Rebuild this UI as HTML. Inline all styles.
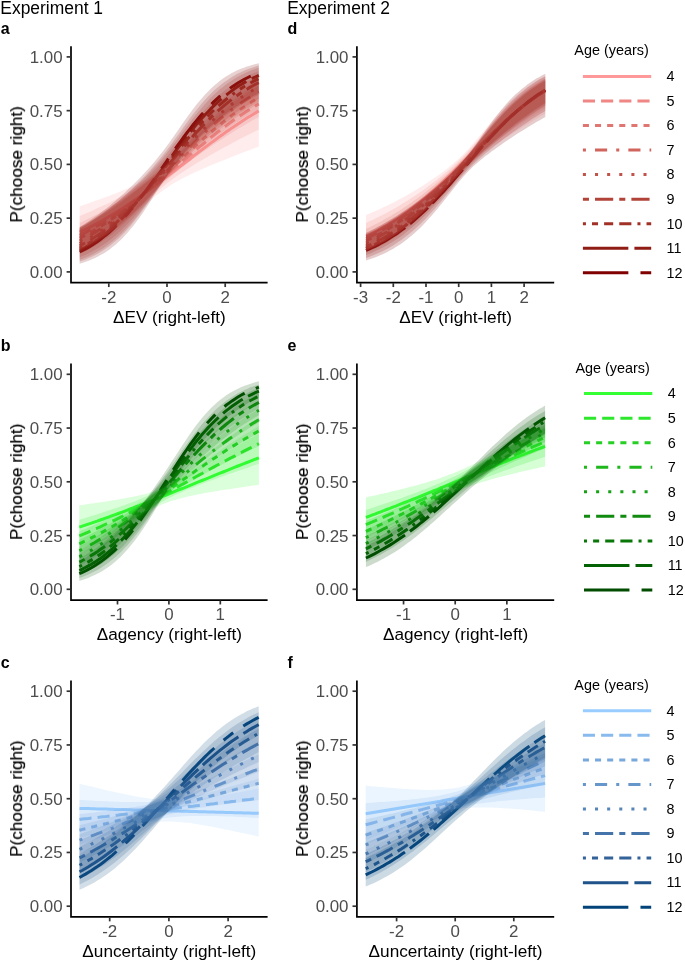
<!DOCTYPE html>
<html lang="en">
<head>
<meta charset="utf-8">
<title>Figure</title>
<style>
html,body{margin:0;padding:0;background:#fff;}
body{width:685px;height:963px;overflow:hidden;font-family:"Liberation Sans", sans-serif;}
svg{display:block;}
text{font-family:"Liberation Sans", sans-serif;filter:url(#nf);}
.tk{font-size:16.9px;fill:#4d4d4d;}
.ti{font-size:17.2px;fill:#000;}
.hd{font-size:17.45px;fill:#000;}
.yt{stroke:#000;stroke-width:0.18px;}
.pl{font-size:16px;font-weight:bold;fill:#000;}
.lt{font-size:14.4px;fill:#000;}
.ll{font-size:14.4px;fill:#000;}
</style>
</head>
<body>
<svg width="685" height="963" viewBox="0 0 685 963">
<defs><filter id="nf" x="-5%" y="-5%" width="110%" height="110%" color-interpolation-filters="sRGB"><feOffset dx="0" dy="0"/></filter></defs>
<rect width="685" height="963" fill="#fff"/>
<g>
<path d="M79.7,232.1 82.7,230.7 85.7,229.3 88.7,227.8 91.6,226.3 94.6,224.7 97.6,223.1 100.6,221.5 103.6,219.8 106.6,218.1 109.6,216.3 112.5,214.5 115.5,212.7 118.5,210.8 121.5,208.9 124.5,207.0 127.5,205.1 130.4,203.1 133.4,201.0 136.4,199.0 139.4,196.9 142.4,194.8 145.4,192.7 148.4,190.5 151.3,188.3 154.3,186.1 157.3,183.9 160.3,181.6 163.3,179.4 166.3,177.1 169.3,174.8 172.2,172.5 175.2,170.2 178.2,167.9 181.2,165.6 184.2,163.3 187.2,161.0 190.2,158.7 193.1,156.4 196.1,154.1 199.1,151.8 202.1,149.6 205.1,147.3 208.1,145.1 211.0,142.9 214.0,140.7 217.0,138.5 220.0,136.3 223.0,134.2 226.0,132.1 229.0,130.0 231.9,127.9 234.9,125.9 237.9,123.9 240.9,121.9 243.9,120.0 246.9,118.1 249.9,116.2 252.8,114.4 255.8,112.6 258.8,110.9" fill="none" stroke="#ff9999" stroke-width="3.00"/>
<path d="M79.7,235.3 82.7,233.8 85.7,232.3 88.7,230.7 91.6,229.1 94.6,227.5 97.6,225.7 100.6,224.0 103.6,222.2 106.6,220.4 109.6,218.5 112.5,216.5 115.5,214.6 118.5,212.5 121.5,210.5 124.5,208.4 127.5,206.2 130.4,204.0 133.4,201.8 136.4,199.5 139.4,197.2 142.4,194.9 145.4,192.5 148.4,190.1 151.3,187.7 154.3,185.2 157.3,182.7 160.3,180.3 163.3,177.7 166.3,175.2 169.3,172.7 172.2,170.1 175.2,167.6 178.2,165.0 181.2,162.5 184.2,159.9 187.2,157.3 190.2,154.8 193.1,152.3 196.1,149.7 199.1,147.2 202.1,144.8 205.1,142.3 208.1,139.9 211.0,137.4 214.0,135.1 217.0,132.7 220.0,130.4 223.0,128.1 226.0,125.9 229.0,123.6 231.9,121.5 234.9,119.3 237.9,117.3 240.9,115.2 243.9,113.2 246.9,111.2 249.9,109.3 252.8,107.5 255.8,105.7 258.8,103.9" fill="none" stroke="#f08785" stroke-width="3.00" stroke-dasharray="12.12 6.06"/>
<path d="M79.7,238.2 82.7,236.7 85.7,235.1 88.7,233.5 91.6,231.8 94.6,230.1 97.6,228.3 100.6,226.5 103.6,224.5 106.6,222.6 109.6,220.6 112.5,218.5 115.5,216.4 118.5,214.2 121.5,212.0 124.5,209.7 127.5,207.3 130.4,204.9 133.4,202.5 136.4,200.0 139.4,197.5 142.4,194.9 145.4,192.3 148.4,189.7 151.3,187.0 154.3,184.3 157.3,181.6 160.3,178.9 163.3,176.1 166.3,173.3 169.3,170.5 172.2,167.7 175.2,164.9 178.2,162.1 181.2,159.3 184.2,156.5 187.2,153.7 190.2,150.9 193.1,148.1 196.1,145.4 199.1,142.7 202.1,140.0 205.1,137.4 208.1,134.8 211.0,132.2 214.0,129.6 217.0,127.1 220.0,124.7 223.0,122.3 226.0,119.9 229.0,117.6 231.9,115.4 234.9,113.2 237.9,111.0 240.9,108.9 243.9,106.9 246.9,104.9 249.9,103.0 252.8,101.1 255.8,99.3 258.8,97.6" fill="none" stroke="#e07671" stroke-width="3.00" stroke-dasharray="6.06 6.06"/>
<path d="M79.7,240.9 82.7,239.4 85.7,237.8 88.7,236.1 91.6,234.4 94.6,232.6 97.6,230.7 100.6,228.8 103.6,226.8 106.6,224.8 109.6,222.6 112.5,220.4 115.5,218.2 118.5,215.8 121.5,213.4 124.5,211.0 127.5,208.5 130.4,205.9 133.4,203.2 136.4,200.6 139.4,197.8 142.4,195.0 145.4,192.2 148.4,189.3 151.3,186.4 154.3,183.4 157.3,180.5 160.3,177.5 163.3,174.4 166.3,171.4 169.3,168.3 172.2,165.3 175.2,162.2 178.2,159.1 181.2,156.1 184.2,153.1 187.2,150.0 190.2,147.0 193.1,144.1 196.1,141.1 199.1,138.2 202.1,135.4 205.1,132.6 208.1,129.8 211.0,127.1 214.0,124.4 217.0,121.8 220.0,119.2 223.0,116.7 226.0,114.3 229.0,112.0 231.9,109.7 234.9,107.4 237.9,105.2 240.9,103.1 243.9,101.1 246.9,99.1 249.9,97.2 252.8,95.4 255.8,93.6 258.8,91.9" fill="none" stroke="#d1655d" stroke-width="3.00" stroke-dasharray="3.03 9.09 12.12 9.09"/>
<path d="M79.7,243.5 82.7,241.9 85.7,240.3 88.7,238.6 91.6,236.8 94.6,235.0 97.6,233.1 100.6,231.1 103.6,229.0 106.6,226.8 109.6,224.6 112.5,222.3 115.5,219.9 118.5,217.4 121.5,214.9 124.5,212.3 127.5,209.6 130.4,206.8 133.4,204.0 136.4,201.1 139.4,198.1 142.4,195.1 145.4,192.0 148.4,188.9 151.3,185.8 154.3,182.5 157.3,179.3 160.3,176.0 163.3,172.8 166.3,169.5 169.3,166.2 172.2,162.8 175.2,159.5 178.2,156.2 181.2,152.9 184.2,149.7 187.2,146.4 190.2,143.2 193.1,140.1 196.1,136.9 199.1,133.9 202.1,130.8 205.1,127.9 208.1,125.0 211.0,122.2 214.0,119.4 217.0,116.7 220.0,114.1 223.0,111.5 226.0,109.0 229.0,106.6 231.9,104.3 234.9,102.1 237.9,99.9 240.9,97.8 243.9,95.8 246.9,93.9 249.9,92.1 252.8,90.3 255.8,88.6 258.8,86.9" fill="none" stroke="#c1544a" stroke-width="3.00" stroke-dasharray="3.03 9.09"/>
<path d="M79.7,245.9 82.7,244.3 85.7,242.7 88.7,241.0 91.6,239.2 94.6,237.3 97.6,235.3 100.6,233.3 103.6,231.1 106.6,228.9 109.6,226.5 112.5,224.1 115.5,221.6 118.5,219.0 121.5,216.3 124.5,213.5 127.5,210.7 130.4,207.7 133.4,204.7 136.4,201.6 139.4,198.4 142.4,195.2 145.4,191.9 148.4,188.5 151.3,185.1 154.3,181.7 157.3,178.2 160.3,174.6 163.3,171.1 166.3,167.5 169.3,164.0 172.2,160.4 175.2,156.9 178.2,153.3 181.2,149.8 184.2,146.3 187.2,142.9 190.2,139.5 193.1,136.1 196.1,132.8 199.1,129.6 202.1,126.4 205.1,123.4 208.1,120.4 211.0,117.4 214.0,114.6 217.0,111.8 220.0,109.2 223.0,106.6 226.0,104.1 229.0,101.7 231.9,99.4 234.9,97.2 237.9,95.0 240.9,93.0 243.9,91.1 246.9,89.2 249.9,87.4 252.8,85.7 255.8,84.1 258.8,82.6" fill="none" stroke="#b14338" stroke-width="3.00" stroke-dasharray="6.06 6.06 18.18 6.06"/>
<path d="M79.7,248.1 82.7,246.5 85.7,244.9 88.7,243.2 91.6,241.4 94.6,239.4 97.6,237.4 100.6,235.3 103.6,233.1 106.6,230.8 109.6,228.4 112.5,225.9 115.5,223.3 118.5,220.5 121.5,217.7 124.5,214.8 127.5,211.8 130.4,208.6 133.4,205.4 136.4,202.1 139.4,198.7 142.4,195.3 145.4,191.7 148.4,188.1 151.3,184.5 154.3,180.8 157.3,177.0 160.3,173.2 163.3,169.4 166.3,165.6 169.3,161.8 172.2,158.0 175.2,154.2 178.2,150.4 181.2,146.7 184.2,143.0 187.2,139.4 190.2,135.8 193.1,132.3 196.1,128.8 199.1,125.5 202.1,122.2 205.1,119.0 208.1,115.9 211.0,112.9 214.0,110.0 217.0,107.2 220.0,104.6 223.0,102.0 226.0,99.5 229.0,97.1 231.9,94.9 234.9,92.7 237.9,90.6 240.9,88.6 243.9,86.8 246.9,85.0 249.9,83.3 252.8,81.7 255.8,80.2 258.8,78.7" fill="none" stroke="#a13126" stroke-width="3.00" stroke-dasharray="3.03 6.06 6.06 6.06 9.09 6.06 12.12 6.06"/>
<path d="M79.7,250.1 82.7,248.6 85.7,247.0 88.7,245.2 91.6,243.4 94.6,241.5 97.6,239.5 100.6,237.3 103.6,235.1 106.6,232.7 109.6,230.2 112.5,227.6 115.5,224.9 118.5,222.1 121.5,219.1 124.5,216.0 127.5,212.8 130.4,209.5 133.4,206.1 136.4,202.6 139.4,199.0 142.4,195.3 145.4,191.6 148.4,187.7 151.3,183.8 154.3,179.9 157.3,175.8 160.3,171.8 163.3,167.8 166.3,163.7 169.3,159.6 172.2,155.6 175.2,151.5 178.2,147.5 181.2,143.6 184.2,139.7 187.2,135.9 190.2,132.1 193.1,128.5 196.1,124.9 199.1,121.4 202.1,118.1 205.1,114.8 208.1,111.7 211.0,108.6 214.0,105.7 217.0,102.9 220.0,100.2 223.0,97.7 226.0,95.2 229.0,92.9 231.9,90.7 234.9,88.6 237.9,86.6 240.9,84.7 243.9,82.9 246.9,81.3 249.9,79.7 252.8,78.2 255.8,76.8 258.8,75.4" fill="none" stroke="#901d15" stroke-width="3.00" stroke-dasharray="45.45 6.06 24.24 6.06"/>
<path d="M79.7,252.0 82.7,250.5 85.7,248.9 88.7,247.2 91.6,245.4 94.6,243.4 97.6,241.4 100.6,239.2 103.6,236.9 106.6,234.5 109.6,232.0 112.5,229.3 115.5,226.5 118.5,223.5 121.5,220.5 124.5,217.2 127.5,213.9 130.4,210.4 133.4,206.9 136.4,203.1 139.4,199.3 142.4,195.4 145.4,191.4 148.4,187.3 151.3,183.2 154.3,179.0 157.3,174.7 160.3,170.4 163.3,166.1 166.3,161.8 169.3,157.4 172.2,153.2 175.2,148.9 178.2,144.7 181.2,140.6 184.2,136.5 187.2,132.5 190.2,128.6 193.1,124.8 196.1,121.1 199.1,117.6 202.1,114.1 205.1,110.8 208.1,107.6 211.0,104.6 214.0,101.7 217.0,98.9 220.0,96.2 223.0,93.7 226.0,91.3 229.0,89.1 231.9,86.9 234.9,84.9 237.9,83.0 240.9,81.2 243.9,79.5 246.9,78.0 249.9,76.5 252.8,75.1 255.8,73.8 258.8,72.6" fill="none" stroke="#800000" stroke-width="3.00" stroke-dasharray="45.45 12.12 12.12 12.12 24.24 12.12 12.12 12.12"/>
<path d="M79.7,206.2 82.7,205.2 85.7,204.2 88.7,203.2 91.6,202.2 94.6,201.1 97.6,200.1 100.6,199.0 103.6,197.9 106.6,196.8 109.6,195.7 112.5,194.6 115.5,193.4 118.5,192.2 121.5,191.0 124.5,189.8 127.5,188.5 130.4,187.2 133.4,185.9 136.4,184.5 139.4,183.0 142.4,181.5 145.4,179.9 148.4,178.2 151.3,176.5 154.3,174.6 157.3,172.6 160.3,170.5 163.3,168.2 166.3,165.8 169.3,163.3 172.2,160.6 175.2,157.9 178.2,155.0 181.2,152.1 184.2,149.1 187.2,146.1 190.2,143.1 193.1,140.1 196.1,137.0 199.1,134.0 202.1,131.0 205.1,128.0 208.1,125.1 211.0,122.2 214.0,119.4 217.0,116.7 220.0,114.0 223.0,111.4 226.0,108.8 229.0,106.3 231.9,103.9 234.9,101.6 237.9,99.4 240.9,97.3 243.9,95.2 246.9,93.2 249.9,91.3 252.8,89.5 255.8,87.7 258.8,86.1 L258.8,146.6 255.8,147.7 252.8,148.8 249.9,149.9 246.9,151.1 243.9,152.2 240.9,153.3 237.9,154.5 234.9,155.7 231.9,156.8 229.0,158.0 226.0,159.2 223.0,160.4 220.0,161.6 217.0,162.8 214.0,164.0 211.0,165.3 208.1,166.5 205.1,167.8 202.1,169.1 199.1,170.4 196.1,171.8 193.1,173.2 190.2,174.6 187.2,176.1 184.2,177.6 181.2,179.1 178.2,180.8 175.2,182.5 172.2,184.3 169.3,186.2 166.3,188.2 163.3,190.3 160.3,192.5 157.3,194.7 154.3,197.1 151.3,199.6 148.4,202.1 145.4,204.6 142.4,207.1 139.4,209.7 136.4,212.2 133.4,214.7 130.4,217.2 127.5,219.6 124.5,222.0 121.5,224.3 118.5,226.6 115.5,228.7 112.5,230.9 109.6,232.9 106.6,234.9 103.6,236.8 100.6,238.6 97.6,240.4 94.6,242.0 91.6,243.6 88.7,245.2 85.7,246.6 82.7,248.0 79.7,249.4Z" fill="#ff9999" fill-opacity="0.18"/>
<path d="M79.7,216.1 82.7,214.8 85.7,213.5 88.7,212.2 91.6,210.9 94.6,209.5 97.6,208.1 100.6,206.7 103.6,205.3 106.6,203.9 109.6,202.4 112.5,200.9 115.5,199.4 118.5,197.8 121.5,196.3 124.5,194.7 127.5,193.0 130.4,191.3 133.4,189.6 136.4,187.8 139.4,186.0 142.4,184.1 145.4,182.2 148.4,180.2 151.3,178.1 154.3,175.9 157.3,173.7 160.3,171.3 163.3,168.8 166.3,166.2 169.3,163.5 172.2,160.7 175.2,157.8 178.2,154.8 181.2,151.8 184.2,148.7 187.2,145.7 190.2,142.6 193.1,139.5 196.1,136.4 199.1,133.3 202.1,130.3 205.1,127.3 208.1,124.3 211.0,121.5 214.0,118.6 217.0,115.9 220.0,113.2 223.0,110.6 226.0,108.0 229.0,105.6 231.9,103.2 234.9,100.9 237.9,98.7 240.9,96.5 243.9,94.5 246.9,92.5 249.9,90.6 252.8,88.8 255.8,87.1 258.8,85.5 L258.8,129.6 255.8,131.0 252.8,132.5 249.9,134.0 246.9,135.5 243.9,137.0 240.9,138.6 237.9,140.1 234.9,141.7 231.9,143.3 229.0,144.9 226.0,146.5 223.0,148.1 220.0,149.8 217.0,151.4 214.0,153.1 211.0,154.8 208.1,156.5 205.1,158.3 202.1,160.0 199.1,161.8 196.1,163.6 193.1,165.4 190.2,167.3 187.2,169.2 184.2,171.2 181.2,173.1 178.2,175.2 175.2,177.3 172.2,179.5 169.3,181.8 166.3,184.1 163.3,186.5 160.3,189.0 157.3,191.6 154.3,194.2 151.3,196.9 148.4,199.6 145.4,202.3 142.4,205.0 139.4,207.7 136.4,210.3 133.4,212.9 130.4,215.5 127.5,218.1 124.5,220.5 121.5,222.9 118.5,225.3 115.5,227.5 112.5,229.7 109.6,231.8 106.6,233.9 103.6,235.8 100.6,237.7 97.6,239.5 94.6,241.3 91.6,242.9 88.7,244.5 85.7,246.0 82.7,247.4 79.7,248.8Z" fill="#f08785" fill-opacity="0.18"/>
<path d="M79.7,223.0 82.7,221.6 85.7,220.1 88.7,218.6 91.6,217.1 94.6,215.5 97.6,213.9 100.6,212.3 103.6,210.6 106.6,208.9 109.6,207.2 112.5,205.5 115.5,203.7 118.5,201.8 121.5,200.0 124.5,198.1 127.5,196.1 130.4,194.1 133.4,192.1 136.4,190.0 139.4,187.9 142.4,185.7 145.4,183.5 148.4,181.2 151.3,178.8 154.3,176.4 157.3,173.8 160.3,171.2 163.3,168.4 166.3,165.6 169.3,162.7 172.2,159.7 175.2,156.7 178.2,153.5 181.2,150.4 184.2,147.2 187.2,144.0 190.2,140.7 193.1,137.5 196.1,134.4 199.1,131.2 202.1,128.1 205.1,125.0 208.1,122.1 211.0,119.1 214.0,116.3 217.0,113.5 220.0,110.8 223.0,108.1 226.0,105.6 229.0,103.1 231.9,100.8 234.9,98.5 237.9,96.3 240.9,94.2 243.9,92.2 246.9,90.3 249.9,88.4 252.8,86.7 255.8,85.0 258.8,83.4 L258.8,116.9 255.8,118.6 252.8,120.2 249.9,121.9 246.9,123.7 243.9,125.4 240.9,127.2 237.9,129.0 234.9,130.8 231.9,132.7 229.0,134.6 226.0,136.5 223.0,138.4 220.0,140.4 217.0,142.3 214.0,144.3 211.0,146.4 208.1,148.4 205.1,150.5 202.1,152.6 199.1,154.7 196.1,156.9 193.1,159.1 190.2,161.3 187.2,163.6 184.2,165.9 181.2,168.2 178.2,170.7 175.2,173.1 172.2,175.6 169.3,178.2 166.3,180.9 163.3,183.6 160.3,186.4 157.3,189.2 154.3,192.1 151.3,195.0 148.4,197.9 145.4,200.8 142.4,203.7 139.4,206.6 136.4,209.4 133.4,212.2 130.4,214.9 127.5,217.5 124.5,220.1 121.5,222.6 118.5,225.1 115.5,227.4 112.5,229.7 109.6,231.9 106.6,234.0 103.6,236.0 100.6,238.0 97.6,239.8 94.6,241.6 91.6,243.3 88.7,244.9 85.7,246.4 82.7,247.9 79.7,249.3Z" fill="#e07671" fill-opacity="0.18"/>
<path d="M79.7,226.9 82.7,225.3 85.7,223.8 88.7,222.2 91.6,220.5 94.6,218.8 97.6,217.1 100.6,215.3 103.6,213.5 106.6,211.6 109.6,209.7 112.5,207.8 115.5,205.8 118.5,203.7 121.5,201.7 124.5,199.6 127.5,197.4 130.4,195.2 133.4,192.9 136.4,190.6 139.4,188.3 142.4,185.9 145.4,183.4 148.4,180.8 151.3,178.2 154.3,175.5 157.3,172.7 160.3,169.9 163.3,166.9 166.3,163.9 169.3,160.7 172.2,157.5 175.2,154.2 178.2,150.9 181.2,147.5 184.2,144.1 187.2,140.7 190.2,137.4 193.1,134.0 196.1,130.7 199.1,127.4 202.1,124.2 205.1,121.0 208.1,117.9 211.0,114.9 214.0,112.0 217.0,109.2 220.0,106.4 223.0,103.8 226.0,101.3 229.0,98.8 231.9,96.5 234.9,94.2 237.9,92.1 240.9,90.1 243.9,88.1 246.9,86.3 249.9,84.5 252.8,82.8 255.8,81.2 258.8,79.7 L258.8,108.9 255.8,110.6 252.8,112.3 249.9,114.1 246.9,115.9 243.9,117.7 240.9,119.6 237.9,121.5 234.9,123.5 231.9,125.5 229.0,127.5 226.0,129.6 223.0,131.7 220.0,133.8 217.0,136.0 214.0,138.2 211.0,140.4 208.1,142.7 205.1,145.0 202.1,147.3 199.1,149.7 196.1,152.1 193.1,154.5 190.2,157.0 187.2,159.6 184.2,162.1 181.2,164.8 178.2,167.5 175.2,170.2 172.2,173.0 169.3,175.9 166.3,178.8 163.3,181.8 160.3,184.9 157.3,188.0 154.3,191.2 151.3,194.3 148.4,197.5 145.4,200.6 142.4,203.7 139.4,206.8 136.4,209.8 133.4,212.8 130.4,215.7 127.5,218.5 124.5,221.2 121.5,223.9 118.5,226.4 115.5,228.9 112.5,231.3 109.6,233.5 106.6,235.7 103.6,237.8 100.6,239.8 97.6,241.7 94.6,243.5 91.6,245.2 88.7,246.8 85.7,248.3 82.7,249.8 79.7,251.2Z" fill="#d1655d" fill-opacity="0.18"/>
<path d="M79.7,228.6 82.7,227.0 85.7,225.4 88.7,223.7 91.6,221.9 94.6,220.1 97.6,218.3 100.6,216.4 103.6,214.5 106.6,212.5 109.6,210.5 112.5,208.4 115.5,206.3 118.5,204.1 121.5,201.9 124.5,199.6 127.5,197.3 130.4,194.9 133.4,192.5 136.4,190.0 139.4,187.4 142.4,184.8 145.4,182.2 148.4,179.4 151.3,176.6 154.3,173.7 157.3,170.7 160.3,167.6 163.3,164.5 166.3,161.2 169.3,157.8 172.2,154.4 175.2,150.9 178.2,147.3 181.2,143.7 184.2,140.1 187.2,136.5 190.2,132.9 193.1,129.4 196.1,125.9 199.1,122.5 202.1,119.1 205.1,115.9 208.1,112.7 211.0,109.6 214.0,106.7 217.0,103.8 220.0,101.1 223.0,98.4 226.0,95.9 229.0,93.5 231.9,91.3 234.9,89.1 237.9,87.0 240.9,85.1 243.9,83.3 246.9,81.5 249.9,79.9 252.8,78.3 255.8,76.9 258.8,75.5 L258.8,103.7 255.8,105.4 252.8,107.1 249.9,108.9 246.9,110.8 243.9,112.6 240.9,114.6 237.9,116.5 234.9,118.5 231.9,120.6 229.0,122.7 226.0,124.8 223.0,127.0 220.0,129.3 217.0,131.5 214.0,133.8 211.0,136.2 208.1,138.6 205.1,141.1 202.1,143.5 199.1,146.1 196.1,148.6 193.1,151.3 190.2,154.0 187.2,156.7 184.2,159.5 181.2,162.3 178.2,165.2 175.2,168.2 172.2,171.3 169.3,174.5 166.3,177.7 163.3,181.0 160.3,184.3 157.3,187.7 154.3,191.1 151.3,194.6 148.4,198.0 145.4,201.4 142.4,204.8 139.4,208.1 136.4,211.3 133.4,214.5 130.4,217.6 127.5,220.6 124.5,223.5 121.5,226.2 118.5,228.9 115.5,231.5 112.5,233.9 109.6,236.3 106.6,238.5 103.6,240.6 100.6,242.6 97.6,244.5 94.6,246.3 91.6,248.0 88.7,249.6 85.7,251.1 82.7,252.5 79.7,253.8Z" fill="#c1544a" fill-opacity="0.18"/>
<path d="M79.7,227.8 82.7,226.1 85.7,224.4 88.7,222.6 91.6,220.8 94.6,219.0 97.6,217.1 100.6,215.1 103.6,213.1 106.6,211.0 109.6,208.9 112.5,206.8 115.5,204.6 118.5,202.3 121.5,200.0 124.5,197.6 127.5,195.2 130.4,192.7 133.4,190.2 136.4,187.6 139.4,185.0 142.4,182.2 145.4,179.4 148.4,176.6 151.3,173.6 154.3,170.6 157.3,167.4 160.3,164.1 163.3,160.8 166.3,157.3 169.3,153.7 172.2,150.1 175.2,146.3 178.2,142.5 181.2,138.7 184.2,134.9 187.2,131.0 190.2,127.2 193.1,123.5 196.1,119.9 199.1,116.3 202.1,112.8 205.1,109.5 208.1,106.2 211.0,103.1 214.0,100.2 217.0,97.3 220.0,94.6 223.0,92.1 226.0,89.6 229.0,87.4 231.9,85.2 234.9,83.2 237.9,81.3 240.9,79.5 243.9,77.8 246.9,76.2 249.9,74.8 252.8,73.4 255.8,72.2 258.8,71.0 L258.8,101.6 255.8,103.2 252.8,105.0 249.9,106.7 246.9,108.5 243.9,110.4 240.9,112.3 237.9,114.3 234.9,116.3 231.9,118.4 229.0,120.5 226.0,122.6 223.0,124.8 220.0,127.1 217.0,129.4 214.0,131.7 211.0,134.1 208.1,136.6 205.1,139.1 202.1,141.6 199.1,144.2 196.1,146.9 193.1,149.6 190.2,152.4 187.2,155.3 184.2,158.2 181.2,161.2 178.2,164.3 175.2,167.5 172.2,170.8 169.3,174.2 166.3,177.7 163.3,181.3 160.3,184.9 157.3,188.6 154.3,192.4 151.3,196.1 148.4,199.9 145.4,203.6 142.4,207.2 139.4,210.8 136.4,214.3 133.4,217.7 130.4,220.9 127.5,224.1 124.5,227.1 121.5,230.0 118.5,232.8 115.5,235.4 112.5,237.9 109.6,240.2 106.6,242.5 103.6,244.6 100.6,246.5 97.6,248.4 94.6,250.1 91.6,251.7 88.7,253.2 85.7,254.7 82.7,256.0 79.7,257.2Z" fill="#b14338" fill-opacity="0.18"/>
<path d="M79.7,227.5 82.7,225.8 85.7,224.0 88.7,222.1 91.6,220.3 94.6,218.3 97.6,216.3 100.6,214.3 103.6,212.2 106.6,210.1 109.6,207.9 112.5,205.6 115.5,203.3 118.5,200.9 121.5,198.5 124.5,196.0 127.5,193.5 130.4,190.9 133.4,188.3 136.4,185.6 139.4,182.8 142.4,179.9 145.4,177.0 148.4,174.0 151.3,170.9 154.3,167.7 157.3,164.4 160.3,160.9 163.3,157.4 166.3,153.7 169.3,150.0 172.2,146.1 175.2,142.2 178.2,138.2 181.2,134.1 184.2,130.1 187.2,126.1 190.2,122.2 193.1,118.3 196.1,114.5 199.1,110.9 202.1,107.4 205.1,104.0 208.1,100.7 211.0,97.6 214.0,94.7 217.0,91.9 220.0,89.3 223.0,86.9 226.0,84.6 229.0,82.4 231.9,80.4 234.9,78.5 237.9,76.8 240.9,75.2 243.9,73.7 246.9,72.3 249.9,71.0 252.8,69.8 255.8,68.7 258.8,67.7 L258.8,98.8 255.8,100.4 252.8,102.1 249.9,103.9 246.9,105.7 243.9,107.5 240.9,109.4 237.9,111.4 234.9,113.4 231.9,115.5 229.0,117.6 226.0,119.8 223.0,122.0 220.0,124.3 217.0,126.6 214.0,129.0 211.0,131.5 208.1,134.0 205.1,136.6 202.1,139.2 199.1,141.9 196.1,144.7 193.1,147.5 190.2,150.4 187.2,153.4 184.2,156.5 181.2,159.7 178.2,163.0 175.2,166.5 172.2,170.0 169.3,173.7 166.3,177.5 163.3,181.3 160.3,185.3 157.3,189.3 154.3,193.4 151.3,197.4 148.4,201.5 145.4,205.4 142.4,209.3 139.4,213.2 136.4,216.9 133.4,220.4 130.4,223.9 127.5,227.2 124.5,230.3 121.5,233.3 118.5,236.1 115.5,238.7 112.5,241.3 109.6,243.6 106.6,245.8 103.6,247.9 100.6,249.8 97.6,251.6 94.6,253.2 91.6,254.7 88.7,256.2 85.7,257.5 82.7,258.7 79.7,259.8Z" fill="#a13126" fill-opacity="0.18"/>
<path d="M79.7,228.8 82.7,227.0 85.7,225.1 88.7,223.2 91.6,221.2 94.6,219.2 97.6,217.1 100.6,215.0 103.6,212.8 106.6,210.5 109.6,208.2 112.5,205.8 115.5,203.4 118.5,200.9 121.5,198.3 124.5,195.7 127.5,193.0 130.4,190.2 133.4,187.4 136.4,184.5 139.4,181.6 142.4,178.5 145.4,175.4 148.4,172.2 151.3,169.0 154.3,165.6 157.3,162.1 160.3,158.5 163.3,154.8 166.3,150.9 169.3,147.0 172.2,142.9 175.2,138.8 178.2,134.7 181.2,130.5 184.2,126.3 187.2,122.2 190.2,118.1 193.1,114.2 196.1,110.4 199.1,106.7 202.1,103.1 205.1,99.7 208.1,96.5 211.0,93.5 214.0,90.6 217.0,87.9 220.0,85.4 223.0,83.1 226.0,80.9 229.0,78.9 231.9,77.0 234.9,75.2 237.9,73.6 240.9,72.2 243.9,70.8 246.9,69.6 249.9,68.4 252.8,67.4 255.8,66.4 258.8,65.6 L258.8,94.5 255.8,96.2 252.8,97.8 249.9,99.6 246.9,101.3 243.9,103.2 240.9,105.1 237.9,107.1 234.9,109.1 231.9,111.2 229.0,113.3 226.0,115.5 223.0,117.8 220.0,120.2 217.0,122.6 214.0,125.0 211.0,127.6 208.1,130.2 205.1,132.9 202.1,135.6 199.1,138.5 196.1,141.4 193.1,144.4 190.2,147.5 187.2,150.7 184.2,154.0 181.2,157.4 178.2,160.9 175.2,164.6 172.2,168.4 169.3,172.4 166.3,176.5 163.3,180.7 160.3,184.9 157.3,189.3 154.3,193.6 151.3,197.9 148.4,202.3 145.4,206.5 142.4,210.6 139.4,214.7 136.4,218.6 133.4,222.3 130.4,225.9 127.5,229.3 124.5,232.5 121.5,235.5 118.5,238.4 115.5,241.1 112.5,243.6 109.6,245.9 106.6,248.1 103.6,250.1 100.6,252.0 97.6,253.7 94.6,255.3 91.6,256.8 88.7,258.1 85.7,259.4 82.7,260.5 79.7,261.5Z" fill="#901d15" fill-opacity="0.18"/>
<path d="M79.7,227.0 82.7,225.2 85.7,223.3 88.7,221.3 91.6,219.2 94.6,217.1 97.6,215.0 100.6,212.8 103.6,210.5 106.6,208.2 109.6,205.8 112.5,203.3 115.5,200.8 118.5,198.2 121.5,195.6 124.5,192.9 127.5,190.1 130.4,187.3 133.4,184.4 136.4,181.4 139.4,178.4 142.4,175.2 145.4,172.0 148.4,168.8 151.3,165.4 154.3,161.9 157.3,158.3 160.3,154.6 163.3,150.7 166.3,146.8 169.3,142.7 172.2,138.5 175.2,134.3 178.2,129.9 181.2,125.6 184.2,121.3 187.2,117.1 190.2,113.0 193.1,109.0 196.1,105.1 199.1,101.4 202.1,97.9 205.1,94.5 208.1,91.4 211.0,88.5 214.0,85.7 217.0,83.2 220.0,80.8 223.0,78.6 226.0,76.6 229.0,74.8 231.9,73.1 234.9,71.5 237.9,70.1 240.9,68.8 243.9,67.7 246.9,66.6 249.9,65.7 252.8,64.8 255.8,64.0 258.8,63.3 L258.8,93.1 255.8,94.7 252.8,96.3 249.9,98.0 246.9,99.8 243.9,101.6 240.9,103.5 237.9,105.4 234.9,107.4 231.9,109.5 229.0,111.6 226.0,113.8 223.0,116.1 220.0,118.4 217.0,120.8 214.0,123.3 211.0,125.9 208.1,128.5 205.1,131.2 202.1,134.0 199.1,136.9 196.1,139.9 193.1,142.9 190.2,146.1 187.2,149.5 184.2,152.9 181.2,156.5 178.2,160.3 175.2,164.2 172.2,168.2 169.3,172.5 166.3,176.8 163.3,181.4 160.3,186.0 157.3,190.6 154.3,195.3 151.3,200.0 148.4,204.6 145.4,209.1 142.4,213.5 139.4,217.7 136.4,221.8 133.4,225.7 130.4,229.3 127.5,232.8 124.5,236.1 121.5,239.2 118.5,242.0 115.5,244.7 112.5,247.1 109.6,249.4 106.6,251.5 103.6,253.4 100.6,255.1 97.6,256.7 94.6,258.2 91.6,259.5 88.7,260.7 85.7,261.8 82.7,262.8 79.7,263.7Z" fill="#800000" fill-opacity="0.18"/>
<path d="M71.00,46.15 V282.65 H267.60" fill="none" stroke="#000" stroke-width="1.70"/>
<path d="M66.60,271.90 H70.50" stroke="#333" stroke-width="1.70"/>
<text x="62.60" y="277.90" text-anchor="end" class="tk">0.00</text>
<path d="M66.60,218.15 H70.50" stroke="#333" stroke-width="1.70"/>
<text x="62.60" y="224.15" text-anchor="end" class="tk">0.25</text>
<path d="M66.60,164.40 H70.50" stroke="#333" stroke-width="1.70"/>
<text x="62.60" y="170.40" text-anchor="end" class="tk">0.50</text>
<path d="M66.60,110.65 H70.50" stroke="#333" stroke-width="1.70"/>
<text x="62.60" y="116.65" text-anchor="end" class="tk">0.75</text>
<path d="M66.60,56.90 H70.50" stroke="#333" stroke-width="1.70"/>
<text x="62.60" y="62.90" text-anchor="end" class="tk">1.00</text>
<path d="M108.80,283.15 V287.05" stroke="#333" stroke-width="1.70"/>
<text x="108.80" y="302.95" text-anchor="middle" class="tk">-2</text>
<path d="M167.00,283.15 V287.05" stroke="#333" stroke-width="1.70"/>
<text x="167.00" y="302.95" text-anchor="middle" class="tk">0</text>
<path d="M225.20,283.15 V287.05" stroke="#333" stroke-width="1.70"/>
<text x="225.20" y="302.95" text-anchor="middle" class="tk">2</text>
<text x="169.30" y="322.95" text-anchor="middle" class="ti">ΔEV (right-left)</text>
<text transform="translate(22.10,164.40) rotate(-90)" text-anchor="middle" class="ti yt">P(choose right)</text>
<text x="0.80" y="33.65" class="pl">a</text>
</g>
<g>
<path d="M79.3,527.2 82.3,526.2 85.3,525.2 88.3,524.2 91.3,523.2 94.3,522.1 97.3,521.1 100.3,520.0 103.3,519.0 106.2,517.9 109.2,516.8 112.2,515.7 115.2,514.6 118.2,513.5 121.2,512.4 124.2,511.3 127.2,510.2 130.2,509.0 133.2,507.9 136.2,506.7 139.2,505.6 142.2,504.4 145.2,503.3 148.2,502.1 151.1,500.9 154.1,499.7 157.1,498.6 160.1,497.4 163.1,496.2 166.1,495.0 169.1,493.8 172.1,492.6 175.1,491.4 178.1,490.2 181.1,489.0 184.1,487.8 187.1,486.6 190.1,485.3 193.1,484.1 196.0,482.9 199.0,481.7 202.0,480.5 205.0,479.3 208.0,478.1 211.0,476.8 214.0,475.6 217.0,474.4 220.0,473.2 223.0,472.0 226.0,470.8 229.0,469.6 232.0,468.4 235.0,467.2 237.9,466.0 240.9,464.8 243.9,463.7 246.9,462.5 249.9,461.3 252.9,460.1 255.9,459.0 258.9,457.8" fill="none" stroke="#33ff33" stroke-width="3.00"/>
<path d="M79.3,535.9 82.3,534.7 85.3,533.4 88.3,532.1 91.3,530.8 94.3,529.5 97.3,528.2 100.3,526.8 103.3,525.4 106.2,524.0 109.2,522.6 112.2,521.2 115.2,519.8 118.2,518.3 121.2,516.8 124.2,515.3 127.2,513.8 130.2,512.3 133.2,510.8 136.2,509.3 139.2,507.7 142.2,506.1 145.2,504.6 148.2,503.0 151.1,501.4 154.1,499.8 157.1,498.2 160.1,496.5 163.1,494.9 166.1,493.3 169.1,491.6 172.1,490.0 175.1,488.3 178.1,486.7 181.1,485.0 184.1,483.4 187.1,481.7 190.1,480.1 193.1,478.4 196.0,476.8 199.0,475.1 202.0,473.5 205.0,471.8 208.0,470.2 211.0,468.5 214.0,466.9 217.0,465.3 220.0,463.7 223.0,462.1 226.0,460.5 229.0,458.9 232.0,457.3 235.0,455.8 237.9,454.2 240.9,452.7 243.9,451.1 246.9,449.6 249.9,448.1 252.9,446.6 255.9,445.2 258.9,443.7" fill="none" stroke="#2ce72c" stroke-width="3.00" stroke-dasharray="12.12 6.06"/>
<path d="M79.3,543.8 82.3,542.3 85.3,540.9 88.3,539.4 91.3,537.9 94.3,536.4 97.3,534.8 100.3,533.2 103.3,531.5 106.2,529.9 109.2,528.2 112.2,526.5 115.2,524.7 118.2,522.9 121.2,521.1 124.2,519.3 127.2,517.5 130.2,515.6 133.2,513.7 136.2,511.7 139.2,509.8 142.2,507.8 145.2,505.9 148.2,503.8 151.1,501.8 154.1,499.8 157.1,497.8 160.1,495.7 163.1,493.6 166.1,491.6 169.1,489.5 172.1,487.4 175.1,485.3 178.1,483.2 181.1,481.1 184.1,479.0 187.1,476.9 190.1,474.8 193.1,472.7 196.0,470.6 199.0,468.6 202.0,466.5 205.0,464.5 208.0,462.4 211.0,460.4 214.0,458.4 217.0,456.4 220.0,454.4 223.0,452.5 226.0,450.5 229.0,448.6 232.0,446.7 235.0,444.9 237.9,443.0 240.9,441.2 243.9,439.5 246.9,437.7 249.9,436.0 252.9,434.3 255.9,432.6 258.9,430.9" fill="none" stroke="#25cf24" stroke-width="3.00" stroke-dasharray="6.06 6.06"/>
<path d="M79.3,550.7 82.3,549.2 85.3,547.6 88.3,546.0 91.3,544.4 94.3,542.7 97.3,540.9 100.3,539.1 103.3,537.3 106.2,535.4 109.2,533.5 112.2,531.5 115.2,529.5 118.2,527.4 121.2,525.3 124.2,523.2 127.2,521.0 130.2,518.8 133.2,516.5 136.2,514.2 139.2,511.9 142.2,509.5 145.2,507.1 148.2,504.7 151.1,502.3 154.1,499.8 157.1,497.3 160.1,494.9 163.1,492.3 166.1,489.8 169.1,487.3 172.1,484.8 175.1,482.2 178.1,479.7 181.1,477.1 184.1,474.6 187.1,472.1 190.1,469.6 193.1,467.1 196.0,464.6 199.0,462.1 202.0,459.7 205.0,457.3 208.0,454.9 211.0,452.5 214.0,450.2 217.0,447.9 220.0,445.6 223.0,443.4 226.0,441.2 229.0,439.0 232.0,436.9 235.0,434.8 237.9,432.8 240.9,430.8 243.9,428.8 246.9,426.9 249.9,425.1 252.9,423.3 255.9,421.5 258.9,419.8" fill="none" stroke="#1eb81d" stroke-width="3.00" stroke-dasharray="3.03 9.09 12.12 9.09"/>
<path d="M79.3,556.8 82.3,555.3 85.3,553.6 88.3,552.0 91.3,550.2 94.3,548.4 97.3,546.5 100.3,544.6 103.3,542.6 106.2,540.5 109.2,538.4 112.2,536.2 115.2,534.0 118.2,531.7 121.2,529.3 124.2,526.9 127.2,524.4 130.2,521.9 133.2,519.3 136.2,516.6 139.2,513.9 142.2,511.2 145.2,508.4 148.2,505.6 151.1,502.7 154.1,499.9 157.1,496.9 160.1,494.0 163.1,491.1 166.1,488.1 169.1,485.1 172.1,482.1 175.1,479.2 178.1,476.2 181.1,473.2 184.1,470.3 187.1,467.3 190.1,464.4 193.1,461.5 196.0,458.6 199.0,455.8 202.0,453.0 205.0,450.3 208.0,447.6 211.0,444.9 214.0,442.3 217.0,439.8 220.0,437.3 223.0,434.8 226.0,432.4 229.0,430.1 232.0,427.9 235.0,425.7 237.9,423.5 240.9,421.5 243.9,419.4 246.9,417.5 249.9,415.6 252.9,413.8 255.9,412.0 258.9,410.3" fill="none" stroke="#17a116" stroke-width="3.00" stroke-dasharray="3.03 9.09"/>
<path d="M79.3,562.1 82.3,560.5 85.3,558.9 88.3,557.2 91.3,555.4 94.3,553.6 97.3,551.7 100.3,549.6 103.3,547.5 106.2,545.3 109.2,543.1 112.2,540.7 115.2,538.3 118.2,535.8 121.2,533.2 124.2,530.5 127.2,527.7 130.2,524.9 133.2,522.0 136.2,519.0 139.2,516.0 142.2,512.8 145.2,509.7 148.2,506.5 151.1,503.2 154.1,499.9 157.1,496.5 160.1,493.2 163.1,489.8 166.1,486.4 169.1,482.9 172.1,479.5 175.1,476.1 178.1,472.7 181.1,469.3 184.1,465.9 187.1,462.6 190.1,459.3 193.1,456.1 196.0,452.9 199.0,449.7 202.0,446.6 205.0,443.6 208.0,440.6 211.0,437.8 214.0,434.9 217.0,432.2 220.0,429.6 223.0,427.0 226.0,424.5 229.0,422.1 232.0,419.8 235.0,417.5 237.9,415.4 240.9,413.3 243.9,411.3 246.9,409.4 249.9,407.5 252.9,405.8 255.9,404.1 258.9,402.5" fill="none" stroke="#108b0f" stroke-width="3.00" stroke-dasharray="6.06 6.06 18.18 6.06"/>
<path d="M79.3,566.6 82.3,565.1 85.3,563.5 88.3,561.9 91.3,560.1 94.3,558.2 97.3,556.3 100.3,554.2 103.3,552.1 106.2,549.8 109.2,547.4 112.2,544.9 115.2,542.3 118.2,539.7 121.2,536.9 124.2,534.0 127.2,530.9 130.2,527.8 133.2,524.6 136.2,521.3 139.2,518.0 142.2,514.5 145.2,510.9 148.2,507.3 151.1,503.6 154.1,499.9 157.1,496.1 160.1,492.3 163.1,488.5 166.1,484.6 169.1,480.8 172.1,476.9 175.1,473.0 178.1,469.2 181.1,465.4 184.1,461.7 187.1,458.0 190.1,454.3 193.1,450.7 196.0,447.2 199.0,443.8 202.0,440.5 205.0,437.2 208.0,434.1 211.0,431.0 214.0,428.1 217.0,425.2 220.0,422.5 223.0,419.8 226.0,417.3 229.0,414.9 232.0,412.6 235.0,410.4 237.9,408.3 240.9,406.3 243.9,404.3 246.9,402.5 249.9,400.8 252.9,399.2 255.9,397.6 258.9,396.2" fill="none" stroke="#097608" stroke-width="3.00" stroke-dasharray="3.03 6.06 6.06 6.06 9.09 6.06 12.12 6.06"/>
<path d="M79.3,570.5 82.3,569.1 85.3,567.5 88.3,565.9 91.3,564.2 94.3,562.4 97.3,560.4 100.3,558.4 103.3,556.2 106.2,553.9 109.2,551.4 112.2,548.9 115.2,546.2 118.2,543.3 121.2,540.4 124.2,537.3 127.2,534.1 130.2,530.7 133.2,527.2 136.2,523.6 139.2,519.9 142.2,516.1 145.2,512.2 148.2,508.2 151.1,504.1 154.1,499.9 157.1,495.7 160.1,491.5 163.1,487.2 166.1,482.9 169.1,478.6 172.1,474.3 175.1,470.0 178.1,465.8 181.1,461.6 184.1,457.5 187.1,453.4 190.1,449.5 193.1,445.6 196.0,441.8 199.0,438.2 202.0,434.6 205.0,431.2 208.0,427.9 211.0,424.8 214.0,421.7 217.0,418.8 220.0,416.1 223.0,413.4 226.0,410.9 229.0,408.6 232.0,406.3 235.0,404.2 237.9,402.2 240.9,400.3 243.9,398.5 246.9,396.9 249.9,395.3 252.9,393.8 255.9,392.4 258.9,391.2" fill="none" stroke="#036103" stroke-width="3.00" stroke-dasharray="45.45 6.06 24.24 6.06"/>
<path d="M79.3,573.7 82.3,572.4 85.3,571.0 88.3,569.4 91.3,567.8 94.3,566.0 97.3,564.1 100.3,562.1 103.3,559.9 106.2,557.6 109.2,555.1 112.2,552.5 115.2,549.8 118.2,546.8 121.2,543.7 124.2,540.5 127.2,537.1 130.2,533.5 133.2,529.8 136.2,525.9 139.2,521.9 142.2,517.7 145.2,513.4 148.2,509.0 151.1,504.5 154.1,500.0 157.1,495.3 160.1,490.6 163.1,485.9 166.1,481.1 169.1,476.4 172.1,471.7 175.1,467.0 178.1,462.4 181.1,457.8 184.1,453.3 187.1,449.0 190.1,444.7 193.1,440.6 196.0,436.6 199.0,432.8 202.0,429.1 205.0,425.6 208.0,422.2 211.0,419.0 214.0,415.9 217.0,413.1 220.0,410.3 223.0,407.8 226.0,405.3 229.0,403.1 232.0,400.9 235.0,398.9 237.9,397.1 240.9,395.3 243.9,393.7 246.9,392.2 249.9,390.8 252.9,389.5 255.9,388.3 258.9,387.2" fill="none" stroke="#004d00" stroke-width="3.00" stroke-dasharray="45.45 12.12 12.12 12.12 24.24 12.12 12.12 12.12"/>
<path d="M79.3,505.3 82.3,504.9 85.3,504.5 88.3,504.1 91.3,503.6 94.3,503.2 97.3,502.8 100.3,502.3 103.3,501.9 106.2,501.4 109.2,500.9 112.2,500.4 115.2,499.9 118.2,499.4 121.2,498.9 124.2,498.4 127.2,497.8 130.2,497.3 133.2,496.7 136.2,496.1 139.2,495.4 142.2,494.7 145.2,494.0 148.2,493.2 151.1,492.3 154.1,491.4 157.1,490.4 160.1,489.3 163.1,488.2 166.1,487.0 169.1,485.6 172.1,484.2 175.1,482.8 178.1,481.2 181.1,479.6 184.1,478.0 187.1,476.3 190.1,474.5 193.1,472.8 196.0,471.0 199.0,469.2 202.0,467.3 205.0,465.5 208.0,463.7 211.0,461.8 214.0,460.0 217.0,458.1 220.0,456.3 223.0,454.5 226.0,452.6 229.0,450.8 232.0,449.0 235.0,447.3 237.9,445.5 240.9,443.8 243.9,442.0 246.9,440.3 249.9,438.6 252.9,437.0 255.9,435.3 258.9,433.7 L258.9,484.7 255.9,485.2 252.9,485.6 249.9,486.0 246.9,486.5 243.9,486.9 240.9,487.4 237.9,487.8 235.0,488.3 232.0,488.7 229.0,489.2 226.0,489.6 223.0,490.1 220.0,490.6 217.0,491.1 214.0,491.6 211.0,492.1 208.0,492.6 205.0,493.1 202.0,493.7 199.0,494.2 196.0,494.8 193.1,495.4 190.1,496.1 187.1,496.8 184.1,497.5 181.1,498.2 178.1,499.0 175.1,499.9 172.1,500.8 169.1,501.8 166.1,502.9 163.1,504.0 160.1,505.2 157.1,506.5 154.1,507.9 151.1,509.3 148.2,510.7 145.2,512.2 142.2,513.8 139.2,515.3 136.2,516.9 133.2,518.5 130.2,520.1 127.2,521.7 124.2,523.3 121.2,524.9 118.2,526.5 115.2,528.0 112.2,529.6 109.2,531.1 106.2,532.7 103.3,534.2 100.3,535.6 97.3,537.1 94.3,538.5 91.3,539.9 88.3,541.3 85.3,542.7 82.3,544.0 79.3,545.3Z" fill="#33ff33" fill-opacity="0.18"/>
<path d="M79.3,519.8 82.3,518.9 85.3,518.0 88.3,517.1 91.3,516.1 94.3,515.2 97.3,514.2 100.3,513.3 103.3,512.3 106.2,511.3 109.2,510.3 112.2,509.3 115.2,508.3 118.2,507.3 121.2,506.2 124.2,505.2 127.2,504.1 130.2,503.0 133.2,501.9 136.2,500.7 139.2,499.5 142.2,498.3 145.2,497.1 148.2,495.8 151.1,494.4 154.1,493.1 157.1,491.6 160.1,490.1 163.1,488.5 166.1,486.9 169.1,485.1 172.1,483.3 175.1,481.5 178.1,479.6 181.1,477.6 184.1,475.6 187.1,473.6 190.1,471.6 193.1,469.5 196.0,467.4 199.0,465.3 202.0,463.2 205.0,461.1 208.0,459.0 211.0,456.9 214.0,454.8 217.0,452.7 220.0,450.7 223.0,448.6 226.0,446.6 229.0,444.6 232.0,442.6 235.0,440.7 237.9,438.8 240.9,436.9 243.9,435.0 246.9,433.2 249.9,431.4 252.9,429.6 255.9,427.9 258.9,426.2 L258.9,463.8 255.9,464.8 252.9,465.8 249.9,466.9 246.9,467.9 243.9,468.9 240.9,469.9 237.9,471.0 235.0,472.0 232.0,473.0 229.0,474.1 226.0,475.1 223.0,476.2 220.0,477.3 217.0,478.4 214.0,479.4 211.0,480.5 208.0,481.6 205.0,482.8 202.0,483.9 199.0,485.0 196.0,486.2 193.1,487.4 190.1,488.6 187.1,489.8 184.1,491.1 181.1,492.4 178.1,493.7 175.1,495.1 172.1,496.6 169.1,498.1 166.1,499.6 163.1,501.2 160.1,502.9 157.1,504.6 154.1,506.3 151.1,508.1 148.2,510.0 145.2,511.8 142.2,513.7 139.2,515.6 136.2,517.5 133.2,519.3 130.2,521.2 127.2,523.1 124.2,524.9 121.2,526.7 118.2,528.5 115.2,530.3 112.2,532.1 109.2,533.8 106.2,535.5 103.3,537.2 100.3,538.8 97.3,540.4 94.3,542.0 91.3,543.5 88.3,545.0 85.3,546.5 82.3,547.9 79.3,549.3Z" fill="#2ce72c" fill-opacity="0.18"/>
<path d="M79.3,531.4 82.3,530.1 85.3,528.9 88.3,527.6 91.3,526.3 94.3,525.0 97.3,523.6 100.3,522.3 103.3,520.9 106.2,519.5 109.2,518.1 112.2,516.7 115.2,515.2 118.2,513.8 121.2,512.3 124.2,510.8 127.2,509.2 130.2,507.7 133.2,506.1 136.2,504.5 139.2,502.8 142.2,501.2 145.2,499.4 148.2,497.7 151.1,495.9 154.1,494.0 157.1,492.1 160.1,490.2 163.1,488.2 166.1,486.1 169.1,484.0 172.1,481.8 175.1,479.5 178.1,477.2 181.1,474.9 184.1,472.5 187.1,470.1 190.1,467.7 193.1,465.3 196.0,462.9 199.0,460.5 202.0,458.0 205.0,455.6 208.0,453.3 211.0,450.9 214.0,448.5 217.0,446.2 220.0,443.9 223.0,441.7 226.0,439.5 229.0,437.3 232.0,435.2 235.0,433.1 237.9,431.0 240.9,429.0 243.9,427.0 246.9,425.1 249.9,423.2 252.9,421.4 255.9,419.6 258.9,417.9 L258.9,446.2 255.9,447.6 252.9,449.0 249.9,450.5 246.9,451.9 243.9,453.4 240.9,454.8 237.9,456.3 235.0,457.8 232.0,459.3 229.0,460.9 226.0,462.4 223.0,463.9 220.0,465.5 217.0,467.1 214.0,468.7 211.0,470.3 208.0,471.9 205.0,473.5 202.0,475.2 199.0,476.8 196.0,478.5 193.1,480.2 190.1,481.9 187.1,483.7 184.1,485.5 181.1,487.3 178.1,489.1 175.1,491.0 172.1,493.0 169.1,494.9 166.1,497.0 163.1,499.0 160.1,501.1 157.1,503.3 154.1,505.5 151.1,507.6 148.2,509.9 145.2,512.1 142.2,514.3 139.2,516.5 136.2,518.7 133.2,520.9 130.2,523.1 127.2,525.2 124.2,527.3 121.2,529.4 118.2,531.5 115.2,533.5 112.2,535.4 109.2,537.3 106.2,539.2 103.3,541.1 100.3,542.9 97.3,544.6 94.3,546.3 91.3,547.9 88.3,549.5 85.3,551.1 82.3,552.6 79.3,554.1Z" fill="#25cf24" fill-opacity="0.18"/>
<path d="M79.3,539.8 82.3,538.4 85.3,536.9 88.3,535.4 91.3,533.8 94.3,532.3 97.3,530.7 100.3,529.0 103.3,527.4 106.2,525.7 109.2,524.0 112.2,522.2 115.2,520.4 118.2,518.6 121.2,516.8 124.2,514.9 127.2,513.0 130.2,511.1 133.2,509.1 136.2,507.1 139.2,505.0 142.2,502.9 145.2,500.8 148.2,498.6 151.1,496.4 154.1,494.1 157.1,491.8 160.1,489.4 163.1,487.0 166.1,484.5 169.1,481.9 172.1,479.3 175.1,476.6 178.1,473.9 181.1,471.2 184.1,468.4 187.1,465.6 190.1,462.8 193.1,460.0 196.0,457.2 199.0,454.5 202.0,451.7 205.0,449.0 208.0,446.3 211.0,443.7 214.0,441.1 217.0,438.5 220.0,436.0 223.0,433.6 226.0,431.2 229.0,428.9 232.0,426.6 235.0,424.4 237.9,422.2 240.9,420.2 243.9,418.1 246.9,416.2 249.9,414.3 252.9,412.5 255.9,410.7 258.9,409.0 L258.9,432.8 255.9,434.4 252.9,436.0 249.9,437.7 246.9,439.4 243.9,441.1 240.9,442.9 237.9,444.7 235.0,446.5 232.0,448.3 229.0,450.1 226.0,452.0 223.0,453.9 220.0,455.8 217.0,457.8 214.0,459.8 211.0,461.8 208.0,463.8 205.0,465.8 202.0,467.9 199.0,470.0 196.0,472.1 193.1,474.3 190.1,476.4 187.1,478.6 184.1,480.9 181.1,483.2 178.1,485.5 175.1,487.8 172.1,490.2 169.1,492.7 166.1,495.1 163.1,497.7 160.1,500.2 157.1,502.8 154.1,505.4 151.1,508.0 148.2,510.7 145.2,513.3 142.2,515.9 139.2,518.5 136.2,521.0 133.2,523.6 130.2,526.0 127.2,528.5 124.2,530.9 121.2,533.2 118.2,535.5 115.2,537.7 112.2,539.9 109.2,542.0 106.2,544.1 103.3,546.0 100.3,548.0 97.3,549.8 94.3,551.6 91.3,553.3 88.3,555.0 85.3,556.6 82.3,558.2 79.3,559.6Z" fill="#1eb81d" fill-opacity="0.18"/>
<path d="M79.3,546.1 82.3,544.5 85.3,542.9 88.3,541.2 91.3,539.5 94.3,537.8 97.3,536.0 100.3,534.2 103.3,532.3 106.2,530.4 109.2,528.4 112.2,526.4 115.2,524.3 118.2,522.2 121.2,520.1 124.2,517.9 127.2,515.7 130.2,513.4 133.2,511.1 136.2,508.7 139.2,506.3 142.2,503.9 145.2,501.4 148.2,498.8 151.1,496.2 154.1,493.5 157.1,490.8 160.1,488.0 163.1,485.1 166.1,482.2 169.1,479.2 172.1,476.1 175.1,473.0 178.1,469.9 181.1,466.7 184.1,463.6 187.1,460.4 190.1,457.2 193.1,454.0 196.0,450.9 199.0,447.8 202.0,444.7 205.0,441.7 208.0,438.8 211.0,435.9 214.0,433.1 217.0,430.3 220.0,427.7 223.0,425.1 226.0,422.6 229.0,420.2 232.0,417.9 235.0,415.6 237.9,413.5 240.9,411.4 243.9,409.4 246.9,407.5 249.9,405.7 252.9,404.0 255.9,402.3 258.9,400.8 L258.9,422.5 255.9,424.2 252.9,425.9 249.9,427.7 246.9,429.5 243.9,431.4 240.9,433.3 237.9,435.3 235.0,437.3 232.0,439.3 229.0,441.4 226.0,443.5 223.0,445.6 220.0,447.8 217.0,450.0 214.0,452.3 211.0,454.6 208.0,456.9 205.0,459.3 202.0,461.7 199.0,464.2 196.0,466.7 193.1,469.2 190.1,471.8 187.1,474.4 184.1,477.0 181.1,479.7 178.1,482.5 175.1,485.3 172.1,488.1 169.1,491.0 166.1,494.0 163.1,496.9 160.1,500.0 157.1,503.0 154.1,506.1 151.1,509.1 148.2,512.2 145.2,515.2 142.2,518.2 139.2,521.2 136.2,524.1 133.2,527.0 130.2,529.8 127.2,532.5 124.2,535.1 121.2,537.7 118.2,540.2 115.2,542.7 112.2,545.0 109.2,547.3 106.2,549.4 103.3,551.5 100.3,553.5 97.3,555.4 94.3,557.3 91.3,559.0 88.3,560.7 85.3,562.3 82.3,563.8 79.3,565.3Z" fill="#17a116" fill-opacity="0.18"/>
<path d="M79.3,550.1 82.3,548.4 85.3,546.7 88.3,545.0 91.3,543.2 94.3,541.3 97.3,539.4 100.3,537.4 103.3,535.3 106.2,533.3 109.2,531.1 112.2,528.9 115.2,526.6 118.2,524.3 121.2,521.9 124.2,519.5 127.2,517.0 130.2,514.5 133.2,511.9 136.2,509.2 139.2,506.5 142.2,503.7 145.2,500.9 148.2,498.0 151.1,495.0 154.1,491.9 157.1,488.8 160.1,485.6 163.1,482.4 166.1,479.0 169.1,475.6 172.1,472.2 175.1,468.6 178.1,465.1 181.1,461.5 184.1,457.9 187.1,454.3 190.1,450.7 193.1,447.2 196.0,443.7 199.0,440.3 202.0,437.0 205.0,433.7 208.0,430.6 211.0,427.5 214.0,424.6 217.0,421.7 220.0,419.0 223.0,416.3 226.0,413.8 229.0,411.4 232.0,409.2 235.0,407.0 237.9,404.9 240.9,403.0 243.9,401.1 246.9,399.4 249.9,397.7 252.9,396.2 255.9,394.7 258.9,393.3 L258.9,415.2 255.9,416.9 252.9,418.7 249.9,420.5 246.9,422.4 243.9,424.3 240.9,426.3 237.9,428.3 235.0,430.4 232.0,432.5 229.0,434.7 226.0,437.0 223.0,439.3 220.0,441.6 217.0,444.1 214.0,446.5 211.0,449.1 208.0,451.6 205.0,454.3 202.0,456.9 199.0,459.7 196.0,462.5 193.1,465.3 190.1,468.2 187.1,471.2 184.1,474.2 181.1,477.3 178.1,480.4 175.1,483.6 172.1,486.9 169.1,490.2 166.1,493.6 163.1,497.1 160.1,500.6 157.1,504.1 154.1,507.6 151.1,511.1 148.2,514.6 145.2,518.1 142.2,521.5 139.2,524.9 136.2,528.1 133.2,531.3 130.2,534.4 127.2,537.4 124.2,540.3 121.2,543.1 118.2,545.8 115.2,548.4 112.2,550.8 109.2,553.2 106.2,555.4 103.3,557.5 100.3,559.5 97.3,561.4 94.3,563.2 91.3,564.9 88.3,566.5 85.3,568.1 82.3,569.5 79.3,570.8Z" fill="#108b0f" fill-opacity="0.18"/>
<path d="M79.3,554.1 82.3,552.4 85.3,550.7 88.3,548.8 91.3,546.9 94.3,545.0 97.3,542.9 100.3,540.8 103.3,538.6 106.2,536.4 109.2,534.1 112.2,531.7 115.2,529.2 118.2,526.7 121.2,524.0 124.2,521.4 127.2,518.6 130.2,515.8 133.2,512.9 136.2,509.9 139.2,506.9 142.2,503.8 145.2,500.6 148.2,497.3 151.1,494.0 154.1,490.6 157.1,487.1 160.1,483.5 163.1,479.8 166.1,476.1 169.1,472.3 172.1,468.4 175.1,464.5 178.1,460.5 181.1,456.6 184.1,452.6 187.1,448.7 190.1,444.8 193.1,441.0 196.0,437.2 199.0,433.6 202.0,430.1 205.0,426.7 208.0,423.4 211.0,420.2 214.0,417.2 217.0,414.4 220.0,411.6 223.0,409.1 226.0,406.6 229.0,404.3 232.0,402.2 235.0,400.1 237.9,398.2 240.9,396.4 243.9,394.8 246.9,393.2 249.9,391.8 252.9,390.4 255.9,389.2 258.9,388.0 L258.9,408.4 255.9,410.1 252.9,411.8 249.9,413.6 246.9,415.5 243.9,417.4 240.9,419.4 237.9,421.5 235.0,423.6 232.0,425.8 229.0,428.1 226.0,430.4 223.0,432.9 220.0,435.4 217.0,437.9 214.0,440.6 211.0,443.3 208.0,446.1 205.0,448.9 202.0,451.9 199.0,454.9 196.0,458.0 193.1,461.1 190.1,464.3 187.1,467.6 184.1,471.0 181.1,474.5 178.1,478.1 175.1,481.7 172.1,485.4 169.1,489.2 166.1,493.1 163.1,497.0 160.1,501.0 157.1,505.0 154.1,509.0 151.1,512.9 148.2,516.9 145.2,520.7 142.2,524.5 139.2,528.2 136.2,531.8 133.2,535.3 130.2,538.6 127.2,541.8 124.2,544.9 121.2,547.9 118.2,550.6 115.2,553.3 112.2,555.8 109.2,558.2 106.2,560.4 103.3,562.5 100.3,564.5 97.3,566.3 94.3,568.0 91.3,569.6 88.3,571.1 85.3,572.5 82.3,573.8 79.3,575.0Z" fill="#097608" fill-opacity="0.18"/>
<path d="M79.3,558.7 82.3,557.0 85.3,555.2 88.3,553.3 91.3,551.3 94.3,549.3 97.3,547.2 100.3,544.9 103.3,542.6 106.2,540.2 109.2,537.8 112.2,535.2 115.2,532.5 118.2,529.8 121.2,526.9 124.2,524.0 127.2,521.0 130.2,517.8 133.2,514.6 136.2,511.3 139.2,508.0 142.2,504.5 145.2,500.9 148.2,497.3 151.1,493.6 154.1,489.8 157.1,485.9 160.1,481.9 163.1,477.8 166.1,473.7 169.1,469.5 172.1,465.2 175.1,460.9 178.1,456.6 181.1,452.3 184.1,448.0 187.1,443.8 190.1,439.7 193.1,435.6 196.0,431.7 199.0,427.9 202.0,424.3 205.0,420.8 208.0,417.5 211.0,414.3 214.0,411.3 217.0,408.5 220.0,405.9 223.0,403.4 226.0,401.1 229.0,398.9 232.0,396.9 235.0,395.0 237.9,393.3 240.9,391.7 243.9,390.2 246.9,388.9 249.9,387.6 252.9,386.4 255.9,385.4 258.9,384.4 L258.9,401.8 255.9,403.3 252.9,405.0 249.9,406.7 246.9,408.5 243.9,410.4 240.9,412.4 237.9,414.4 235.0,416.5 232.0,418.8 229.0,421.1 226.0,423.5 223.0,426.0 220.0,428.6 217.0,431.3 214.0,434.1 211.0,437.0 208.0,439.9 205.0,443.0 202.0,446.2 199.0,449.5 196.0,452.8 193.1,456.3 190.1,459.9 187.1,463.5 184.1,467.3 181.1,471.2 178.1,475.2 175.1,479.3 172.1,483.4 169.1,487.7 166.1,492.1 163.1,496.5 160.1,500.9 157.1,505.3 154.1,509.8 151.1,514.2 148.2,518.5 145.2,522.8 142.2,526.9 139.2,530.9 136.2,534.8 133.2,538.5 130.2,542.0 127.2,545.4 124.2,548.6 121.2,551.7 118.2,554.5 115.2,557.2 112.2,559.7 109.2,562.1 106.2,564.3 103.3,566.3 100.3,568.2 97.3,570.0 94.3,571.6 91.3,573.1 88.3,574.5 85.3,575.8 82.3,576.9 79.3,578.0Z" fill="#036103" fill-opacity="0.18"/>
<path d="M79.3,561.3 82.3,559.6 85.3,557.7 88.3,555.8 91.3,553.8 94.3,551.7 97.3,549.5 100.3,547.2 103.3,544.8 106.2,542.3 109.2,539.7 112.2,537.0 115.2,534.1 118.2,531.2 121.2,528.2 124.2,525.0 127.2,521.7 130.2,518.4 133.2,514.9 136.2,511.3 139.2,507.7 142.2,503.9 145.2,500.0 148.2,496.1 151.1,492.0 154.1,487.8 157.1,483.6 160.1,479.2 163.1,474.8 166.1,470.3 169.1,465.8 172.1,461.1 175.1,456.5 178.1,451.9 181.1,447.2 184.1,442.7 187.1,438.2 190.1,433.8 193.1,429.6 196.0,425.6 199.0,421.7 202.0,418.0 205.0,414.5 208.0,411.2 211.0,408.1 214.0,405.2 217.0,402.5 220.0,400.0 223.0,397.7 226.0,395.6 229.0,393.6 232.0,391.8 235.0,390.2 237.9,388.7 240.9,387.3 243.9,386.1 246.9,384.9 249.9,383.9 252.9,383.0 255.9,382.1 258.9,381.3 L258.9,397.4 255.9,398.9 252.9,400.4 249.9,402.0 246.9,403.8 243.9,405.6 240.9,407.5 237.9,409.5 235.0,411.6 232.0,413.8 229.0,416.1 226.0,418.5 223.0,421.0 220.0,423.7 217.0,426.4 214.0,429.3 211.0,432.3 208.0,435.4 205.0,438.6 202.0,441.9 199.0,445.4 196.0,449.0 193.1,452.7 190.1,456.6 187.1,460.5 184.1,464.6 181.1,468.9 178.1,473.3 175.1,477.8 172.1,482.4 169.1,487.2 166.1,492.0 163.1,496.9 160.1,501.8 157.1,506.7 154.1,511.6 151.1,516.5 148.2,521.2 145.2,525.8 142.2,530.3 139.2,534.6 136.2,538.7 133.2,542.6 130.2,546.3 127.2,549.8 124.2,553.1 121.2,556.2 118.2,559.1 115.2,561.7 112.2,564.2 109.2,566.4 106.2,568.5 103.3,570.5 100.3,572.2 97.3,573.8 94.3,575.3 91.3,576.6 88.3,577.9 85.3,579.0 82.3,580.0 79.3,580.9Z" fill="#004d00" fill-opacity="0.18"/>
<path d="M71.00,363.55 V600.05 H267.60" fill="none" stroke="#000" stroke-width="1.70"/>
<path d="M66.60,589.30 H70.50" stroke="#333" stroke-width="1.70"/>
<text x="62.60" y="595.30" text-anchor="end" class="tk">0.00</text>
<path d="M66.60,535.55 H70.50" stroke="#333" stroke-width="1.70"/>
<text x="62.60" y="541.55" text-anchor="end" class="tk">0.25</text>
<path d="M66.60,481.80 H70.50" stroke="#333" stroke-width="1.70"/>
<text x="62.60" y="487.80" text-anchor="end" class="tk">0.50</text>
<path d="M66.60,428.05 H70.50" stroke="#333" stroke-width="1.70"/>
<text x="62.60" y="434.05" text-anchor="end" class="tk">0.75</text>
<path d="M66.60,374.30 H70.50" stroke="#333" stroke-width="1.70"/>
<text x="62.60" y="380.30" text-anchor="end" class="tk">1.00</text>
<path d="M117.50,600.55 V604.45" stroke="#333" stroke-width="1.70"/>
<text x="117.50" y="620.35" text-anchor="middle" class="tk">-1</text>
<path d="M168.90,600.55 V604.45" stroke="#333" stroke-width="1.70"/>
<text x="168.90" y="620.35" text-anchor="middle" class="tk">0</text>
<path d="M220.30,600.55 V604.45" stroke="#333" stroke-width="1.70"/>
<text x="220.30" y="620.35" text-anchor="middle" class="tk">1</text>
<text x="169.30" y="640.35" text-anchor="middle" class="ti">Δagency (right-left)</text>
<text transform="translate(22.10,481.80) rotate(-90)" text-anchor="middle" class="ti yt">P(choose right)</text>
<text x="0.80" y="351.05" class="pl">b</text>
</g>
<g>
<path d="M79.5,808.4 82.5,808.5 85.5,808.5 88.5,808.6 91.5,808.7 94.4,808.8 97.4,808.9 100.4,809.0 103.4,809.0 106.4,809.1 109.4,809.2 112.4,809.3 115.3,809.4 118.3,809.5 121.3,809.5 124.3,809.6 127.3,809.7 130.3,809.8 133.3,809.9 136.3,809.9 139.2,810.0 142.2,810.1 145.2,810.2 148.2,810.3 151.2,810.4 154.2,810.4 157.2,810.5 160.1,810.6 163.1,810.7 166.1,810.8 169.1,810.9 172.1,810.9 175.1,811.0 178.1,811.1 181.1,811.2 184.0,811.3 187.0,811.3 190.0,811.4 193.0,811.5 196.0,811.6 199.0,811.7 202.0,811.8 204.9,811.8 207.9,811.9 210.9,812.0 213.9,812.1 216.9,812.2 219.9,812.3 222.9,812.3 225.9,812.4 228.8,812.5 231.8,812.6 234.8,812.7 237.8,812.7 240.8,812.8 243.8,812.9 246.8,813.0 249.7,813.1 252.7,813.2 255.7,813.2 258.7,813.3" fill="none" stroke="#99ccff" stroke-width="3.00"/>
<path d="M79.5,819.5 82.5,819.1 85.5,818.8 88.5,818.5 91.5,818.1 94.4,817.8 97.4,817.4 100.4,817.1 103.4,816.7 106.4,816.4 109.4,816.0 112.4,815.7 115.3,815.3 118.3,815.0 121.3,814.6 124.3,814.3 127.3,813.9 130.3,813.6 133.3,813.2 136.3,812.9 139.2,812.5 142.2,812.2 145.2,811.8 148.2,811.5 151.2,811.1 154.2,810.8 157.2,810.4 160.1,810.1 163.1,809.7 166.1,809.4 169.1,809.0 172.1,808.6 175.1,808.3 178.1,807.9 181.1,807.6 184.0,807.2 187.0,806.9 190.0,806.5 193.0,806.2 196.0,805.8 199.0,805.4 202.0,805.1 204.9,804.7 207.9,804.4 210.9,804.0 213.9,803.7 216.9,803.3 219.9,803.0 222.9,802.6 225.9,802.2 228.8,801.9 231.8,801.5 234.8,801.2 237.8,800.8 240.8,800.5 243.8,800.1 246.8,799.7 249.7,799.4 252.7,799.0 255.7,798.7 258.7,798.3" fill="none" stroke="#88baee" stroke-width="3.00" stroke-dasharray="12.12 6.06"/>
<path d="M79.5,830.2 82.5,829.4 85.5,828.7 88.5,827.9 91.5,827.2 94.4,826.5 97.4,825.7 100.4,825.0 103.4,824.2 106.4,823.5 109.4,822.7 112.4,821.9 115.3,821.2 118.3,820.4 121.3,819.7 124.3,818.9 127.3,818.1 130.3,817.3 133.3,816.6 136.3,815.8 139.2,815.0 142.2,814.2 145.2,813.4 148.2,812.7 151.2,811.9 154.2,811.1 157.2,810.3 160.1,809.5 163.1,808.7 166.1,807.9 169.1,807.1 172.1,806.3 175.1,805.5 178.1,804.8 181.1,804.0 184.0,803.2 187.0,802.4 190.0,801.6 193.0,800.8 196.0,800.0 199.0,799.2 202.0,798.4 204.9,797.6 207.9,796.8 210.9,796.0 213.9,795.2 216.9,794.4 219.9,793.6 222.9,792.8 225.9,792.0 228.8,791.2 231.8,790.4 234.8,789.6 237.8,788.8 240.8,788.0 243.8,787.2 246.8,786.5 249.7,785.7 252.7,784.9 255.7,784.1 258.7,783.3" fill="none" stroke="#78a8dc" stroke-width="3.00" stroke-dasharray="6.06 6.06"/>
<path d="M79.5,840.2 82.5,839.1 85.5,838.1 88.5,837.0 91.5,835.9 94.4,834.8 97.4,833.7 100.4,832.6 103.4,831.5 106.4,830.3 109.4,829.2 112.4,828.1 115.3,826.9 118.3,825.7 121.3,824.6 124.3,823.4 127.3,822.2 130.3,821.1 133.3,819.9 136.3,818.7 139.2,817.5 142.2,816.3 145.2,815.1 148.2,813.8 151.2,812.6 154.2,811.4 157.2,810.2 160.1,809.0 163.1,807.7 166.1,806.5 169.1,805.3 172.1,804.0 175.1,802.8 178.1,801.6 181.1,800.3 184.0,799.1 187.0,797.8 190.0,796.6 193.0,795.4 196.0,794.1 199.0,792.9 202.0,791.7 204.9,790.4 207.9,789.2 210.9,788.0 213.9,786.7 216.9,785.5 219.9,784.3 222.9,783.1 225.9,781.9 228.8,780.7 231.8,779.5 234.8,778.3 237.8,777.1 240.8,775.9 243.8,774.7 246.8,773.5 249.7,772.4 252.7,771.2 255.7,770.1 258.7,768.9" fill="none" stroke="#6796cb" stroke-width="3.00" stroke-dasharray="3.03 9.09 12.12 9.09"/>
<path d="M79.5,849.4 82.5,848.1 85.5,846.8 88.5,845.4 91.5,844.1 94.4,842.7 97.4,841.3 100.4,839.8 103.4,838.4 106.4,836.9 109.4,835.5 112.4,834.0 115.3,832.5 118.3,830.9 121.3,829.4 124.3,827.9 127.3,826.3 130.3,824.7 133.3,823.1 136.3,821.5 139.2,819.9 142.2,818.3 145.2,816.7 148.2,815.0 151.2,813.4 154.2,811.7 157.2,810.1 160.1,808.4 163.1,806.7 166.1,805.1 169.1,803.4 172.1,801.7 175.1,800.0 178.1,798.4 181.1,796.7 184.0,795.0 187.0,793.3 190.0,791.7 193.0,790.0 196.0,788.3 199.0,786.7 202.0,785.0 204.9,783.4 207.9,781.7 210.9,780.1 213.9,778.5 216.9,776.8 219.9,775.2 222.9,773.6 225.9,772.1 228.8,770.5 231.8,768.9 234.8,767.4 237.8,765.9 240.8,764.3 243.8,762.8 246.8,761.4 249.7,759.9 252.7,758.4 255.7,757.0 258.7,755.6" fill="none" stroke="#5685ba" stroke-width="3.00" stroke-dasharray="3.03 9.09"/>
<path d="M79.5,857.8 82.5,856.3 85.5,854.8 88.5,853.2 91.5,851.6 94.4,850.0 97.4,848.4 100.4,846.7 103.4,845.0 106.4,843.2 109.4,841.4 112.4,839.6 115.3,837.8 118.3,836.0 121.3,834.1 124.3,832.2 127.3,830.3 130.3,828.3 133.3,826.3 136.3,824.3 139.2,822.3 142.2,820.3 145.2,818.3 148.2,816.2 151.2,814.1 154.2,812.1 157.2,810.0 160.1,807.9 163.1,805.8 166.1,803.6 169.1,801.5 172.1,799.4 175.1,797.3 178.1,795.2 181.1,793.1 184.0,790.9 187.0,788.8 190.0,786.7 193.0,784.6 196.0,782.6 199.0,780.5 202.0,778.4 204.9,776.4 207.9,774.4 210.9,772.4 213.9,770.4 216.9,768.4 219.9,766.5 222.9,764.6 225.9,762.7 228.8,760.8 231.8,759.0 234.8,757.2 237.8,755.4 240.8,753.6 243.8,751.9 246.8,750.2 249.7,748.5 252.7,746.9 255.7,745.2 258.7,743.7" fill="none" stroke="#4574aa" stroke-width="3.00" stroke-dasharray="6.06 6.06 18.18 6.06"/>
<path d="M79.5,865.3 82.5,863.7 85.5,862.0 88.5,860.3 91.5,858.6 94.4,856.8 97.4,854.9 100.4,853.1 103.4,851.1 106.4,849.2 109.4,847.1 112.4,845.1 115.3,843.0 118.3,840.8 121.3,838.6 124.3,836.4 127.3,834.1 130.3,831.8 133.3,829.5 136.3,827.1 139.2,824.7 142.2,822.3 145.2,819.9 148.2,817.4 151.2,814.9 154.2,812.4 157.2,809.9 160.1,807.3 163.1,804.8 166.1,802.2 169.1,799.7 172.1,797.1 175.1,794.5 178.1,792.0 181.1,789.4 184.0,786.9 187.0,784.4 190.0,781.9 193.0,779.4 196.0,776.9 199.0,774.5 202.0,772.0 204.9,769.7 207.9,767.3 210.9,765.0 213.9,762.7 216.9,760.4 219.9,758.2 222.9,756.0 225.9,753.9 228.8,751.8 231.8,749.7 234.8,747.7 237.8,745.8 240.8,743.9 243.8,742.0 246.8,740.2 249.7,738.4 252.7,736.7 255.7,735.0 258.7,733.3" fill="none" stroke="#34639a" stroke-width="3.00" stroke-dasharray="3.03 6.06 6.06 6.06 9.09 6.06 12.12 6.06"/>
<path d="M79.5,871.8 82.5,870.2 85.5,868.5 88.5,866.7 91.5,864.8 94.4,863.0 97.4,861.0 100.4,859.0 103.4,856.9 106.4,854.7 109.4,852.5 112.4,850.2 115.3,847.9 118.3,845.5 121.3,843.0 124.3,840.5 127.3,837.9 130.3,835.3 133.3,832.6 136.3,829.9 139.2,827.1 142.2,824.3 145.2,821.4 148.2,818.6 151.2,815.6 154.2,812.7 157.2,809.7 160.1,806.8 163.1,803.8 166.1,800.8 169.1,797.8 172.1,794.8 175.1,791.8 178.1,788.8 181.1,785.8 184.0,782.9 187.0,780.0 190.0,777.1 193.0,774.2 196.0,771.4 199.0,768.6 202.0,765.8 204.9,763.1 207.9,760.5 210.9,757.9 213.9,755.4 216.9,752.9 219.9,750.4 222.9,748.1 225.9,745.8 228.8,743.5 231.8,741.3 234.8,739.2 237.8,737.2 240.8,735.2 243.8,733.3 246.8,731.4 249.7,729.6 252.7,727.9 255.7,726.2 258.7,724.6" fill="none" stroke="#20538a" stroke-width="3.00" stroke-dasharray="45.45 6.06 24.24 6.06"/>
<path d="M79.5,877.5 82.5,875.8 85.5,874.1 88.5,872.3 91.5,870.5 94.4,868.5 97.4,866.5 100.4,864.4 103.4,862.2 106.4,859.9 109.4,857.5 112.4,855.1 115.3,852.5 118.3,849.9 121.3,847.2 124.3,844.4 127.3,841.6 130.3,838.6 133.3,835.6 136.3,832.6 139.2,829.4 142.2,826.3 145.2,823.0 148.2,819.7 151.2,816.4 154.2,813.0 157.2,809.6 160.1,806.2 163.1,802.8 166.1,799.3 169.1,795.9 172.1,792.5 175.1,789.0 178.1,785.6 181.1,782.3 184.0,778.9 187.0,775.6 190.0,772.3 193.0,769.1 196.0,766.0 199.0,762.9 202.0,759.9 204.9,756.9 207.9,754.0 210.9,751.2 213.9,748.5 216.9,745.8 219.9,743.3 222.9,740.8 225.9,738.4 228.8,736.1 231.8,733.8 234.8,731.7 237.8,729.6 240.8,727.6 243.8,725.7 246.8,723.9 249.7,722.2 252.7,720.5 255.7,718.9 258.7,717.4" fill="none" stroke="#02447a" stroke-width="3.00" stroke-dasharray="45.45 12.12 12.12 12.12 24.24 12.12 12.12 12.12"/>
<path d="M79.5,783.7 82.5,784.4 85.5,785.2 88.5,785.9 91.5,786.6 94.4,787.3 97.4,788.1 100.4,788.8 103.4,789.5 106.4,790.2 109.4,790.9 112.4,791.5 115.3,792.2 118.3,792.8 121.3,793.5 124.3,794.1 127.3,794.7 130.3,795.3 133.3,795.9 136.3,796.4 139.2,796.9 142.2,797.4 145.2,797.9 148.2,798.3 151.2,798.7 154.2,799.0 157.2,799.3 160.1,799.6 163.1,799.8 166.1,799.9 169.1,800.0 172.1,800.1 175.1,800.1 178.1,800.0 181.1,799.9 184.0,799.8 187.0,799.6 190.0,799.4 193.0,799.1 196.0,798.8 199.0,798.5 202.0,798.2 204.9,797.8 207.9,797.4 210.9,797.0 213.9,796.5 216.9,796.1 219.9,795.6 222.9,795.1 225.9,794.6 228.8,794.1 231.8,793.6 234.8,793.0 237.8,792.5 240.8,792.0 243.8,791.4 246.8,790.8 249.7,790.3 252.7,789.7 255.7,789.1 258.7,788.6 L258.7,836.6 255.7,835.9 252.7,835.3 249.7,834.6 246.8,834.0 243.8,833.3 240.8,832.7 237.8,832.0 234.8,831.4 231.8,830.7 228.8,830.1 225.9,829.5 222.9,828.9 219.9,828.3 216.9,827.7 213.9,827.1 210.9,826.5 207.9,826.0 204.9,825.4 202.0,824.9 199.0,824.4 196.0,824.0 193.0,823.5 190.0,823.1 187.0,822.8 184.0,822.4 181.1,822.2 178.1,821.9 175.1,821.7 172.1,821.5 169.1,821.4 166.1,821.4 163.1,821.4 160.1,821.4 157.2,821.5 154.2,821.6 151.2,821.8 148.2,822.0 145.2,822.2 142.2,822.5 139.2,822.8 136.3,823.1 133.3,823.5 130.3,823.9 127.3,824.3 124.3,824.7 121.3,825.1 118.3,825.6 115.3,826.0 112.4,826.5 109.4,827.0 106.4,827.4 103.4,827.9 100.4,828.4 97.4,828.9 94.4,829.5 91.5,830.0 88.5,830.5 85.5,831.0 82.5,831.5 79.5,832.1Z" fill="#99ccff" fill-opacity="0.18"/>
<path d="M79.5,799.9 82.5,800.1 85.5,800.3 88.5,800.4 91.5,800.6 94.4,800.8 97.4,800.9 100.4,801.1 103.4,801.2 106.4,801.3 109.4,801.5 112.4,801.6 115.3,801.7 118.3,801.8 121.3,801.9 124.3,801.9 127.3,802.0 130.3,802.1 133.3,802.1 136.3,802.1 139.2,802.1 142.2,802.0 145.2,802.0 148.2,801.9 151.2,801.8 154.2,801.6 157.2,801.4 160.1,801.2 163.1,801.0 166.1,800.7 169.1,800.3 172.1,799.9 175.1,799.5 178.1,799.1 181.1,798.6 184.0,798.0 187.0,797.5 190.0,796.9 193.0,796.2 196.0,795.6 199.0,794.9 202.0,794.2 204.9,793.5 207.9,792.7 210.9,792.0 213.9,791.2 216.9,790.4 219.9,789.6 222.9,788.8 225.9,788.0 228.8,787.1 231.8,786.3 234.8,785.5 237.8,784.6 240.8,783.8 243.8,782.9 246.8,782.1 249.7,781.2 252.7,780.4 255.7,779.5 258.7,778.6 L258.7,818.0 255.7,817.8 252.7,817.7 249.7,817.5 246.8,817.3 243.8,817.2 240.8,817.0 237.8,816.9 234.8,816.8 231.8,816.6 228.8,816.5 225.9,816.4 222.9,816.3 219.9,816.2 216.9,816.1 213.9,816.0 210.9,816.0 207.9,815.9 204.9,815.9 202.0,815.9 199.0,815.9 196.0,815.9 193.0,816.0 190.0,816.0 187.0,816.2 184.0,816.3 181.1,816.5 178.1,816.7 175.1,816.9 172.1,817.2 169.1,817.5 166.1,817.9 163.1,818.3 160.1,818.7 157.2,819.2 154.2,819.7 151.2,820.3 148.2,820.8 145.2,821.4 142.2,822.1 139.2,822.7 136.3,823.4 133.3,824.1 130.3,824.8 127.3,825.5 124.3,826.2 121.3,826.9 118.3,827.7 115.3,828.4 112.4,829.2 109.4,830.0 106.4,830.7 103.4,831.5 100.4,832.3 97.4,833.1 94.4,833.8 91.5,834.6 88.5,835.4 85.5,836.2 82.5,836.9 79.5,837.7Z" fill="#88baee" fill-opacity="0.18"/>
<path d="M79.5,814.1 82.5,813.8 85.5,813.4 88.5,813.1 91.5,812.8 94.4,812.4 97.4,812.0 100.4,811.7 103.4,811.3 106.4,810.9 109.4,810.6 112.4,810.2 115.3,809.8 118.3,809.4 121.3,808.9 124.3,808.5 127.3,808.1 130.3,807.6 133.3,807.2 136.3,806.7 139.2,806.2 142.2,805.7 145.2,805.1 148.2,804.5 151.2,804.0 154.2,803.3 157.2,802.7 160.1,802.0 163.1,801.3 166.1,800.5 169.1,799.8 172.1,798.9 175.1,798.1 178.1,797.2 181.1,796.3 184.0,795.3 187.0,794.4 190.0,793.4 193.0,792.3 196.0,791.3 199.0,790.2 202.0,789.1 204.9,788.0 207.9,786.9 210.9,785.8 213.9,784.6 216.9,783.5 219.9,782.3 222.9,781.2 225.9,780.0 228.8,778.9 231.8,777.7 234.8,776.5 237.8,775.4 240.8,774.2 243.8,773.0 246.8,771.9 249.7,770.7 252.7,769.5 255.7,768.4 258.7,767.2 L258.7,800.1 255.7,800.5 252.7,800.8 249.7,801.2 246.8,801.5 243.8,801.9 240.8,802.3 237.8,802.6 234.8,803.0 231.8,803.4 228.8,803.8 225.9,804.2 222.9,804.5 219.9,805.0 216.9,805.4 213.9,805.8 210.9,806.2 207.9,806.7 204.9,807.2 202.0,807.6 199.0,808.1 196.0,808.7 193.0,809.2 190.0,809.8 187.0,810.3 184.0,810.9 181.1,811.6 178.1,812.3 175.1,812.9 172.1,813.7 169.1,814.4 166.1,815.2 163.1,816.1 160.1,816.9 157.2,817.8 154.2,818.7 151.2,819.7 148.2,820.6 145.2,821.6 142.2,822.6 139.2,823.6 136.3,824.7 133.3,825.7 130.3,826.7 127.3,827.8 124.3,828.9 121.3,829.9 118.3,831.0 115.3,832.1 112.4,833.2 109.4,834.2 106.4,835.3 103.4,836.4 100.4,837.5 97.4,838.5 94.4,839.6 91.5,840.6 88.5,841.7 85.5,842.7 82.5,843.8 79.5,844.8Z" fill="#78a8dc" fill-opacity="0.18"/>
<path d="M79.5,825.3 82.5,824.6 85.5,823.8 88.5,823.1 91.5,822.3 94.4,821.6 97.4,820.8 100.4,820.0 103.4,819.2 106.4,818.4 109.4,817.6 112.4,816.8 115.3,815.9 118.3,815.1 121.3,814.3 124.3,813.4 127.3,812.5 130.3,811.6 133.3,810.7 136.3,809.8 139.2,808.9 142.2,807.9 145.2,806.9 148.2,805.9 151.2,804.9 154.2,803.8 157.2,802.7 160.1,801.6 163.1,800.4 166.1,799.2 169.1,798.0 172.1,796.8 175.1,795.5 178.1,794.2 181.1,792.8 184.0,791.4 187.0,790.0 190.0,788.6 193.0,787.1 196.0,785.7 199.0,784.2 202.0,782.7 204.9,781.2 207.9,779.6 210.9,778.1 213.9,776.6 216.9,775.1 219.9,773.5 222.9,772.0 225.9,770.5 228.8,769.0 231.8,767.5 234.8,766.0 237.8,764.5 240.8,763.0 243.8,761.5 246.8,760.0 249.7,758.6 252.7,757.2 255.7,755.7 258.7,754.3 L258.7,784.8 255.7,785.6 252.7,786.4 249.7,787.1 246.8,787.9 243.8,788.7 240.8,789.5 237.8,790.4 234.8,791.2 231.8,792.0 228.8,792.8 225.9,793.7 222.9,794.5 219.9,795.4 216.9,796.2 213.9,797.1 210.9,798.0 207.9,798.9 204.9,799.8 202.0,800.8 199.0,801.7 196.0,802.7 193.0,803.7 190.0,804.7 187.0,805.7 184.0,806.7 181.1,807.8 178.1,808.9 175.1,810.1 172.1,811.3 169.1,812.5 166.1,813.7 163.1,815.0 160.1,816.2 157.2,817.6 154.2,818.9 151.2,820.2 148.2,821.6 145.2,823.0 142.2,824.4 139.2,825.8 136.3,827.3 133.3,828.7 130.3,830.1 127.3,831.6 124.3,833.0 121.3,834.4 118.3,835.8 115.3,837.3 112.4,838.7 109.4,840.1 106.4,841.5 103.4,842.8 100.4,844.2 97.4,845.6 94.4,846.9 91.5,848.2 88.5,849.5 85.5,850.8 82.5,852.1 79.5,853.4Z" fill="#6796cb" fill-opacity="0.18"/>
<path d="M79.5,834.2 82.5,833.2 85.5,832.1 88.5,831.0 91.5,829.9 94.4,828.8 97.4,827.7 100.4,826.5 103.4,825.4 106.4,824.2 109.4,823.1 112.4,821.9 115.3,820.7 118.3,819.5 121.3,818.3 124.3,817.0 127.3,815.7 130.3,814.5 133.3,813.2 136.3,811.8 139.2,810.5 142.2,809.1 145.2,807.7 148.2,806.3 151.2,804.9 154.2,803.4 157.2,801.9 160.1,800.3 163.1,798.7 166.1,797.1 169.1,795.4 172.1,793.7 175.1,792.0 178.1,790.2 181.1,788.4 184.0,786.6 187.0,784.8 190.0,782.9 193.0,781.0 196.0,779.1 199.0,777.2 202.0,775.3 204.9,773.4 207.9,771.5 210.9,769.6 213.9,767.7 216.9,765.8 219.9,763.9 222.9,762.0 225.9,760.2 228.8,758.3 231.8,756.5 234.8,754.7 237.8,753.0 240.8,751.2 243.8,749.5 246.8,747.8 249.7,746.2 252.7,744.5 255.7,742.9 258.7,741.4 L258.7,771.8 255.7,773.0 252.7,774.1 249.7,775.2 246.8,776.4 243.8,777.5 240.8,778.7 237.8,779.9 234.8,781.1 231.8,782.3 228.8,783.5 225.9,784.7 222.9,785.9 219.9,787.2 216.9,788.4 213.9,789.7 210.9,791.0 207.9,792.3 204.9,793.6 202.0,794.9 199.0,796.3 196.0,797.7 193.0,799.1 190.0,800.5 187.0,802.0 184.0,803.5 181.1,805.0 178.1,806.5 175.1,808.1 172.1,809.7 169.1,811.3 166.1,813.0 163.1,814.7 160.1,816.4 157.2,818.2 154.2,819.9 151.2,821.7 148.2,823.5 145.2,825.4 142.2,827.2 139.2,829.0 136.3,830.8 133.3,832.7 130.3,834.5 127.3,836.3 124.3,838.1 121.3,839.9 118.3,841.6 115.3,843.4 112.4,845.1 109.4,846.8 106.4,848.5 103.4,850.2 100.4,851.8 97.4,853.4 94.4,855.0 91.5,856.5 88.5,858.0 85.5,859.5 82.5,861.0 79.5,862.4Z" fill="#5685ba" fill-opacity="0.18"/>
<path d="M79.5,840.4 82.5,839.1 85.5,837.8 88.5,836.4 91.5,835.1 94.4,833.7 97.4,832.3 100.4,830.9 103.4,829.5 106.4,828.1 109.4,826.6 112.4,825.1 115.3,823.6 118.3,822.1 121.3,820.6 124.3,819.0 127.3,817.4 130.3,815.8 133.3,814.1 136.3,812.5 139.2,810.8 142.2,809.0 145.2,807.2 148.2,805.4 151.2,803.6 154.2,801.7 157.2,799.8 160.1,797.8 163.1,795.8 166.1,793.8 169.1,791.7 172.1,789.5 175.1,787.4 178.1,785.2 181.1,782.9 184.0,780.7 187.0,778.4 190.0,776.1 193.0,773.8 196.0,771.4 199.0,769.1 202.0,766.8 204.9,764.5 207.9,762.2 210.9,760.0 213.9,757.7 216.9,755.5 219.9,753.3 222.9,751.2 225.9,749.1 228.8,747.0 231.8,745.0 234.8,743.0 237.8,741.1 240.8,739.2 243.8,737.3 246.8,735.5 249.7,733.8 252.7,732.1 255.7,730.4 258.7,728.8 L258.7,762.0 255.7,763.4 252.7,764.7 249.7,766.1 246.8,767.5 243.8,768.9 240.8,770.3 237.8,771.8 234.8,773.2 231.8,774.7 228.8,776.2 225.9,777.7 222.9,779.3 219.9,780.8 216.9,782.4 213.9,784.0 210.9,785.6 207.9,787.2 204.9,788.9 202.0,790.6 199.0,792.3 196.0,794.1 193.0,795.8 190.0,797.6 187.0,799.5 184.0,801.4 181.1,803.3 178.1,805.2 175.1,807.2 172.1,809.3 169.1,811.3 166.1,813.4 163.1,815.6 160.1,817.8 157.2,819.9 154.2,822.2 151.2,824.4 148.2,826.6 145.2,828.9 142.2,831.1 139.2,833.4 136.3,835.6 133.3,837.8 130.3,840.0 127.3,842.2 124.3,844.4 121.3,846.5 118.3,848.6 115.3,850.6 112.4,852.6 109.4,854.6 106.4,856.5 103.4,858.4 100.4,860.2 97.4,862.0 94.4,863.7 91.5,865.4 88.5,867.1 85.5,868.7 82.5,870.2 79.5,871.7Z" fill="#4574aa" fill-opacity="0.18"/>
<path d="M79.5,846.7 82.5,845.2 85.5,843.7 88.5,842.1 91.5,840.6 94.4,839.0 97.4,837.3 100.4,835.7 103.4,834.0 106.4,832.3 109.4,830.5 112.4,828.7 115.3,826.9 118.3,825.1 121.3,823.2 124.3,821.3 127.3,819.4 130.3,817.5 133.3,815.5 136.3,813.4 139.2,811.3 142.2,809.2 145.2,807.1 148.2,804.9 151.2,802.6 154.2,800.4 157.2,798.0 160.1,795.6 163.1,793.2 166.1,790.7 169.1,788.2 172.1,785.7 175.1,783.1 178.1,780.4 181.1,777.8 184.0,775.1 187.0,772.4 190.0,769.7 193.0,767.0 196.0,764.4 199.0,761.7 202.0,759.1 204.9,756.5 207.9,753.9 210.9,751.4 213.9,748.9 216.9,746.5 219.9,744.1 222.9,741.8 225.9,739.5 228.8,737.3 231.8,735.2 234.8,733.2 237.8,731.2 240.8,729.3 243.8,727.4 246.8,725.6 249.7,723.9 252.7,722.3 255.7,720.7 258.7,719.2 L258.7,752.3 255.7,753.8 252.7,755.4 249.7,756.9 246.8,758.5 243.8,760.2 240.8,761.8 237.8,763.5 234.8,765.2 231.8,766.9 228.8,768.7 225.9,770.5 222.9,772.3 219.9,774.2 216.9,776.1 213.9,778.0 210.9,779.9 207.9,781.9 204.9,783.9 202.0,785.9 199.0,788.0 196.0,790.1 193.0,792.3 190.0,794.5 187.0,796.7 184.0,799.0 181.1,801.3 178.1,803.7 175.1,806.1 172.1,808.6 169.1,811.1 166.1,813.6 163.1,816.2 160.1,818.8 157.2,821.4 154.2,824.1 151.2,826.7 148.2,829.4 145.2,832.0 142.2,834.7 139.2,837.3 136.3,839.9 133.3,842.5 130.3,845.0 127.3,847.5 124.3,849.9 121.3,852.3 118.3,854.7 115.3,856.9 112.4,859.1 109.4,861.3 106.4,863.4 103.4,865.4 100.4,867.3 97.4,869.2 94.4,871.0 91.5,872.7 88.5,874.4 85.5,876.0 82.5,877.5 79.5,879.0Z" fill="#34639a" fill-opacity="0.18"/>
<path d="M79.5,853.9 82.5,852.3 85.5,850.5 88.5,848.8 91.5,847.0 94.4,845.2 97.4,843.3 100.4,841.4 103.4,839.4 106.4,837.5 109.4,835.4 112.4,833.4 115.3,831.2 118.3,829.1 121.3,826.9 124.3,824.7 127.3,822.4 130.3,820.0 133.3,817.7 136.3,815.3 139.2,812.8 142.2,810.3 145.2,807.7 148.2,805.1 151.2,802.5 154.2,799.8 157.2,797.0 160.1,794.2 163.1,791.3 166.1,788.4 169.1,785.5 172.1,782.5 175.1,779.5 178.1,776.5 181.1,773.4 184.0,770.4 187.0,767.3 190.0,764.3 193.0,761.3 196.0,758.3 199.0,755.4 202.0,752.5 204.9,749.7 207.9,746.9 210.9,744.2 213.9,741.6 216.9,739.0 219.9,736.5 222.9,734.2 225.9,731.9 228.8,729.7 231.8,727.5 234.8,725.5 237.8,723.6 240.8,721.7 243.8,719.9 246.8,718.3 249.7,716.6 252.7,715.1 255.7,713.7 258.7,712.3 L258.7,742.2 255.7,743.8 252.7,745.5 249.7,747.3 246.8,749.0 243.8,750.8 240.8,752.7 237.8,754.5 234.8,756.5 231.8,758.4 228.8,760.4 225.9,762.5 222.9,764.6 219.9,766.7 216.9,768.9 213.9,771.1 210.9,773.4 207.9,775.7 204.9,778.0 202.0,780.4 199.0,782.9 196.0,785.3 193.0,787.9 190.0,790.5 187.0,793.1 184.0,795.8 181.1,798.6 178.1,801.4 175.1,804.2 172.1,807.1 169.1,810.1 166.1,813.1 163.1,816.1 160.1,819.1 157.2,822.2 154.2,825.2 151.2,828.3 148.2,831.4 145.2,834.4 142.2,837.4 139.2,840.4 136.3,843.3 133.3,846.2 130.3,849.0 127.3,851.8 124.3,854.4 121.3,857.0 118.3,859.6 115.3,862.0 112.4,864.3 109.4,866.6 106.4,868.8 103.4,870.8 100.4,872.8 97.4,874.7 94.4,876.5 91.5,878.3 88.5,879.9 85.5,881.5 82.5,883.0 79.5,884.4Z" fill="#20538a" fill-opacity="0.18"/>
<path d="M79.5,858.5 82.5,856.7 85.5,854.9 88.5,853.0 91.5,851.0 94.4,849.0 97.4,847.0 100.4,844.9 103.4,842.7 106.4,840.5 109.4,838.3 112.4,836.0 115.3,833.6 118.3,831.2 121.3,828.7 124.3,826.2 127.3,823.6 130.3,821.0 133.3,818.3 136.3,815.5 139.2,812.7 142.2,809.8 145.2,806.9 148.2,803.9 151.2,800.9 154.2,797.8 157.2,794.6 160.1,791.4 163.1,788.2 166.1,784.9 169.1,781.5 172.1,778.2 175.1,774.8 178.1,771.4 181.1,767.9 184.0,764.6 187.0,761.2 190.0,757.8 193.0,754.6 196.0,751.3 199.0,748.2 202.0,745.1 204.9,742.1 207.9,739.2 210.9,736.4 213.9,733.7 216.9,731.1 219.9,728.7 222.9,726.3 225.9,724.1 228.8,721.9 231.8,719.9 234.8,718.0 237.8,716.2 240.8,714.5 243.8,712.9 246.8,711.3 249.7,709.9 252.7,708.6 255.7,707.4 258.7,706.2 L258.7,735.2 255.7,736.9 252.7,738.7 249.7,740.5 246.8,742.3 243.8,744.2 240.8,746.1 237.8,748.1 234.8,750.2 231.8,752.3 228.8,754.5 225.9,756.7 222.9,759.0 219.9,761.3 216.9,763.7 213.9,766.2 210.9,768.7 207.9,771.2 204.9,773.9 202.0,776.6 199.0,779.3 196.0,782.1 193.0,785.0 190.0,788.0 187.0,791.0 184.0,794.1 181.1,797.2 178.1,800.4 175.1,803.7 172.1,807.0 169.1,810.4 166.1,813.8 163.1,817.2 160.1,820.7 157.2,824.2 154.2,827.7 151.2,831.2 148.2,834.6 145.2,838.0 142.2,841.4 139.2,844.7 136.3,847.9 133.3,851.1 130.3,854.1 127.3,857.1 124.3,860.0 121.3,862.7 118.3,865.3 115.3,867.9 112.4,870.3 109.4,872.6 106.4,874.8 103.4,876.8 100.4,878.8 97.4,880.6 94.4,882.4 91.5,884.0 88.5,885.6 85.5,887.0 82.5,888.4 79.5,889.7Z" fill="#02447a" fill-opacity="0.18"/>
<path d="M71.00,680.45 V916.95 H267.60" fill="none" stroke="#000" stroke-width="1.70"/>
<path d="M66.60,906.20 H70.50" stroke="#333" stroke-width="1.70"/>
<text x="62.60" y="912.20" text-anchor="end" class="tk">0.00</text>
<path d="M66.60,852.45 H70.50" stroke="#333" stroke-width="1.70"/>
<text x="62.60" y="858.45" text-anchor="end" class="tk">0.25</text>
<path d="M66.60,798.70 H70.50" stroke="#333" stroke-width="1.70"/>
<text x="62.60" y="804.70" text-anchor="end" class="tk">0.50</text>
<path d="M66.60,744.95 H70.50" stroke="#333" stroke-width="1.70"/>
<text x="62.60" y="750.95" text-anchor="end" class="tk">0.75</text>
<path d="M66.60,691.20 H70.50" stroke="#333" stroke-width="1.70"/>
<text x="62.60" y="697.20" text-anchor="end" class="tk">1.00</text>
<path d="M109.70,917.45 V921.35" stroke="#333" stroke-width="1.70"/>
<text x="109.70" y="937.25" text-anchor="middle" class="tk">-2</text>
<path d="M168.90,917.45 V921.35" stroke="#333" stroke-width="1.70"/>
<text x="168.90" y="937.25" text-anchor="middle" class="tk">0</text>
<path d="M228.10,917.45 V921.35" stroke="#333" stroke-width="1.70"/>
<text x="228.10" y="937.25" text-anchor="middle" class="tk">2</text>
<text x="169.30" y="957.25" text-anchor="middle" class="ti">Δuncertainty (right-left)</text>
<text transform="translate(22.10,798.70) rotate(-90)" text-anchor="middle" class="ti yt">P(choose right)</text>
<text x="0.80" y="667.95" class="pl">c</text>
</g>
<g>
<path d="M366.0,236.2 369.0,234.8 372.0,233.3 375.0,231.8 377.9,230.3 380.9,228.6 383.9,226.9 386.9,225.2 389.9,223.4 392.9,221.6 395.9,219.6 398.9,217.7 401.9,215.6 404.8,213.5 407.8,211.4 410.8,209.1 413.8,206.9 416.8,204.5 419.8,202.1 422.8,199.7 425.8,197.2 428.7,194.6 431.7,192.0 434.7,189.3 437.7,186.6 440.7,183.9 443.7,181.1 446.7,178.2 449.7,175.4 452.7,172.5 455.6,169.5 458.6,166.6 461.6,163.6 464.6,160.6 467.6,157.6 470.6,154.7 473.6,151.7 476.6,148.7 479.5,145.7 482.5,142.7 485.5,139.8 488.5,136.9 491.5,134.0 494.5,131.1 497.5,128.3 500.5,125.5 503.5,122.8 506.4,120.1 509.4,117.5 512.4,114.9 515.4,112.4 518.4,109.9 521.4,107.5 524.4,105.2 527.4,103.0 530.3,100.8 533.3,98.7 536.3,96.6 539.3,94.6 542.3,92.7 545.3,90.9" fill="none" stroke="#ff9999" stroke-width="3.00"/>
<path d="M366.0,238.6 369.0,237.2 372.0,235.7 375.0,234.2 377.9,232.7 380.9,231.0 383.9,229.3 386.9,227.6 389.9,225.7 392.9,223.9 395.9,221.9 398.9,219.9 401.9,217.8 404.8,215.7 407.8,213.5 410.8,211.3 413.8,208.9 416.8,206.5 419.8,204.1 422.8,201.6 425.8,199.0 428.7,196.4 431.7,193.7 434.7,191.0 437.7,188.2 440.7,185.4 443.7,182.5 446.7,179.6 449.7,176.7 452.7,173.7 455.6,170.7 458.6,167.7 461.6,164.6 464.6,161.6 467.6,158.5 470.6,155.4 473.6,152.4 476.6,149.3 479.5,146.3 482.5,143.2 485.5,140.2 488.5,137.3 491.5,134.3 494.5,131.4 497.5,128.5 500.5,125.7 503.5,122.9 506.4,120.2 509.4,117.6 512.4,115.0 515.4,112.4 518.4,109.9 521.4,107.5 524.4,105.2 527.4,102.9 530.3,100.7 533.3,98.6 536.3,96.5 539.3,94.5 542.3,92.6 545.3,90.7" fill="none" stroke="#ed8582" stroke-width="3.00" stroke-dasharray="12.12 6.06"/>
<path d="M366.0,240.9 369.0,239.5 372.0,238.0 375.0,236.5 377.9,234.9 380.9,233.3 383.9,231.6 386.9,229.8 389.9,228.0 392.9,226.1 395.9,224.1 398.9,222.1 401.9,220.0 404.8,217.8 407.8,215.6 410.8,213.3 413.8,211.0 416.8,208.5 419.8,206.0 422.8,203.5 425.8,200.8 428.7,198.2 431.7,195.4 434.7,192.6 437.7,189.8 440.7,186.9 443.7,184.0 446.7,181.0 449.7,178.0 452.7,174.9 455.6,171.8 458.6,168.7 461.6,165.6 464.6,162.5 467.6,159.4 470.6,156.2 473.6,153.1 476.6,150.0 479.5,146.9 482.5,143.8 485.5,140.7 488.5,137.7 491.5,134.7 494.5,131.7 497.5,128.8 500.5,125.9 503.5,123.1 506.4,120.3 509.4,117.6 512.4,115.0 515.4,112.4 518.4,109.9 521.4,107.5 524.4,105.1 527.4,102.8 530.3,100.6 533.3,98.5 536.3,96.4 539.3,94.4 542.3,92.5 545.3,90.6" fill="none" stroke="#dc716b" stroke-width="3.00" stroke-dasharray="6.06 6.06"/>
<path d="M366.0,243.0 369.0,241.7 372.0,240.2 375.0,238.7 377.9,237.1 380.9,235.5 383.9,233.8 386.9,232.0 389.9,230.2 392.9,228.3 395.9,226.3 398.9,224.2 401.9,222.1 404.8,219.9 407.8,217.7 410.8,215.3 413.8,212.9 416.8,210.5 419.8,207.9 422.8,205.3 425.8,202.6 428.7,199.9 431.7,197.1 434.7,194.3 437.7,191.4 440.7,188.4 443.7,185.4 446.7,182.4 449.7,179.3 452.7,176.1 455.6,173.0 458.6,169.8 461.6,166.6 464.6,163.4 467.6,160.2 470.6,157.0 473.6,153.8 476.6,150.6 479.5,147.4 482.5,144.3 485.5,141.2 488.5,138.1 491.5,135.0 494.5,132.0 497.5,129.0 500.5,126.1 503.5,123.2 506.4,120.4 509.4,117.7 512.4,115.0 515.4,112.4 518.4,109.9 521.4,107.4 524.4,105.1 527.4,102.7 530.3,100.5 533.3,98.4 536.3,96.3 539.3,94.3 542.3,92.3 545.3,90.5" fill="none" stroke="#ca5e55" stroke-width="3.00" stroke-dasharray="3.03 9.09 12.12 9.09"/>
<path d="M366.0,245.1 369.0,243.7 372.0,242.3 375.0,240.8 377.9,239.2 380.9,237.6 383.9,235.9 386.9,234.1 389.9,232.3 392.9,230.4 395.9,228.4 398.9,226.3 401.9,224.2 404.8,222.0 407.8,219.7 410.8,217.3 413.8,214.9 416.8,212.4 419.8,209.8 422.8,207.1 425.8,204.4 428.7,201.6 431.7,198.8 434.7,195.9 437.7,192.9 440.7,189.9 443.7,186.8 446.7,183.7 449.7,180.6 452.7,177.4 455.6,174.2 458.6,170.9 461.6,167.7 464.6,164.4 467.6,161.1 470.6,157.8 473.6,154.5 476.6,151.3 479.5,148.0 482.5,144.8 485.5,141.6 488.5,138.5 491.5,135.4 494.5,132.3 497.5,129.3 500.5,126.3 503.5,123.4 506.4,120.6 509.4,117.8 512.4,115.1 515.4,112.4 518.4,109.9 521.4,107.4 524.4,105.0 527.4,102.7 530.3,100.4 533.3,98.3 536.3,96.2 539.3,94.2 542.3,92.2 545.3,90.4" fill="none" stroke="#b84a40" stroke-width="3.00" stroke-dasharray="3.03 9.09"/>
<path d="M366.0,247.0 369.0,245.6 372.0,244.2 375.0,242.7 377.9,241.2 380.9,239.6 383.9,237.9 386.9,236.1 389.9,234.3 392.9,232.4 395.9,230.4 398.9,228.3 401.9,226.2 404.8,223.9 407.8,221.6 410.8,219.2 413.8,216.8 416.8,214.3 419.8,211.6 422.8,208.9 425.8,206.2 428.7,203.4 431.7,200.5 434.7,197.5 437.7,194.5 440.7,191.4 443.7,188.3 446.7,185.1 449.7,181.9 452.7,178.6 455.6,175.3 458.6,172.0 461.6,168.7 464.6,165.3 467.6,162.0 470.6,158.6 473.6,155.3 476.6,151.9 479.5,148.6 482.5,145.3 485.5,142.1 488.5,138.9 491.5,135.7 494.5,132.6 497.5,129.5 500.5,126.5 503.5,123.6 506.4,120.7 509.4,117.9 512.4,115.1 515.4,112.5 518.4,109.9 521.4,107.4 524.4,104.9 527.4,102.6 530.3,100.3 533.3,98.2 536.3,96.1 539.3,94.0 542.3,92.1 545.3,90.3" fill="none" stroke="#a5362b" stroke-width="3.00" stroke-dasharray="6.06 6.06 18.18 6.06"/>
<path d="M366.0,248.7 369.0,247.4 372.0,246.0 375.0,244.6 377.9,243.0 380.9,241.4 383.9,239.8 386.9,238.0 389.9,236.2 392.9,234.3 395.9,232.3 398.9,230.2 401.9,228.1 404.8,225.9 407.8,223.5 410.8,221.1 413.8,218.7 416.8,216.1 419.8,213.4 422.8,210.7 425.8,207.9 428.7,205.0 431.7,202.1 434.7,199.1 437.7,196.0 440.7,192.9 443.7,189.7 446.7,186.4 449.7,183.1 452.7,179.8 455.6,176.5 458.6,173.1 461.6,169.7 464.6,166.2 467.6,162.8 470.6,159.4 473.6,156.0 476.6,152.6 479.5,149.2 482.5,145.9 485.5,142.5 488.5,139.3 491.5,136.0 494.5,132.9 497.5,129.8 500.5,126.7 503.5,123.7 506.4,120.8 509.4,117.9 512.4,115.2 515.4,112.5 518.4,109.9 521.4,107.3 524.4,104.9 527.4,102.5 530.3,100.3 533.3,98.1 536.3,96.0 539.3,93.9 542.3,92.0 545.3,90.1" fill="none" stroke="#932017" stroke-width="3.00" stroke-dasharray="3.03 6.06 6.06 6.06 9.09 6.06 12.12 6.06"/>
<path d="M366.0,250.4 369.0,249.1 372.0,247.7 375.0,246.3 377.9,244.8 380.9,243.2 383.9,241.6 386.9,239.9 389.9,238.0 392.9,236.1 395.9,234.2 398.9,232.1 401.9,229.9 404.8,227.7 407.8,225.4 410.8,223.0 413.8,220.5 416.8,217.9 419.8,215.2 422.8,212.5 425.8,209.6 428.7,206.7 431.7,203.7 434.7,200.7 437.7,197.5 440.7,194.3 443.7,191.1 446.7,187.8 449.7,184.4 452.7,181.0 455.6,177.6 458.6,174.1 461.6,170.7 464.6,167.2 467.6,163.7 470.6,160.2 473.6,156.7 476.6,153.2 479.5,149.8 482.5,146.4 485.5,143.0 488.5,139.7 491.5,136.4 494.5,133.2 497.5,130.0 500.5,126.9 503.5,123.9 506.4,120.9 509.4,118.0 512.4,115.2 515.4,112.5 518.4,109.9 521.4,107.3 524.4,104.8 527.4,102.5 530.3,100.2 533.3,98.0 536.3,95.8 539.3,93.8 542.3,91.9 545.3,90.0" fill="none" stroke="#800000" stroke-width="3.00" stroke-dasharray="45.45 6.06 24.24 6.06"/>
<path d="M366.0,215.1 369.0,213.8 372.0,212.5 375.0,211.2 377.9,209.9 380.9,208.5 383.9,207.1 386.9,205.7 389.9,204.2 392.9,202.7 395.9,201.2 398.9,199.6 401.9,198.0 404.8,196.4 407.8,194.7 410.8,193.0 413.8,191.2 416.8,189.4 419.8,187.6 422.8,185.7 425.8,183.8 428.7,181.8 431.7,179.8 434.7,177.8 437.7,175.7 440.7,173.5 443.7,171.2 446.7,168.9 449.7,166.5 452.7,164.0 455.6,161.4 458.6,158.7 461.6,155.9 464.6,153.0 467.6,149.9 470.6,146.6 473.6,143.1 476.6,139.6 479.5,136.0 482.5,132.4 485.5,128.8 488.5,125.2 491.5,121.7 494.5,118.2 497.5,114.9 500.5,111.6 503.5,108.4 506.4,105.3 509.4,102.3 512.4,99.5 515.4,96.7 518.4,94.1 521.4,91.7 524.4,89.3 527.4,87.1 530.3,85.0 533.3,83.0 536.3,81.1 539.3,79.3 542.3,77.7 545.3,76.1 L545.3,113.6 542.3,115.3 539.3,117.0 536.3,118.8 533.3,120.6 530.3,122.4 527.4,124.2 524.4,126.0 521.4,127.8 518.4,129.7 515.4,131.6 512.4,133.5 509.4,135.4 506.4,137.3 503.5,139.2 500.5,141.2 497.5,143.2 494.5,145.1 491.5,147.2 488.5,149.2 485.5,151.3 482.5,153.5 479.5,155.7 476.6,158.0 473.6,160.3 470.6,162.8 467.6,165.5 464.6,168.3 461.6,171.3 458.6,174.4 455.6,177.6 452.7,180.8 449.7,184.0 446.7,187.3 443.7,190.6 440.7,193.9 437.7,197.1 434.7,200.3 431.7,203.4 428.7,206.5 425.8,209.5 422.8,212.4 419.8,215.2 416.8,218.0 413.8,220.6 410.8,223.2 407.8,225.6 404.8,228.0 401.9,230.3 398.9,232.4 395.9,234.5 392.9,236.5 389.9,238.4 386.9,240.2 383.9,241.9 380.9,243.6 377.9,245.1 375.0,246.6 372.0,248.0 369.0,249.3 366.0,250.6Z" fill="#ff9999" fill-opacity="0.20"/>
<path d="M366.0,223.0 369.0,221.6 372.0,220.2 375.0,218.8 377.9,217.3 380.9,215.8 383.9,214.3 386.9,212.7 389.9,211.0 392.9,209.4 395.9,207.7 398.9,205.9 401.9,204.1 404.8,202.3 407.8,200.4 410.8,198.5 413.8,196.5 416.8,194.5 419.8,192.5 422.8,190.4 425.8,188.3 428.7,186.1 431.7,183.8 434.7,181.6 437.7,179.2 440.7,176.8 443.7,174.3 446.7,171.8 449.7,169.2 452.7,166.5 455.6,163.8 458.6,160.9 461.6,158.0 464.6,155.0 467.6,151.8 470.6,148.5 473.6,145.1 476.6,141.7 479.5,138.2 482.5,134.6 485.5,131.1 488.5,127.6 491.5,124.2 494.5,120.8 497.5,117.4 500.5,114.2 503.5,111.1 506.4,108.0 509.4,105.1 512.4,102.2 515.4,99.5 518.4,96.9 521.4,94.4 524.4,92.0 527.4,89.7 530.3,87.6 533.3,85.5 536.3,83.6 539.3,81.8 542.3,80.0 545.3,78.4 L545.3,108.3 542.3,110.1 539.3,111.9 536.3,113.8 533.3,115.7 530.3,117.6 527.4,119.5 524.4,121.5 521.4,123.5 518.4,125.6 515.4,127.6 512.4,129.7 509.4,131.8 506.4,134.0 503.5,136.2 500.5,138.3 497.5,140.6 494.5,142.8 491.5,145.1 488.5,147.4 485.5,149.7 482.5,152.1 479.5,154.6 476.6,157.1 473.6,159.7 470.6,162.4 467.6,165.2 464.6,168.2 461.6,171.2 458.6,174.4 455.6,177.5 452.7,180.8 449.7,184.0 446.7,187.2 443.7,190.5 440.7,193.7 437.7,196.9 434.7,200.0 431.7,203.1 428.7,206.1 425.8,209.0 422.8,211.9 419.8,214.7 416.8,217.4 413.8,220.0 410.8,222.6 407.8,225.0 404.8,227.3 401.9,229.6 398.9,231.7 395.9,233.8 392.9,235.8 389.9,237.7 386.9,239.5 383.9,241.2 380.9,242.9 377.9,244.4 375.0,245.9 372.0,247.3 369.0,248.6 366.0,249.9Z" fill="#ed8582" fill-opacity="0.20"/>
<path d="M366.0,228.9 369.0,227.5 372.0,226.1 375.0,224.6 377.9,223.0 380.9,221.4 383.9,219.8 386.9,218.1 389.9,216.4 392.9,214.6 395.9,212.8 398.9,210.9 401.9,209.0 404.8,207.0 407.8,205.0 410.8,203.0 413.8,200.8 416.8,198.7 419.8,196.5 422.8,194.2 425.8,191.9 428.7,189.6 431.7,187.1 434.7,184.7 437.7,182.2 440.7,179.6 443.7,177.0 446.7,174.3 449.7,171.5 452.7,168.7 455.6,165.8 458.6,162.8 461.6,159.8 464.6,156.7 467.6,153.5 470.6,150.2 473.6,146.8 476.6,143.3 479.5,139.9 482.5,136.4 485.5,132.9 488.5,129.4 491.5,126.0 494.5,122.7 497.5,119.4 500.5,116.2 503.5,113.0 506.4,110.0 509.4,107.1 512.4,104.2 515.4,101.5 518.4,98.9 521.4,96.4 524.4,94.0 527.4,91.7 530.3,89.5 533.3,87.4 536.3,85.4 539.3,83.6 542.3,81.8 545.3,80.1 L545.3,104.7 542.3,106.5 539.3,108.4 536.3,110.3 533.3,112.3 530.3,114.3 527.4,116.4 524.4,118.5 521.4,120.6 518.4,122.7 515.4,124.9 512.4,127.2 509.4,129.4 506.4,131.7 503.5,134.1 500.5,136.4 497.5,138.8 494.5,141.3 491.5,143.7 488.5,146.2 485.5,148.8 482.5,151.4 479.5,154.0 476.6,156.7 473.6,159.5 470.6,162.4 467.6,165.3 464.6,168.4 461.6,171.5 458.6,174.7 455.6,177.9 452.7,181.1 449.7,184.3 446.7,187.6 443.7,190.8 440.7,194.0 437.7,197.2 434.7,200.3 431.7,203.3 428.7,206.3 425.8,209.2 422.8,212.1 419.8,214.9 416.8,217.5 413.8,220.1 410.8,222.6 407.8,225.1 404.8,227.4 401.9,229.6 398.9,231.8 395.9,233.9 392.9,235.8 389.9,237.7 386.9,239.5 383.9,241.2 380.9,242.9 377.9,244.4 375.0,245.9 372.0,247.3 369.0,248.7 366.0,249.9Z" fill="#dc716b" fill-opacity="0.20"/>
<path d="M366.0,233.1 369.0,231.6 372.0,230.1 375.0,228.6 377.9,227.0 380.9,225.4 383.9,223.7 386.9,222.0 389.9,220.2 392.9,218.3 395.9,216.5 398.9,214.5 401.9,212.5 404.8,210.5 407.8,208.4 410.8,206.2 413.8,204.0 416.8,201.8 419.8,199.5 422.8,197.1 425.8,194.7 428.7,192.2 431.7,189.7 434.7,187.1 437.7,184.5 440.7,181.8 443.7,179.0 446.7,176.2 449.7,173.3 452.7,170.4 455.6,167.4 458.6,164.3 461.6,161.2 464.6,158.0 467.6,154.7 470.6,151.4 473.6,148.0 476.6,144.5 479.5,141.0 482.5,137.5 485.5,134.0 488.5,130.6 491.5,127.1 494.5,123.8 497.5,120.5 500.5,117.3 503.5,114.1 506.4,111.1 509.4,108.1 512.4,105.3 515.4,102.6 518.4,99.9 521.4,97.4 524.4,95.0 527.4,92.7 530.3,90.4 533.3,88.3 536.3,86.4 539.3,84.5 542.3,82.7 545.3,81.0 L545.3,102.9 542.3,104.7 539.3,106.7 536.3,108.6 533.3,110.6 530.3,112.7 527.4,114.8 524.4,116.9 521.4,119.1 518.4,121.3 515.4,123.6 512.4,125.9 509.4,128.3 506.4,130.7 503.5,133.1 500.5,135.6 497.5,138.1 494.5,140.6 491.5,143.2 488.5,145.9 485.5,148.5 482.5,151.3 479.5,154.0 476.6,156.9 473.6,159.7 470.6,162.7 467.6,165.8 464.6,168.9 461.6,172.1 458.6,175.3 455.6,178.6 452.7,181.8 449.7,185.1 446.7,188.4 443.7,191.6 440.7,194.9 437.7,198.0 434.7,201.2 431.7,204.2 428.7,207.2 425.8,210.2 422.8,213.0 419.8,215.8 416.8,218.5 413.8,221.1 410.8,223.6 407.8,226.0 404.8,228.3 401.9,230.6 398.9,232.7 395.9,234.8 392.9,236.7 389.9,238.6 386.9,240.4 383.9,242.1 380.9,243.8 377.9,245.3 375.0,246.8 372.0,248.2 369.0,249.5 366.0,250.8Z" fill="#ca5e55" fill-opacity="0.20"/>
<path d="M366.0,235.2 369.0,233.8 372.0,232.3 375.0,230.8 377.9,229.2 380.9,227.5 383.9,225.8 386.9,224.1 389.9,222.3 392.9,220.4 395.9,218.5 398.9,216.5 401.9,214.5 404.8,212.4 407.8,210.3 410.8,208.1 413.8,205.8 416.8,203.5 419.8,201.2 422.8,198.8 425.8,196.3 428.7,193.8 431.7,191.2 434.7,188.6 437.7,185.9 440.7,183.1 443.7,180.3 446.7,177.5 449.7,174.5 452.7,171.5 455.6,168.5 458.6,165.3 461.6,162.1 464.6,158.9 467.6,155.5 470.6,152.1 473.6,148.6 476.6,145.0 479.5,141.4 482.5,137.8 485.5,134.3 488.5,130.7 491.5,127.2 494.5,123.8 497.5,120.4 500.5,117.2 503.5,114.0 506.4,110.9 509.4,107.9 512.4,105.0 515.4,102.2 518.4,99.6 521.4,97.0 524.4,94.6 527.4,92.3 530.3,90.0 533.3,87.9 536.3,85.9 539.3,84.0 542.3,82.3 545.3,80.6 L545.3,103.3 542.3,105.1 539.3,107.0 536.3,109.0 533.3,111.0 530.3,113.1 527.4,115.2 524.4,117.3 521.4,119.5 518.4,121.8 515.4,124.1 512.4,126.4 509.4,128.8 506.4,131.2 503.5,133.6 500.5,136.1 497.5,138.7 494.5,141.2 491.5,143.8 488.5,146.5 485.5,149.2 482.5,152.0 479.5,154.8 476.6,157.6 473.6,160.6 470.6,163.6 467.6,166.7 464.6,169.9 461.6,173.2 458.6,176.5 455.6,179.8 452.7,183.1 449.7,186.5 446.7,189.8 443.7,193.2 440.7,196.5 437.7,199.7 434.7,202.9 431.7,206.0 428.7,209.1 425.8,212.1 422.8,214.9 419.8,217.8 416.8,220.5 413.8,223.1 410.8,225.6 407.8,228.1 404.8,230.4 401.9,232.6 398.9,234.8 395.9,236.8 392.9,238.8 389.9,240.6 386.9,242.4 383.9,244.1 380.9,245.7 377.9,247.2 375.0,248.7 372.0,250.0 369.0,251.3 366.0,252.5Z" fill="#b84a40" fill-opacity="0.20"/>
<path d="M366.0,235.7 369.0,234.3 372.0,232.8 375.0,231.2 377.9,229.6 380.9,228.0 383.9,226.3 386.9,224.5 389.9,222.7 392.9,220.9 395.9,218.9 398.9,217.0 401.9,215.0 404.8,212.9 407.8,210.8 410.8,208.6 413.8,206.3 416.8,204.1 419.8,201.7 422.8,199.3 425.8,196.9 428.7,194.4 431.7,191.8 434.7,189.2 437.7,186.5 440.7,183.8 443.7,180.9 446.7,178.1 449.7,175.1 452.7,172.1 455.6,169.0 458.6,165.9 461.6,162.6 464.6,159.3 467.6,155.8 470.6,152.3 473.6,148.6 476.6,144.9 479.5,141.2 482.5,137.4 485.5,133.7 488.5,130.0 491.5,126.3 494.5,122.8 497.5,119.3 500.5,115.9 503.5,112.6 506.4,109.4 509.4,106.4 512.4,103.4 515.4,100.6 518.4,97.9 521.4,95.3 524.4,92.8 527.4,90.5 530.3,88.3 533.3,86.2 536.3,84.2 539.3,82.4 542.3,80.6 545.3,79.0 L545.3,105.9 542.3,107.7 539.3,109.6 536.3,111.5 533.3,113.5 530.3,115.5 527.4,117.6 524.4,119.7 521.4,121.8 518.4,124.0 515.4,126.3 512.4,128.5 509.4,130.9 506.4,133.2 503.5,135.6 500.5,138.0 497.5,140.5 494.5,143.0 491.5,145.6 488.5,148.2 485.5,150.8 482.5,153.5 479.5,156.2 476.6,159.1 473.6,162.0 470.6,165.0 467.6,168.1 464.6,171.3 461.6,174.7 458.6,178.1 455.6,181.5 452.7,185.0 449.7,188.4 446.7,191.9 443.7,195.3 440.7,198.7 437.7,202.1 434.7,205.4 431.7,208.6 428.7,211.8 425.8,214.8 422.8,217.8 419.8,220.7 416.8,223.4 413.8,226.1 410.8,228.6 407.8,231.1 404.8,233.4 401.9,235.7 398.9,237.8 395.9,239.8 392.9,241.7 389.9,243.6 386.9,245.3 383.9,246.9 380.9,248.5 377.9,250.0 375.0,251.3 372.0,252.7 369.0,253.9 366.0,255.0Z" fill="#a5362b" fill-opacity="0.20"/>
<path d="M366.0,234.5 369.0,233.1 372.0,231.6 375.0,230.0 377.9,228.4 380.9,226.8 383.9,225.1 386.9,223.4 389.9,221.6 392.9,219.8 395.9,217.9 398.9,215.9 401.9,214.0 404.8,211.9 407.8,209.9 410.8,207.7 413.8,205.5 416.8,203.3 419.8,201.0 422.8,198.7 425.8,196.3 428.7,193.9 431.7,191.4 434.7,188.9 437.7,186.3 440.7,183.6 443.7,180.9 446.7,178.0 449.7,175.2 452.7,172.2 455.6,169.1 458.6,165.9 461.6,162.6 464.6,159.2 467.6,155.7 470.6,151.9 473.6,148.1 476.6,144.1 479.5,140.2 482.5,136.2 485.5,132.2 488.5,128.3 491.5,124.4 494.5,120.7 497.5,117.0 500.5,113.4 503.5,110.0 506.4,106.7 509.4,103.6 512.4,100.6 515.4,97.7 518.4,94.9 521.4,92.4 524.4,89.9 527.4,87.6 530.3,85.4 533.3,83.4 536.3,81.4 539.3,79.6 542.3,77.9 545.3,76.4 L545.3,110.9 542.3,112.7 539.3,114.5 536.3,116.4 533.3,118.3 530.3,120.2 527.4,122.2 524.4,124.2 521.4,126.2 518.4,128.3 515.4,130.4 512.4,132.5 509.4,134.7 506.4,136.9 503.5,139.1 500.5,141.4 497.5,143.7 494.5,146.0 491.5,148.4 488.5,150.9 485.5,153.3 482.5,155.9 479.5,158.5 476.6,161.2 473.6,164.0 470.6,166.9 467.6,170.0 464.6,173.2 461.6,176.6 458.6,180.1 455.6,183.7 452.7,187.3 449.7,190.9 446.7,194.5 443.7,198.1 440.7,201.7 437.7,205.2 434.7,208.7 431.7,212.0 428.7,215.3 425.8,218.4 422.8,221.5 419.8,224.4 416.8,227.2 413.8,229.9 410.8,232.5 407.8,234.9 404.8,237.3 401.9,239.5 398.9,241.6 395.9,243.6 392.9,245.4 389.9,247.2 386.9,248.9 383.9,250.4 380.9,251.9 377.9,253.3 375.0,254.6 372.0,255.8 369.0,256.9 366.0,258.0Z" fill="#932017" fill-opacity="0.20"/>
<path d="M366.0,232.9 369.0,231.4 372.0,229.9 375.0,228.4 377.9,226.8 380.9,225.2 383.9,223.5 386.9,221.8 389.9,220.0 392.9,218.2 395.9,216.4 398.9,214.5 401.9,212.6 404.8,210.6 407.8,208.6 410.8,206.5 413.8,204.4 416.8,202.2 419.8,200.0 422.8,197.8 425.8,195.5 428.7,193.1 431.7,190.8 434.7,188.3 437.7,185.8 440.7,183.2 443.7,180.6 446.7,177.9 449.7,175.0 452.7,172.1 455.6,169.1 458.6,165.9 461.6,162.6 464.6,159.1 467.6,155.4 470.6,151.5 473.6,147.4 476.6,143.2 479.5,139.0 482.5,134.7 485.5,130.5 488.5,126.4 491.5,122.3 494.5,118.3 497.5,114.5 500.5,110.8 503.5,107.2 506.4,103.8 509.4,100.6 512.4,97.5 515.4,94.6 518.4,91.9 521.4,89.3 524.4,86.9 527.4,84.6 530.3,82.5 533.3,80.5 536.3,78.6 539.3,76.9 542.3,75.3 545.3,73.8 L545.3,117.0 542.3,118.7 539.3,120.4 536.3,122.1 533.3,123.9 530.3,125.7 527.4,127.5 524.4,129.4 521.4,131.2 518.4,133.1 515.4,135.1 512.4,137.0 509.4,139.0 506.4,141.1 503.5,143.1 500.5,145.2 497.5,147.3 494.5,149.4 491.5,151.6 488.5,153.9 485.5,156.1 482.5,158.5 479.5,160.9 476.6,163.5 473.6,166.1 470.6,168.9 467.6,172.0 464.6,175.2 461.6,178.7 458.6,182.3 455.6,186.0 452.7,189.7 449.7,193.5 446.7,197.3 443.7,201.1 440.7,204.8 437.7,208.4 434.7,212.0 431.7,215.5 428.7,218.8 425.8,222.1 422.8,225.2 419.8,228.2 416.8,231.0 413.8,233.7 410.8,236.3 407.8,238.7 404.8,241.0 401.9,243.2 398.9,245.2 395.9,247.1 392.9,248.9 389.9,250.6 386.9,252.2 383.9,253.7 380.9,255.0 377.9,256.3 375.0,257.5 372.0,258.6 369.0,259.6 366.0,260.6Z" fill="#800000" fill-opacity="0.20"/>
<path d="M356.90,46.15 V282.65 H554.20" fill="none" stroke="#000" stroke-width="1.70"/>
<path d="M352.50,271.90 H356.40" stroke="#333" stroke-width="1.70"/>
<text x="348.50" y="277.90" text-anchor="end" class="tk">0.00</text>
<path d="M352.50,218.15 H356.40" stroke="#333" stroke-width="1.70"/>
<text x="348.50" y="224.15" text-anchor="end" class="tk">0.25</text>
<path d="M352.50,164.40 H356.40" stroke="#333" stroke-width="1.70"/>
<text x="348.50" y="170.40" text-anchor="end" class="tk">0.50</text>
<path d="M352.50,110.65 H356.40" stroke="#333" stroke-width="1.70"/>
<text x="348.50" y="116.65" text-anchor="end" class="tk">0.75</text>
<path d="M352.50,56.90 H356.40" stroke="#333" stroke-width="1.70"/>
<text x="348.50" y="62.90" text-anchor="end" class="tk">1.00</text>
<path d="M360.60,283.15 V287.05" stroke="#333" stroke-width="1.70"/>
<text x="360.60" y="302.95" text-anchor="middle" class="tk">-3</text>
<path d="M393.30,283.15 V287.05" stroke="#333" stroke-width="1.70"/>
<text x="393.30" y="302.95" text-anchor="middle" class="tk">-2</text>
<path d="M426.00,283.15 V287.05" stroke="#333" stroke-width="1.70"/>
<text x="426.00" y="302.95" text-anchor="middle" class="tk">-1</text>
<path d="M458.70,283.15 V287.05" stroke="#333" stroke-width="1.70"/>
<text x="458.70" y="302.95" text-anchor="middle" class="tk">0</text>
<path d="M491.40,283.15 V287.05" stroke="#333" stroke-width="1.70"/>
<text x="491.40" y="302.95" text-anchor="middle" class="tk">1</text>
<path d="M524.10,283.15 V287.05" stroke="#333" stroke-width="1.70"/>
<text x="524.10" y="302.95" text-anchor="middle" class="tk">2</text>
<text x="455.55" y="322.95" text-anchor="middle" class="ti">ΔEV (right-left)</text>
<text transform="translate(308.00,164.40) rotate(-90)" text-anchor="middle" class="ti yt">P(choose right)</text>
<text x="287.60" y="33.65" class="pl">d</text>
</g>
<g>
<path d="M365.9,517.4 368.9,516.3 371.9,515.2 374.9,514.1 377.8,512.9 380.8,511.8 383.8,510.7 386.8,509.5 389.8,508.4 392.8,507.2 395.8,506.1 398.7,504.9 401.7,503.7 404.7,502.5 407.7,501.3 410.7,500.2 413.7,499.0 416.7,497.8 419.6,496.6 422.6,495.3 425.6,494.1 428.6,492.9 431.6,491.7 434.6,490.5 437.6,489.3 440.6,488.0 443.5,486.8 446.5,485.6 449.5,484.4 452.5,483.1 455.5,481.9 458.5,480.7 461.5,479.4 464.4,478.2 467.4,477.0 470.4,475.8 473.4,474.5 476.4,473.3 479.4,472.1 482.4,470.9 485.3,469.7 488.3,468.4 491.3,467.2 494.3,466.0 497.3,464.8 500.3,463.6 503.3,462.4 506.2,461.3 509.2,460.1 512.2,458.9 515.2,457.7 518.2,456.6 521.2,455.4 524.2,454.3 527.2,453.1 530.1,452.0 533.1,450.8 536.1,449.7 539.1,448.6 542.1,447.5 545.1,446.4" fill="none" stroke="#33ff33" stroke-width="3.00"/>
<path d="M365.9,524.6 368.9,523.3 371.9,522.1 374.9,520.8 377.8,519.6 380.8,518.3 383.8,517.0 386.8,515.7 389.8,514.4 392.8,513.1 395.8,511.7 398.7,510.4 401.7,509.0 404.7,507.6 407.7,506.3 410.7,504.9 413.7,503.5 416.7,502.1 419.6,500.7 422.6,499.3 425.6,497.8 428.6,496.4 431.6,495.0 434.6,493.6 437.6,492.1 440.6,490.7 443.5,489.2 446.5,487.8 449.5,486.3 452.5,484.9 455.5,483.4 458.5,482.0 461.5,480.5 464.4,479.0 467.4,477.6 470.4,476.1 473.4,474.7 476.4,473.2 479.4,471.8 482.4,470.4 485.3,468.9 488.3,467.5 491.3,466.1 494.3,464.6 497.3,463.2 500.3,461.8 503.3,460.4 506.2,459.0 509.2,457.6 512.2,456.2 515.2,454.9 518.2,453.5 521.2,452.2 524.2,450.8 527.2,449.5 530.1,448.2 533.1,446.9 536.1,445.6 539.1,444.3 542.1,443.0 545.1,441.8" fill="none" stroke="#2be32b" stroke-width="3.00" stroke-dasharray="12.12 6.06"/>
<path d="M365.9,531.3 368.9,530.0 371.9,528.7 374.9,527.3 377.8,525.9 380.8,524.5 383.8,523.1 386.8,521.6 389.8,520.2 392.8,518.7 395.8,517.2 398.7,515.7 401.7,514.2 404.7,512.6 407.7,511.1 410.7,509.5 413.7,507.9 416.7,506.3 419.6,504.7 422.6,503.1 425.6,501.5 428.6,499.9 431.6,498.2 434.6,496.6 437.6,494.9 440.6,493.3 443.5,491.6 446.5,490.0 449.5,488.3 452.5,486.6 455.5,484.9 458.5,483.2 461.5,481.6 464.4,479.9 467.4,478.2 470.4,476.5 473.4,474.8 476.4,473.2 479.4,471.5 482.4,469.8 485.3,468.2 488.3,466.5 491.3,464.9 494.3,463.2 497.3,461.6 500.3,460.0 503.3,458.4 506.2,456.8 509.2,455.2 512.2,453.6 515.2,452.1 518.2,450.5 521.2,449.0 524.2,447.5 527.2,446.0 530.1,444.5 533.1,443.0 536.1,441.6 539.1,440.1 542.1,438.7 545.1,437.3" fill="none" stroke="#23c922" stroke-width="3.00" stroke-dasharray="6.06 6.06"/>
<path d="M365.9,537.7 368.9,536.2 371.9,534.8 374.9,533.4 377.8,531.9 380.8,530.4 383.8,528.8 386.8,527.3 389.8,525.7 392.8,524.1 395.8,522.5 398.7,520.8 401.7,519.2 404.7,517.5 407.7,515.8 410.7,514.0 413.7,512.3 416.7,510.5 419.6,508.7 422.6,507.0 425.6,505.1 428.6,503.3 431.6,501.5 434.6,499.6 437.6,497.8 440.6,495.9 443.5,494.0 446.5,492.1 449.5,490.2 452.5,488.3 455.5,486.4 458.5,484.5 461.5,482.6 464.4,480.7 467.4,478.8 470.4,476.9 473.4,475.0 476.4,473.1 479.4,471.2 482.4,469.3 485.3,467.4 488.3,465.6 491.3,463.7 494.3,461.9 497.3,460.0 500.3,458.2 503.3,456.4 506.2,454.6 509.2,452.8 512.2,451.1 515.2,449.3 518.2,447.6 521.2,445.9 524.2,444.2 527.2,442.5 530.1,440.9 533.1,439.3 536.1,437.7 539.1,436.1 542.1,434.5 545.1,433.0" fill="none" stroke="#1bae1a" stroke-width="3.00" stroke-dasharray="3.03 9.09 12.12 9.09"/>
<path d="M365.9,543.5 368.9,542.0 371.9,540.5 374.9,539.0 377.8,537.5 380.8,535.9 383.8,534.3 386.8,532.7 389.8,531.0 392.8,529.3 395.8,527.5 398.7,525.8 401.7,524.0 404.7,522.2 407.7,520.3 410.7,518.4 413.7,516.5 416.7,514.6 419.6,512.7 422.6,510.7 425.6,508.7 428.6,506.7 431.6,504.7 434.6,502.6 437.6,500.6 440.6,498.5 443.5,496.4 446.5,494.3 449.5,492.2 452.5,490.1 455.5,487.9 458.5,485.8 461.5,483.7 464.4,481.5 467.4,479.4 470.4,477.3 473.4,475.1 476.4,473.0 479.4,470.9 482.4,468.8 485.3,466.7 488.3,464.6 491.3,462.5 494.3,460.5 497.3,458.4 500.3,456.4 503.3,454.4 506.2,452.4 509.2,450.5 512.2,448.5 515.2,446.6 518.2,444.7 521.2,442.8 524.2,441.0 527.2,439.2 530.1,437.4 533.1,435.6 536.1,433.9 539.1,432.2 542.1,430.5 545.1,428.9" fill="none" stroke="#139512" stroke-width="3.00" stroke-dasharray="3.03 9.09"/>
<path d="M365.9,548.8 368.9,547.3 371.9,545.8 374.9,544.3 377.8,542.7 380.8,541.1 383.8,539.4 386.8,537.7 389.8,536.0 392.8,534.2 395.8,532.4 398.7,530.5 401.7,528.6 404.7,526.7 407.7,524.7 410.7,522.7 413.7,520.7 416.7,518.6 419.6,516.5 422.6,514.4 425.6,512.2 428.6,510.0 431.6,507.8 434.6,505.6 437.6,503.3 440.6,501.1 443.5,498.8 446.5,496.5 449.5,494.1 452.5,491.8 455.5,489.4 458.5,487.1 461.5,484.7 464.4,482.4 467.4,480.0 470.4,477.7 473.4,475.3 476.4,472.9 479.4,470.6 482.4,468.3 485.3,466.0 488.3,463.7 491.3,461.4 494.3,459.1 497.3,456.9 500.3,454.6 503.3,452.4 506.2,450.3 509.2,448.1 512.2,446.0 515.2,443.9 518.2,441.9 521.2,439.9 524.2,437.9 527.2,435.9 530.1,434.0 533.1,432.1 536.1,430.3 539.1,428.5 542.1,426.7 545.1,425.0" fill="none" stroke="#0b7c0a" stroke-width="3.00" stroke-dasharray="6.06 6.06 18.18 6.06"/>
<path d="M365.9,553.6 368.9,552.2 371.9,550.7 374.9,549.1 377.8,547.5 380.8,545.9 383.8,544.2 386.8,542.5 389.8,540.7 392.8,538.8 395.8,536.9 398.7,535.0 401.7,533.0 404.7,531.0 407.7,528.9 410.7,526.8 413.7,524.7 416.7,522.5 419.6,520.2 422.6,518.0 425.6,515.7 428.6,513.3 431.6,510.9 434.6,508.5 437.6,506.1 440.6,503.6 443.5,501.1 446.5,498.6 449.5,496.1 452.5,493.5 455.5,490.9 458.5,488.4 461.5,485.8 464.4,483.2 467.4,480.6 470.4,478.0 473.4,475.5 476.4,472.9 479.4,470.3 482.4,467.8 485.3,465.2 488.3,462.7 491.3,460.2 494.3,457.7 497.3,455.3 500.3,452.9 503.3,450.5 506.2,448.1 509.2,445.8 512.2,443.6 515.2,441.3 518.2,439.1 521.2,437.0 524.2,434.8 527.2,432.8 530.1,430.7 533.1,428.8 536.1,426.8 539.1,424.9 542.1,423.1 545.1,421.3" fill="none" stroke="#046404" stroke-width="3.00" stroke-dasharray="3.03 6.06 6.06 6.06 9.09 6.06 12.12 6.06"/>
<path d="M365.9,558.0 368.9,556.6 371.9,555.1 374.9,553.6 377.8,552.0 380.8,550.3 383.8,548.6 386.8,546.9 389.8,545.1 392.8,543.2 395.8,541.3 398.7,539.3 401.7,537.2 404.7,535.2 407.7,533.0 410.7,530.8 413.7,528.5 416.7,526.2 419.6,523.9 422.6,521.5 425.6,519.0 428.6,516.5 431.6,514.0 434.6,511.4 437.6,508.8 440.6,506.1 443.5,503.4 446.5,500.7 449.5,498.0 452.5,495.2 455.5,492.4 458.5,489.7 461.5,486.9 464.4,484.0 467.4,481.2 470.4,478.4 473.4,475.6 476.4,472.8 479.4,470.0 482.4,467.2 485.3,464.5 488.3,461.8 491.3,459.1 494.3,456.4 497.3,453.7 500.3,451.1 503.3,448.6 506.2,446.1 509.2,443.6 512.2,441.1 515.2,438.8 518.2,436.4 521.2,434.1 524.2,431.9 527.2,429.7 530.1,427.6 533.1,425.5 536.1,423.5 539.1,421.5 542.1,419.6 545.1,417.8" fill="none" stroke="#004d00" stroke-width="3.00" stroke-dasharray="45.45 6.06 24.24 6.06"/>
<path d="M365.9,497.5 368.9,496.8 371.9,496.1 374.9,495.5 377.8,494.8 380.8,494.1 383.8,493.4 386.8,492.7 389.8,492.0 392.8,491.3 395.8,490.6 398.7,489.9 401.7,489.1 404.7,488.4 407.7,487.6 410.7,486.8 413.7,486.0 416.7,485.2 419.6,484.4 422.6,483.5 425.6,482.7 428.6,481.8 431.6,480.8 434.6,479.9 437.6,478.9 440.6,477.9 443.5,476.8 446.5,475.7 449.5,474.6 452.5,473.5 455.5,472.2 458.5,471.0 461.5,469.7 464.4,468.4 467.4,467.1 470.4,465.7 473.4,464.3 476.4,462.8 479.4,461.4 482.4,459.9 485.3,458.4 488.3,456.9 491.3,455.4 494.3,453.9 497.3,452.3 500.3,450.8 503.3,449.3 506.2,447.7 509.2,446.2 512.2,444.7 515.2,443.2 518.2,441.7 521.2,440.2 524.2,438.7 527.2,437.2 530.1,435.8 533.1,434.3 536.1,432.9 539.1,431.5 542.1,430.1 545.1,428.8 L545.1,466.4 542.1,467.1 539.1,467.8 536.1,468.4 533.1,469.1 530.1,469.8 527.2,470.5 524.2,471.1 521.2,471.8 518.2,472.6 515.2,473.3 512.2,474.0 509.2,474.7 506.2,475.5 503.3,476.3 500.3,477.0 497.3,477.8 494.3,478.6 491.3,479.5 488.3,480.3 485.3,481.2 482.4,482.1 479.4,483.0 476.4,484.0 473.4,484.9 470.4,485.9 467.4,487.0 464.4,488.1 461.5,489.2 458.5,490.3 455.5,491.5 452.5,492.8 449.5,494.1 446.5,495.4 443.5,496.7 440.6,498.1 437.6,499.5 434.6,500.9 431.6,502.4 428.6,503.8 425.6,505.3 422.6,506.8 419.6,508.3 416.7,509.9 413.7,511.4 410.7,512.9 407.7,514.4 404.7,516.0 401.7,517.5 398.7,519.0 395.8,520.5 392.8,522.0 389.8,523.5 386.8,525.0 383.8,526.4 380.8,527.9 377.8,529.3 374.9,530.7 371.9,532.1 368.9,533.5 365.9,534.9Z" fill="#33ff33" fill-opacity="0.20"/>
<path d="M365.9,509.9 368.9,508.9 371.9,508.0 374.9,507.0 377.8,506.0 380.8,505.0 383.8,504.0 386.8,503.0 389.8,502.0 392.8,501.0 395.8,500.0 398.7,498.9 401.7,497.9 404.7,496.8 407.7,495.7 410.7,494.7 413.7,493.6 416.7,492.4 419.6,491.3 422.6,490.1 425.6,489.0 428.6,487.8 431.6,486.6 434.6,485.3 437.6,484.1 440.6,482.8 443.5,481.4 446.5,480.1 449.5,478.7 452.5,477.3 455.5,475.9 458.5,474.4 461.5,472.9 464.4,471.4 467.4,469.8 470.4,468.3 473.4,466.7 476.4,465.0 479.4,463.4 482.4,461.8 485.3,460.1 488.3,458.5 491.3,456.8 494.3,455.1 497.3,453.5 500.3,451.8 503.3,450.1 506.2,448.5 509.2,446.9 512.2,445.2 515.2,443.6 518.2,442.0 521.2,440.4 524.2,438.8 527.2,437.3 530.1,435.7 533.1,434.2 536.1,432.7 539.1,431.2 542.1,429.8 545.1,428.3 L545.1,456.8 542.1,457.8 539.1,458.8 536.1,459.7 533.1,460.7 530.1,461.7 527.2,462.7 524.2,463.7 521.2,464.8 518.2,465.8 515.2,466.8 512.2,467.9 509.2,468.9 506.2,470.0 503.3,471.1 500.3,472.2 497.3,473.3 494.3,474.4 491.3,475.6 488.3,476.7 485.3,477.9 482.4,479.1 479.4,480.3 476.4,481.5 473.4,482.8 470.4,484.1 467.4,485.4 464.4,486.7 461.5,488.1 458.5,489.5 455.5,490.9 452.5,492.4 449.5,493.9 446.5,495.4 443.5,496.9 440.6,498.5 437.6,500.1 434.6,501.6 431.6,503.3 428.6,504.9 425.6,506.5 422.6,508.1 419.6,509.8 416.7,511.4 413.7,513.0 410.7,514.7 407.7,516.3 404.7,517.9 401.7,519.5 398.7,521.1 395.8,522.7 392.8,524.3 389.8,525.8 386.8,527.4 383.8,528.9 380.8,530.4 377.8,531.9 374.9,533.3 371.9,534.8 368.9,536.2 365.9,537.6Z" fill="#2be32b" fill-opacity="0.20"/>
<path d="M365.9,520.8 368.9,519.6 371.9,518.4 374.9,517.2 377.8,516.0 380.8,514.8 383.8,513.6 386.8,512.3 389.8,511.1 392.8,509.8 395.8,508.5 398.7,507.2 401.7,505.9 404.7,504.5 407.7,503.2 410.7,501.8 413.7,500.4 416.7,499.1 419.6,497.6 422.6,496.2 425.6,494.8 428.6,493.3 431.6,491.8 434.6,490.3 437.6,488.8 440.6,487.2 443.5,485.7 446.5,484.1 449.5,482.4 452.5,480.8 455.5,479.1 458.5,477.4 461.5,475.7 464.4,474.0 467.4,472.2 470.4,470.4 473.4,468.6 476.4,466.8 479.4,465.0 482.4,463.2 485.3,461.4 488.3,459.6 491.3,457.8 494.3,455.9 497.3,454.1 500.3,452.3 503.3,450.5 506.2,448.7 509.2,447.0 512.2,445.2 515.2,443.5 518.2,441.7 521.2,440.0 524.2,438.4 527.2,436.7 530.1,435.1 533.1,433.5 536.1,431.9 539.1,430.3 542.1,428.8 545.1,427.2 L545.1,448.4 542.1,449.6 539.1,450.8 536.1,452.1 533.1,453.3 530.1,454.6 527.2,455.9 524.2,457.2 521.2,458.5 518.2,459.8 515.2,461.1 512.2,462.4 509.2,463.8 506.2,465.2 503.3,466.5 500.3,467.9 497.3,469.3 494.3,470.7 491.3,472.2 488.3,473.6 485.3,475.1 482.4,476.5 479.4,478.0 476.4,479.5 473.4,481.1 470.4,482.6 467.4,484.2 464.4,485.8 461.5,487.4 458.5,489.0 455.5,490.7 452.5,492.4 449.5,494.1 446.5,495.8 443.5,497.5 440.6,499.3 437.6,501.0 434.6,502.8 431.6,504.6 428.6,506.3 425.6,508.1 422.6,509.9 419.6,511.7 416.7,513.4 413.7,515.2 410.7,516.9 407.7,518.6 404.7,520.4 401.7,522.1 398.7,523.7 395.8,525.4 392.8,527.1 389.8,528.7 386.8,530.3 383.8,531.9 380.8,533.4 377.8,534.9 374.9,536.5 371.9,537.9 368.9,539.4 365.9,540.8Z" fill="#23c922" fill-opacity="0.20"/>
<path d="M365.9,529.5 368.9,528.2 371.9,526.9 374.9,525.5 377.8,524.1 380.8,522.7 383.8,521.3 386.8,519.9 389.8,518.5 392.8,517.0 395.8,515.5 398.7,514.0 401.7,512.5 404.7,510.9 407.7,509.4 410.7,507.8 413.7,506.2 416.7,504.6 419.6,502.9 422.6,501.3 425.6,499.6 428.6,497.9 431.6,496.2 434.6,494.4 437.6,492.7 440.6,490.9 443.5,489.1 446.5,487.2 449.5,485.4 452.5,483.5 455.5,481.6 458.5,479.7 461.5,477.7 464.4,475.8 467.4,473.8 470.4,471.8 473.4,469.8 476.4,467.8 479.4,465.8 482.4,463.8 485.3,461.8 488.3,459.8 491.3,457.8 494.3,455.8 497.3,453.8 500.3,451.8 503.3,449.9 506.2,447.9 509.2,446.0 512.2,444.1 515.2,442.2 518.2,440.4 521.2,438.6 524.2,436.7 527.2,435.0 530.1,433.2 533.1,431.5 536.1,429.8 539.1,428.2 542.1,426.5 545.1,424.9 L545.1,441.8 542.1,443.3 539.1,444.7 536.1,446.1 533.1,447.6 530.1,449.1 527.2,450.6 524.2,452.1 521.2,453.6 518.2,455.1 515.2,456.7 512.2,458.3 509.2,459.9 506.2,461.5 503.3,463.1 500.3,464.7 497.3,466.4 494.3,468.1 491.3,469.7 488.3,471.4 485.3,473.2 482.4,474.9 479.4,476.6 476.4,478.4 473.4,480.2 470.4,482.0 467.4,483.8 464.4,485.6 461.5,487.5 458.5,489.4 455.5,491.2 452.5,493.1 449.5,495.1 446.5,497.0 443.5,498.9 440.6,500.9 437.6,502.8 434.6,504.7 431.6,506.7 428.6,508.6 425.6,510.6 422.6,512.5 419.6,514.4 416.7,516.3 413.7,518.2 410.7,520.1 407.7,521.9 404.7,523.7 401.7,525.5 398.7,527.3 395.8,529.1 392.8,530.8 389.8,532.5 386.8,534.2 383.8,535.8 380.8,537.4 377.8,539.0 374.9,540.5 371.9,542.1 368.9,543.5 365.9,545.0Z" fill="#1bae1a" fill-opacity="0.20"/>
<path d="M365.9,536.0 368.9,534.6 371.9,533.1 374.9,531.7 377.8,530.2 380.8,528.7 383.8,527.2 386.8,525.6 389.8,524.1 392.8,522.5 395.8,520.9 398.7,519.2 401.7,517.5 404.7,515.8 407.7,514.1 410.7,512.4 413.7,510.6 416.7,508.8 419.6,507.0 422.6,505.1 425.6,503.2 428.6,501.3 431.6,499.4 434.6,497.5 437.6,495.5 440.6,493.5 443.5,491.5 446.5,489.4 449.5,487.3 452.5,485.2 455.5,483.1 458.5,481.0 461.5,478.8 464.4,476.6 467.4,474.4 470.4,472.2 473.4,470.0 476.4,467.8 479.4,465.5 482.4,463.3 485.3,461.1 488.3,458.8 491.3,456.6 494.3,454.4 497.3,452.3 500.3,450.1 503.3,448.0 506.2,445.8 509.2,443.8 512.2,441.7 515.2,439.7 518.2,437.7 521.2,435.7 524.2,433.7 527.2,431.8 530.1,430.0 533.1,428.2 536.1,426.4 539.1,424.6 542.1,422.9 545.1,421.2 L545.1,437.4 542.1,438.9 539.1,440.5 536.1,442.1 533.1,443.7 530.1,445.4 527.2,447.0 524.2,448.7 521.2,450.4 518.2,452.1 515.2,453.9 512.2,455.6 509.2,457.4 506.2,459.2 503.3,461.1 500.3,462.9 497.3,464.8 494.3,466.7 491.3,468.6 488.3,470.5 485.3,472.4 482.4,474.4 479.4,476.3 476.4,478.3 473.4,480.3 470.4,482.4 467.4,484.4 464.4,486.5 461.5,488.6 458.5,490.6 455.5,492.7 452.5,494.9 449.5,497.0 446.5,499.1 443.5,501.3 440.6,503.4 437.6,505.5 434.6,507.7 431.6,509.8 428.6,511.9 425.6,514.0 422.6,516.1 419.6,518.2 416.7,520.2 413.7,522.3 410.7,524.3 407.7,526.2 404.7,528.2 401.7,530.1 398.7,532.0 395.8,533.8 392.8,535.6 389.8,537.4 386.8,539.1 383.8,540.8 380.8,542.5 377.8,544.1 374.9,545.7 371.9,547.2 368.9,548.7 365.9,550.2Z" fill="#139512" fill-opacity="0.20"/>
<path d="M365.9,540.4 368.9,539.0 371.9,537.5 374.9,536.0 377.8,534.5 380.8,532.9 383.8,531.3 386.8,529.7 389.8,528.1 392.8,526.4 395.8,524.7 398.7,522.9 401.7,521.1 404.7,519.3 407.7,517.5 410.7,515.6 413.7,513.7 416.7,511.8 419.6,509.8 422.6,507.8 425.6,505.8 428.6,503.7 431.6,501.6 434.6,499.5 437.6,497.3 440.6,495.1 443.5,492.9 446.5,490.6 449.5,488.3 452.5,486.0 455.5,483.7 458.5,481.3 461.5,478.9 464.4,476.5 467.4,474.0 470.4,471.6 473.4,469.1 476.4,466.6 479.4,464.2 482.4,461.7 485.3,459.2 488.3,456.8 491.3,454.4 494.3,451.9 497.3,449.5 500.3,447.2 503.3,444.8 506.2,442.5 509.2,440.3 512.2,438.0 515.2,435.8 518.2,433.7 521.2,431.6 524.2,429.5 527.2,427.5 530.1,425.5 533.1,423.6 536.1,421.7 539.1,419.9 542.1,418.1 545.1,416.4 L545.1,434.8 542.1,436.4 539.1,438.1 536.1,439.8 533.1,441.6 530.1,443.3 527.2,445.1 524.2,446.9 521.2,448.8 518.2,450.7 515.2,452.6 512.2,454.5 509.2,456.4 506.2,458.4 503.3,460.4 500.3,462.4 497.3,464.4 494.3,466.5 491.3,468.6 488.3,470.7 485.3,472.8 482.4,475.0 479.4,477.1 476.4,479.3 473.4,481.5 470.4,483.8 467.4,486.0 464.4,488.3 461.5,490.6 458.5,492.9 455.5,495.2 452.5,497.5 449.5,499.9 446.5,502.2 443.5,504.5 440.6,506.9 437.6,509.2 434.6,511.6 431.6,513.9 428.6,516.2 425.6,518.5 422.6,520.7 419.6,522.9 416.7,525.1 413.7,527.3 410.7,529.4 407.7,531.5 404.7,533.6 401.7,535.6 398.7,537.5 395.8,539.5 392.8,541.3 389.8,543.2 386.8,544.9 383.8,546.7 380.8,548.3 377.8,550.0 374.9,551.6 371.9,553.1 368.9,554.6 365.9,556.0Z" fill="#0b7c0a" fill-opacity="0.20"/>
<path d="M365.9,543.5 368.9,542.1 371.9,540.6 374.9,539.0 377.8,537.5 380.8,535.9 383.8,534.2 386.8,532.6 389.8,530.8 392.8,529.1 395.8,527.3 398.7,525.5 401.7,523.6 404.7,521.7 407.7,519.8 410.7,517.8 413.7,515.8 416.7,513.8 419.6,511.7 422.6,509.5 425.6,507.4 428.6,505.2 431.6,502.9 434.6,500.6 437.6,498.3 440.6,495.9 443.5,493.5 446.5,491.0 449.5,488.5 452.5,486.0 455.5,483.4 458.5,480.8 461.5,478.2 464.4,475.5 467.4,472.8 470.4,470.1 473.4,467.4 476.4,464.7 479.4,462.0 482.4,459.2 485.3,456.5 488.3,453.8 491.3,451.2 494.3,448.5 497.3,445.9 500.3,443.3 503.3,440.8 506.2,438.3 509.2,435.9 512.2,433.5 515.2,431.1 518.2,428.8 521.2,426.6 524.2,424.4 527.2,422.3 530.1,420.3 533.1,418.3 536.1,416.3 539.1,414.5 542.1,412.7 545.1,410.9 L545.1,433.6 542.1,435.4 539.1,437.1 536.1,438.9 533.1,440.8 530.1,442.6 527.2,444.5 524.2,446.5 521.2,448.4 518.2,450.4 515.2,452.4 512.2,454.5 509.2,456.5 506.2,458.6 503.3,460.8 500.3,462.9 497.3,465.1 494.3,467.3 491.3,469.6 488.3,471.8 485.3,474.1 482.4,476.5 479.4,478.8 476.4,481.2 473.4,483.6 470.4,486.0 467.4,488.4 464.4,490.9 461.5,493.4 458.5,495.9 455.5,498.4 452.5,500.9 449.5,503.5 446.5,506.0 443.5,508.5 440.6,511.1 437.6,513.6 434.6,516.1 431.6,518.6 428.6,521.1 425.6,523.5 422.6,525.9 419.6,528.3 416.7,530.6 413.7,532.9 410.7,535.1 407.7,537.3 404.7,539.5 401.7,541.5 398.7,543.6 395.8,545.5 392.8,547.4 389.8,549.3 386.8,551.0 383.8,552.8 380.8,554.4 377.8,556.0 374.9,557.6 371.9,559.1 368.9,560.5 365.9,561.9Z" fill="#046404" fill-opacity="0.20"/>
<path d="M365.9,545.9 368.9,544.4 371.9,542.9 374.9,541.4 377.8,539.8 380.8,538.2 383.8,536.5 386.8,534.8 389.8,533.0 392.8,531.2 395.8,529.4 398.7,527.5 401.7,525.6 404.7,523.6 407.7,521.6 410.7,519.5 413.7,517.4 416.7,515.3 419.6,513.1 422.6,510.8 425.6,508.5 428.6,506.2 431.6,503.8 434.6,501.4 437.6,498.9 440.6,496.3 443.5,493.7 446.5,491.1 449.5,488.4 452.5,485.6 455.5,482.8 458.5,480.0 461.5,477.1 464.4,474.2 467.4,471.2 470.4,468.3 473.4,465.3 476.4,462.3 479.4,459.4 482.4,456.4 485.3,453.4 488.3,450.5 491.3,447.6 494.3,444.8 497.3,441.9 500.3,439.2 503.3,436.5 506.2,433.8 509.2,431.2 512.2,428.7 515.2,426.2 518.2,423.8 521.2,421.5 524.2,419.2 527.2,417.1 530.1,415.0 533.1,413.0 536.1,411.0 539.1,409.1 542.1,407.4 545.1,405.6 L545.1,433.2 542.1,435.0 539.1,436.8 536.1,438.7 533.1,440.6 530.1,442.6 527.2,444.6 524.2,446.6 521.2,448.7 518.2,450.7 515.2,452.9 512.2,455.0 509.2,457.2 506.2,459.5 503.3,461.7 500.3,464.0 497.3,466.3 494.3,468.7 491.3,471.1 488.3,473.5 485.3,475.9 482.4,478.4 479.4,480.9 476.4,483.4 473.4,486.0 470.4,488.6 467.4,491.2 464.4,493.9 461.5,496.5 458.5,499.2 455.5,501.9 452.5,504.6 449.5,507.4 446.5,510.1 443.5,512.8 440.6,515.5 437.6,518.2 434.6,520.9 431.6,523.6 428.6,526.2 425.6,528.8 422.6,531.3 419.6,533.8 416.7,536.2 413.7,538.6 410.7,540.9 407.7,543.1 404.7,545.3 401.7,547.4 398.7,549.4 395.8,551.4 392.8,553.3 389.8,555.1 386.8,556.8 383.8,558.5 380.8,560.1 377.8,561.7 374.9,563.1 371.9,564.5 368.9,565.9 365.9,567.1Z" fill="#004d00" fill-opacity="0.20"/>
<path d="M356.90,363.55 V600.05 H554.20" fill="none" stroke="#000" stroke-width="1.70"/>
<path d="M352.50,589.30 H356.40" stroke="#333" stroke-width="1.70"/>
<text x="348.50" y="595.30" text-anchor="end" class="tk">0.00</text>
<path d="M352.50,535.55 H356.40" stroke="#333" stroke-width="1.70"/>
<text x="348.50" y="541.55" text-anchor="end" class="tk">0.25</text>
<path d="M352.50,481.80 H356.40" stroke="#333" stroke-width="1.70"/>
<text x="348.50" y="487.80" text-anchor="end" class="tk">0.50</text>
<path d="M352.50,428.05 H356.40" stroke="#333" stroke-width="1.70"/>
<text x="348.50" y="434.05" text-anchor="end" class="tk">0.75</text>
<path d="M352.50,374.30 H356.40" stroke="#333" stroke-width="1.70"/>
<text x="348.50" y="380.30" text-anchor="end" class="tk">1.00</text>
<path d="M403.55,600.55 V604.45" stroke="#333" stroke-width="1.70"/>
<text x="403.55" y="620.35" text-anchor="middle" class="tk">-1</text>
<path d="M455.20,600.55 V604.45" stroke="#333" stroke-width="1.70"/>
<text x="455.20" y="620.35" text-anchor="middle" class="tk">0</text>
<path d="M506.85,600.55 V604.45" stroke="#333" stroke-width="1.70"/>
<text x="506.85" y="620.35" text-anchor="middle" class="tk">1</text>
<text x="455.55" y="640.35" text-anchor="middle" class="ti">Δagency (right-left)</text>
<text transform="translate(308.00,481.80) rotate(-90)" text-anchor="middle" class="ti yt">P(choose right)</text>
<text x="287.60" y="351.05" class="pl">e</text>
</g>
<g>
<path d="M365.7,813.8 368.7,813.3 371.7,812.8 374.7,812.3 377.6,811.8 380.6,811.3 383.6,810.8 386.6,810.3 389.6,809.8 392.6,809.3 395.6,808.8 398.6,808.3 401.6,807.8 404.6,807.3 407.5,806.7 410.5,806.2 413.5,805.7 416.5,805.2 419.5,804.7 422.5,804.2 425.5,803.7 428.5,803.2 431.5,802.7 434.5,802.2 437.5,801.7 440.4,801.2 443.4,800.6 446.4,800.1 449.4,799.6 452.4,799.1 455.4,798.6 458.4,798.1 461.4,797.6 464.4,797.1 467.4,796.6 470.3,796.1 473.3,795.6 476.3,795.0 479.3,794.5 482.3,794.0 485.3,793.5 488.3,793.0 491.3,792.5 494.3,792.0 497.3,791.5 500.2,791.0 503.2,790.5 506.2,790.0 509.2,789.5 512.2,789.0 515.2,788.5 518.2,788.0 521.2,787.4 524.2,786.9 527.2,786.4 530.1,785.9 533.1,785.4 536.1,784.9 539.1,784.4 542.1,783.9 545.1,783.4" fill="none" stroke="#99ccff" stroke-width="3.00"/>
<path d="M365.7,824.8 368.7,824.0 371.7,823.2 374.7,822.4 377.6,821.6 380.6,820.8 383.6,820.0 386.6,819.2 389.6,818.4 392.6,817.6 395.6,816.8 398.6,816.0 401.6,815.2 404.6,814.3 407.5,813.5 410.5,812.7 413.5,811.9 416.5,811.1 419.5,810.2 422.5,809.4 425.5,808.6 428.5,807.8 431.5,806.9 434.5,806.1 437.5,805.3 440.4,804.4 443.4,803.6 446.4,802.8 449.4,801.9 452.4,801.1 455.4,800.3 458.4,799.4 461.4,798.6 464.4,797.8 467.4,796.9 470.3,796.1 473.3,795.3 476.3,794.4 479.3,793.6 482.3,792.8 485.3,791.9 488.3,791.1 491.3,790.3 494.3,789.4 497.3,788.6 500.2,787.8 503.2,787.0 506.2,786.1 509.2,785.3 512.2,784.5 515.2,783.7 518.2,782.9 521.2,782.0 524.2,781.2 527.2,780.4 530.1,779.6 533.1,778.8 536.1,778.0 539.1,777.2 542.1,776.4 545.1,775.6" fill="none" stroke="#86b7eb" stroke-width="3.00" stroke-dasharray="12.12 6.06"/>
<path d="M365.7,835.2 368.7,834.2 371.7,833.1 374.7,832.1 377.6,831.0 380.6,830.0 383.6,828.9 386.6,827.8 389.6,826.8 392.6,825.7 395.6,824.6 398.6,823.5 401.6,822.4 404.6,821.3 407.5,820.2 410.5,819.1 413.5,817.9 416.5,816.8 419.5,815.7 422.5,814.6 425.5,813.4 428.5,812.3 431.5,811.1 434.5,810.0 437.5,808.8 440.4,807.7 443.4,806.5 446.4,805.4 449.4,804.2 452.4,803.1 455.4,801.9 458.4,800.8 461.4,799.6 464.4,798.4 467.4,797.3 470.3,796.1 473.3,795.0 476.3,793.8 479.3,792.6 482.3,791.5 485.3,790.3 488.3,789.2 491.3,788.0 494.3,786.9 497.3,785.7 500.2,784.6 503.2,783.5 506.2,782.3 509.2,781.2 512.2,780.1 515.2,778.9 518.2,777.8 521.2,776.7 524.2,775.6 527.2,774.5 530.1,773.4 533.1,772.3 536.1,771.2 539.1,770.1 542.1,769.1 545.1,768.0" fill="none" stroke="#73a2d7" stroke-width="3.00" stroke-dasharray="6.06 6.06"/>
<path d="M365.7,844.9 368.7,843.7 371.7,842.4 374.7,841.2 377.6,839.9 380.6,838.7 383.6,837.4 386.6,836.1 389.6,834.8 392.6,833.5 395.6,832.1 398.6,830.8 401.6,829.4 404.6,828.0 407.5,826.7 410.5,825.3 413.5,823.9 416.5,822.5 419.5,821.1 422.5,819.6 425.5,818.2 428.5,816.8 431.5,815.3 434.5,813.9 437.5,812.4 440.4,810.9 443.4,809.5 446.4,808.0 449.4,806.5 452.4,805.0 455.4,803.6 458.4,802.1 461.4,800.6 464.4,799.1 467.4,797.6 470.3,796.1 473.3,794.7 476.3,793.2 479.3,791.7 482.3,790.2 485.3,788.7 488.3,787.3 491.3,785.8 494.3,784.3 497.3,782.9 500.2,781.4 503.2,780.0 506.2,778.6 509.2,777.1 512.2,775.7 515.2,774.3 518.2,772.9 521.2,771.5 524.2,770.1 527.2,768.7 530.1,767.4 533.1,766.0 536.1,764.7 539.1,763.4 542.1,762.0 545.1,760.7" fill="none" stroke="#608ec4" stroke-width="3.00" stroke-dasharray="3.03 9.09 12.12 9.09"/>
<path d="M365.7,853.8 368.7,852.4 371.7,851.0 374.7,849.7 377.6,848.2 380.6,846.8 383.6,845.3 386.6,843.9 389.6,842.4 392.6,840.8 395.6,839.3 398.6,837.7 401.6,836.2 404.6,834.6 407.5,832.9 410.5,831.3 413.5,829.7 416.5,828.0 419.5,826.3 422.5,824.6 425.5,822.9 428.5,821.2 431.5,819.4 434.5,817.7 437.5,815.9 440.4,814.2 443.4,812.4 446.4,810.6 449.4,808.8 452.4,807.0 455.4,805.2 458.4,803.4 461.4,801.6 464.4,799.8 467.4,798.0 470.3,796.2 473.3,794.4 476.3,792.6 479.3,790.7 482.3,789.0 485.3,787.2 488.3,785.4 491.3,783.6 494.3,781.8 497.3,780.1 500.2,778.3 503.2,776.6 506.2,774.8 509.2,773.1 512.2,771.4 515.2,769.7 518.2,768.1 521.2,766.4 524.2,764.8 527.2,763.2 530.1,761.6 533.1,760.0 536.1,758.4 539.1,756.9 542.1,755.3 545.1,753.8" fill="none" stroke="#4d7bb1" stroke-width="3.00" stroke-dasharray="3.03 9.09"/>
<path d="M365.7,861.7 368.7,860.3 371.7,858.8 374.7,857.4 377.6,855.8 380.6,854.3 383.6,852.7 386.6,851.1 389.6,849.5 392.6,847.8 395.6,846.1 398.6,844.3 401.6,842.6 404.6,840.8 407.5,839.0 410.5,837.1 413.5,835.2 416.5,833.3 419.5,831.4 422.5,829.5 425.5,827.5 428.5,825.5 431.5,823.5 434.5,821.5 437.5,819.4 440.4,817.3 443.4,815.3 446.4,813.2 449.4,811.1 452.4,809.0 455.4,806.8 458.4,804.7 461.4,802.6 464.4,800.5 467.4,798.3 470.3,796.2 473.3,794.1 476.3,791.9 479.3,789.8 482.3,787.7 485.3,785.6 488.3,783.5 491.3,781.4 494.3,779.3 497.3,777.3 500.2,775.2 503.2,773.2 506.2,771.2 509.2,769.2 512.2,767.2 515.2,765.3 518.2,763.4 521.2,761.5 524.2,759.6 527.2,757.8 530.1,756.0 533.1,754.2 536.1,752.4 539.1,750.7 542.1,749.0 545.1,747.4" fill="none" stroke="#39689e" stroke-width="3.00" stroke-dasharray="6.06 6.06 18.18 6.06"/>
<path d="M365.7,868.7 368.7,867.3 371.7,865.8 374.7,864.3 377.6,862.7 380.6,861.1 383.6,859.5 386.6,857.8 389.6,856.0 392.6,854.3 395.6,852.4 398.6,850.6 401.6,848.7 404.6,846.7 407.5,844.7 410.5,842.7 413.5,840.6 416.5,838.5 419.5,836.4 422.5,834.2 425.5,832.0 428.5,829.7 431.5,827.5 434.5,825.2 437.5,822.9 440.4,820.5 443.4,818.1 446.4,815.8 449.4,813.3 452.4,810.9 455.4,808.5 458.4,806.0 461.4,803.6 464.4,801.1 467.4,798.7 470.3,796.2 473.3,793.8 476.3,791.3 479.3,788.9 482.3,786.4 485.3,784.0 488.3,781.6 491.3,779.2 494.3,776.8 497.3,774.5 500.2,772.2 503.2,769.9 506.2,767.6 509.2,765.4 512.2,763.2 515.2,761.0 518.2,758.8 521.2,756.7 524.2,754.7 527.2,752.6 530.1,750.7 533.1,748.7 536.1,746.8 539.1,744.9 542.1,743.1 545.1,741.3" fill="none" stroke="#23568c" stroke-width="3.00" stroke-dasharray="3.03 6.06 6.06 6.06 9.09 6.06 12.12 6.06"/>
<path d="M365.7,874.9 368.7,873.4 371.7,872.0 374.7,870.5 377.6,868.9 380.6,867.3 383.6,865.6 386.6,863.8 389.6,862.1 392.6,860.2 395.6,858.3 398.6,856.4 401.6,854.3 404.6,852.3 407.5,850.2 410.5,848.0 413.5,845.8 416.5,843.5 419.5,841.2 422.5,838.8 425.5,836.4 428.5,833.9 431.5,831.4 434.5,828.8 437.5,826.3 440.4,823.6 443.4,821.0 446.4,818.3 449.4,815.6 452.4,812.9 455.4,810.1 458.4,807.4 461.4,804.6 464.4,801.8 467.4,799.0 470.3,796.2 473.3,793.5 476.3,790.7 479.3,787.9 482.3,785.2 485.3,782.4 488.3,779.7 491.3,777.0 494.3,774.4 497.3,771.8 500.2,769.2 503.2,766.6 506.2,764.1 509.2,761.6 512.2,759.2 515.2,756.8 518.2,754.5 521.2,752.2 524.2,749.9 527.2,747.7 530.1,745.6 533.1,743.5 536.1,741.5 539.1,739.5 542.1,737.6 545.1,735.8" fill="none" stroke="#02447a" stroke-width="3.00" stroke-dasharray="45.45 6.06 24.24 6.06"/>
<path d="M365.7,785.6 368.7,785.9 371.7,786.2 374.7,786.4 377.6,786.7 380.6,787.0 383.6,787.3 386.6,787.5 389.6,787.8 392.6,788.1 395.6,788.3 398.6,788.5 401.6,788.7 404.6,789.0 407.5,789.1 410.5,789.3 413.5,789.5 416.5,789.6 419.5,789.7 422.5,789.8 425.5,789.9 428.5,789.9 431.5,789.9 434.5,789.8 437.5,789.7 440.4,789.6 443.4,789.4 446.4,789.1 449.4,788.8 452.4,788.4 455.4,787.9 458.4,787.4 461.4,786.7 464.4,786.1 467.4,785.3 470.3,784.5 473.3,783.7 476.3,782.8 479.3,781.8 482.3,780.8 485.3,779.8 488.3,778.8 491.3,777.7 494.3,776.6 497.3,775.5 500.2,774.4 503.2,773.2 506.2,772.1 509.2,770.9 512.2,769.8 515.2,768.6 518.2,767.5 521.2,766.3 524.2,765.1 527.2,764.0 530.1,762.8 533.1,761.7 536.1,760.5 539.1,759.4 542.1,758.3 545.1,757.1 L545.1,811.8 542.1,811.5 539.1,811.2 536.1,810.9 533.1,810.6 530.1,810.3 527.2,810.0 524.2,809.8 521.2,809.5 518.2,809.3 515.2,809.0 512.2,808.8 509.2,808.6 506.2,808.4 503.2,808.2 500.2,808.0 497.3,807.8 494.3,807.7 491.3,807.6 488.3,807.5 485.3,807.4 482.3,807.4 479.3,807.4 476.3,807.4 473.3,807.5 470.3,807.7 467.4,807.9 464.4,808.1 461.4,808.5 458.4,808.9 455.4,809.3 452.4,809.9 449.4,810.5 446.4,811.1 443.4,811.9 440.4,812.7 437.5,813.5 434.5,814.4 431.5,815.4 428.5,816.3 425.5,817.4 422.5,818.4 419.5,819.5 416.5,820.6 413.5,821.7 410.5,822.8 407.5,823.9 404.6,825.1 401.6,826.2 398.6,827.4 395.6,828.5 392.6,829.7 389.6,830.9 386.6,832.0 383.6,833.2 380.6,834.3 377.6,835.5 374.7,836.6 371.7,837.8 368.7,838.9 365.7,840.0Z" fill="#99ccff" fill-opacity="0.20"/>
<path d="M365.7,803.2 368.7,803.0 371.7,802.7 374.7,802.5 377.6,802.3 380.6,802.1 383.6,801.9 386.6,801.7 389.6,801.4 392.6,801.2 395.6,800.9 398.6,800.7 401.6,800.4 404.6,800.1 407.5,799.9 410.5,799.6 413.5,799.2 416.5,798.9 419.5,798.6 422.5,798.2 425.5,797.8 428.5,797.4 431.5,796.9 434.5,796.5 437.5,796.0 440.4,795.4 443.4,794.8 446.4,794.1 449.4,793.4 452.4,792.7 455.4,791.9 458.4,791.0 461.4,790.1 464.4,789.1 467.4,788.1 470.3,787.1 473.3,786.0 476.3,784.8 479.3,783.6 482.3,782.4 485.3,781.2 488.3,780.0 491.3,778.7 494.3,777.4 497.3,776.2 500.2,774.9 503.2,773.6 506.2,772.3 509.2,770.9 512.2,769.6 515.2,768.3 518.2,767.0 521.2,765.7 524.2,764.4 527.2,763.1 530.1,761.9 533.1,760.6 536.1,759.3 539.1,758.1 542.1,756.8 545.1,755.6 L545.1,797.5 542.1,797.7 539.1,797.9 536.1,798.1 533.1,798.3 530.1,798.5 527.2,798.7 524.2,798.9 521.2,799.2 518.2,799.4 515.2,799.7 512.2,799.9 509.2,800.2 506.2,800.5 503.2,800.7 500.2,801.0 497.3,801.3 494.3,801.7 491.3,802.0 488.3,802.4 485.3,802.8 482.3,803.2 479.3,803.6 476.3,804.1 473.3,804.6 470.3,805.2 467.4,805.7 464.4,806.4 461.4,807.1 458.4,807.8 455.4,808.6 452.4,809.5 449.4,810.4 446.4,811.3 443.4,812.3 440.4,813.4 437.5,814.5 434.5,815.6 431.5,816.8 428.5,817.9 425.5,819.2 422.5,820.4 419.5,821.6 416.5,822.9 413.5,824.2 410.5,825.4 407.5,826.7 404.6,828.0 401.6,829.3 398.6,830.6 395.6,831.9 392.6,833.1 389.6,834.4 386.6,835.7 383.6,836.9 380.6,838.2 377.6,839.5 374.7,840.7 371.7,841.9 368.7,843.1 365.7,844.4Z" fill="#86b7eb" fill-opacity="0.20"/>
<path d="M365.7,819.4 368.7,818.8 371.7,818.1 374.7,817.4 377.6,816.8 380.6,816.1 383.6,815.4 386.6,814.8 389.6,814.1 392.6,813.4 395.6,812.7 398.6,812.0 401.6,811.3 404.6,810.6 407.5,809.8 410.5,809.1 413.5,808.4 416.5,807.6 419.5,806.8 422.5,806.0 425.5,805.2 428.5,804.4 431.5,803.5 434.5,802.6 437.5,801.7 440.4,800.8 443.4,799.8 446.4,798.8 449.4,797.7 452.4,796.6 455.4,795.5 458.4,794.3 461.4,793.1 464.4,791.8 467.4,790.5 470.3,789.2 473.3,787.8 476.3,786.4 479.3,785.0 482.3,783.6 485.3,782.1 488.3,780.6 491.3,779.2 494.3,777.7 497.3,776.2 500.2,774.7 503.2,773.2 506.2,771.7 509.2,770.2 512.2,768.8 515.2,767.3 518.2,765.8 521.2,764.4 524.2,762.9 527.2,761.5 530.1,760.0 533.1,758.6 536.1,757.2 539.1,755.8 542.1,754.5 545.1,753.1 L545.1,784.3 542.1,785.0 539.1,785.6 536.1,786.3 533.1,787.0 530.1,787.7 527.2,788.3 524.2,789.0 521.2,789.7 518.2,790.4 515.2,791.1 512.2,791.8 509.2,792.5 506.2,793.3 503.2,794.0 500.2,794.7 497.3,795.5 494.3,796.3 491.3,797.1 488.3,797.8 485.3,798.7 482.3,799.5 479.3,800.4 476.3,801.2 473.3,802.2 470.3,803.1 467.4,804.1 464.4,805.1 461.4,806.1 458.4,807.2 455.4,808.3 452.4,809.5 449.4,810.7 446.4,812.0 443.4,813.2 440.4,814.5 437.5,815.9 434.5,817.3 431.5,818.6 428.5,820.0 425.5,821.5 422.5,822.9 419.5,824.3 416.5,825.8 413.5,827.2 410.5,828.7 407.5,830.1 404.6,831.5 401.6,833.0 398.6,834.4 395.6,835.8 392.6,837.2 389.6,838.6 386.6,840.0 383.6,841.4 380.6,842.8 377.6,844.1 374.7,845.5 371.7,846.8 368.7,848.1 365.7,849.4Z" fill="#73a2d7" fill-opacity="0.20"/>
<path d="M365.7,832.7 368.7,831.7 371.7,830.7 374.7,829.8 377.6,828.8 380.6,827.8 383.6,826.7 386.6,825.7 389.6,824.7 392.6,823.6 395.6,822.6 398.6,821.5 401.6,820.5 404.6,819.4 407.5,818.3 410.5,817.2 413.5,816.1 416.5,814.9 419.5,813.8 422.5,812.6 425.5,811.4 428.5,810.2 431.5,809.0 434.5,807.8 437.5,806.5 440.4,805.2 443.4,803.9 446.4,802.5 449.4,801.1 452.4,799.7 455.4,798.2 458.4,796.7 461.4,795.1 464.4,793.6 467.4,792.0 470.3,790.3 473.3,788.7 476.3,787.0 479.3,785.3 482.3,783.6 485.3,781.9 488.3,780.2 491.3,778.4 494.3,776.7 497.3,775.0 500.2,773.3 503.2,771.5 506.2,769.8 509.2,768.1 512.2,766.4 515.2,764.8 518.2,763.1 521.2,761.4 524.2,759.8 527.2,758.2 530.1,756.6 533.1,755.0 536.1,753.4 539.1,751.9 542.1,750.4 545.1,748.9 L545.1,773.7 542.1,774.8 539.1,775.8 536.1,776.8 533.1,777.9 530.1,778.9 527.2,780.0 524.2,781.0 521.2,782.1 518.2,783.2 515.2,784.3 512.2,785.4 509.2,786.5 506.2,787.6 503.2,788.7 500.2,789.8 497.3,791.0 494.3,792.1 491.3,793.3 488.3,794.5 485.3,795.7 482.3,796.9 479.3,798.1 476.3,799.4 473.3,800.7 470.3,802.0 467.4,803.3 464.4,804.6 461.4,806.0 458.4,807.5 455.4,808.9 452.4,810.4 449.4,811.9 446.4,813.5 443.4,815.0 440.4,816.6 437.5,818.2 434.5,819.9 431.5,821.5 428.5,823.1 425.5,824.8 422.5,826.5 419.5,828.1 416.5,829.8 413.5,831.4 410.5,833.1 407.5,834.7 404.6,836.3 401.6,837.9 398.6,839.5 395.6,841.1 392.6,842.7 389.6,844.2 386.6,845.7 383.6,847.2 380.6,848.7 377.6,850.2 374.7,851.6 371.7,853.0 368.7,854.4 365.7,855.8Z" fill="#608ec4" fill-opacity="0.20"/>
<path d="M365.7,842.6 368.7,841.4 371.7,840.2 374.7,839.0 377.6,837.8 380.6,836.6 383.6,835.3 386.6,834.1 389.6,832.8 392.6,831.5 395.6,830.2 398.6,828.9 401.6,827.5 404.6,826.2 407.5,824.8 410.5,823.4 413.5,822.0 416.5,820.6 419.5,819.2 422.5,817.7 425.5,816.2 428.5,814.7 431.5,813.2 434.5,811.6 437.5,810.1 440.4,808.4 443.4,806.8 446.4,805.1 449.4,803.4 452.4,801.6 455.4,799.8 458.4,798.0 461.4,796.1 464.4,794.2 467.4,792.3 470.3,790.4 473.3,788.4 476.3,786.4 479.3,784.4 482.3,782.4 485.3,780.3 488.3,778.3 491.3,776.3 494.3,774.3 497.3,772.2 500.2,770.2 503.2,768.2 506.2,766.3 509.2,764.3 512.2,762.4 515.2,760.4 518.2,758.6 521.2,756.7 524.2,754.8 527.2,753.0 530.1,751.2 533.1,749.5 536.1,747.7 539.1,746.0 542.1,744.4 545.1,742.7 L545.1,766.2 542.1,767.5 539.1,768.8 536.1,770.1 533.1,771.4 530.1,772.7 527.2,774.1 524.2,775.4 521.2,776.8 518.2,778.2 515.2,779.5 512.2,780.9 509.2,782.3 506.2,783.8 503.2,785.2 500.2,786.6 497.3,788.1 494.3,789.6 491.3,791.1 488.3,792.6 485.3,794.1 482.3,795.6 479.3,797.2 476.3,798.7 473.3,800.4 470.3,802.0 467.4,803.6 464.4,805.3 461.4,807.0 458.4,808.8 455.4,810.5 452.4,812.3 449.4,814.2 446.4,816.0 443.4,817.9 440.4,819.8 437.5,821.7 434.5,823.6 431.5,825.5 428.5,827.4 425.5,829.4 422.5,831.3 419.5,833.2 416.5,835.1 413.5,836.9 410.5,838.8 407.5,840.6 404.6,842.5 401.6,844.3 398.6,846.0 395.6,847.8 392.6,849.5 389.6,851.2 386.6,852.8 383.6,854.5 380.6,856.0 377.6,857.6 374.7,859.1 371.7,860.6 368.7,862.1 365.7,863.5Z" fill="#4d7bb1" fill-opacity="0.20"/>
<path d="M365.7,849.5 368.7,848.2 371.7,846.9 374.7,845.6 377.6,844.2 380.6,842.8 383.6,841.5 386.6,840.0 389.6,838.6 392.6,837.2 395.6,835.7 398.6,834.2 401.6,832.7 404.6,831.1 407.5,829.6 410.5,828.0 413.5,826.4 416.5,824.7 419.5,823.1 422.5,821.4 425.5,819.6 428.5,817.9 431.5,816.1 434.5,814.3 437.5,812.4 440.4,810.5 443.4,808.6 446.4,806.6 449.4,804.6 452.4,802.5 455.4,800.4 458.4,798.3 461.4,796.1 464.4,793.8 467.4,791.5 470.3,789.2 473.3,786.9 476.3,784.6 479.3,782.2 482.3,779.8 485.3,777.5 488.3,775.1 491.3,772.7 494.3,770.4 497.3,768.0 500.2,765.7 503.2,763.4 506.2,761.2 509.2,758.9 512.2,756.7 515.2,754.6 518.2,752.4 521.2,750.3 524.2,748.3 527.2,746.3 530.1,744.3 533.1,742.4 536.1,740.5 539.1,738.7 542.1,736.9 545.1,735.2 L545.1,761.5 542.1,763.0 539.1,764.4 536.1,765.9 533.1,767.4 530.1,769.0 527.2,770.5 524.2,772.1 521.2,773.7 518.2,775.2 515.2,776.9 512.2,778.5 509.2,780.1 506.2,781.8 503.2,783.4 500.2,785.1 497.3,786.8 494.3,788.6 491.3,790.3 488.3,792.1 485.3,793.9 482.3,795.7 479.3,797.5 476.3,799.4 473.3,801.3 470.3,803.2 467.4,805.1 464.4,807.1 461.4,809.1 458.4,811.1 455.4,813.2 452.4,815.3 449.4,817.5 446.4,819.6 443.4,821.8 440.4,824.0 437.5,826.2 434.5,828.4 431.5,830.6 428.5,832.8 425.5,835.0 422.5,837.2 419.5,839.4 416.5,841.5 413.5,843.6 410.5,845.7 407.5,847.7 404.6,849.7 401.6,851.7 398.6,853.6 395.6,855.5 392.6,857.3 389.6,859.1 386.6,860.9 383.6,862.6 380.6,864.3 377.6,865.9 374.7,867.4 371.7,869.0 368.7,870.4 365.7,871.9Z" fill="#39689e" fill-opacity="0.20"/>
<path d="M365.7,854.3 368.7,852.9 371.7,851.5 374.7,850.1 377.6,848.7 380.6,847.2 383.6,845.7 386.6,844.2 389.6,842.7 392.6,841.1 395.6,839.5 398.6,837.9 401.6,836.3 404.6,834.6 407.5,832.9 410.5,831.2 413.5,829.4 416.5,827.6 419.5,825.7 422.5,823.9 425.5,821.9 428.5,820.0 431.5,818.0 434.5,816.0 437.5,813.9 440.4,811.7 443.4,809.5 446.4,807.3 449.4,804.9 452.4,802.6 455.4,800.1 458.4,797.6 461.4,795.1 464.4,792.5 467.4,789.9 470.3,787.2 473.3,784.5 476.3,781.8 479.3,779.0 482.3,776.3 485.3,773.5 488.3,770.8 491.3,768.1 494.3,765.4 497.3,762.7 500.2,760.1 503.2,757.5 506.2,755.0 509.2,752.5 512.2,750.1 515.2,747.7 518.2,745.3 521.2,743.1 524.2,740.9 527.2,738.7 530.1,736.6 533.1,734.6 536.1,732.7 539.1,730.8 542.1,729.0 545.1,727.2 L545.1,758.9 542.1,760.5 539.1,762.1 536.1,763.7 533.1,765.4 530.1,767.1 527.2,768.8 524.2,770.5 521.2,772.2 518.2,774.0 515.2,775.8 512.2,777.6 509.2,779.4 506.2,781.2 503.2,783.1 500.2,785.0 497.3,786.9 494.3,788.8 491.3,790.8 488.3,792.8 485.3,794.8 482.3,796.8 479.3,798.9 476.3,801.0 473.3,803.1 470.3,805.3 467.4,807.5 464.4,809.7 461.4,812.0 458.4,814.4 455.4,816.7 452.4,819.1 449.4,821.6 446.4,824.0 443.4,826.5 440.4,829.0 437.5,831.5 434.5,834.0 431.5,836.5 428.5,839.0 425.5,841.4 422.5,843.8 419.5,846.2 416.5,848.6 413.5,850.9 410.5,853.1 407.5,855.3 404.6,857.5 401.6,859.5 398.6,861.6 395.6,863.5 392.6,865.4 389.6,867.3 386.6,869.1 383.6,870.8 380.6,872.4 377.6,874.0 374.7,875.6 371.7,877.1 368.7,878.5 365.7,879.8Z" fill="#23568c" fill-opacity="0.20"/>
<path d="M365.7,857.9 368.7,856.5 371.7,855.1 374.7,853.7 377.6,852.2 380.6,850.7 383.6,849.1 386.6,847.6 389.6,845.9 392.6,844.3 395.6,842.6 398.6,840.9 401.6,839.2 404.6,837.4 407.5,835.5 410.5,833.7 413.5,831.8 416.5,829.8 419.5,827.8 422.5,825.8 425.5,823.7 428.5,821.6 431.5,819.4 434.5,817.1 437.5,814.8 440.4,812.4 443.4,810.0 446.4,807.4 449.4,804.8 452.4,802.2 455.4,799.4 458.4,796.6 461.4,793.7 464.4,790.7 467.4,787.7 470.3,784.7 473.3,781.6 476.3,778.5 479.3,775.4 482.3,772.3 485.3,769.2 488.3,766.1 491.3,763.1 494.3,760.0 497.3,757.1 500.2,754.2 503.2,751.3 506.2,748.6 509.2,745.9 512.2,743.2 515.2,740.7 518.2,738.2 521.2,735.9 524.2,733.6 527.2,731.4 530.1,729.2 533.1,727.2 536.1,725.2 539.1,723.4 542.1,721.6 545.1,719.9 L545.1,757.3 542.1,759.0 539.1,760.8 536.1,762.5 533.1,764.3 530.1,766.1 527.2,767.9 524.2,769.8 521.2,771.6 518.2,773.5 515.2,775.5 512.2,777.4 509.2,779.4 506.2,781.4 503.2,783.4 500.2,785.5 497.3,787.6 494.3,789.7 491.3,791.8 488.3,794.0 485.3,796.2 482.3,798.5 479.3,800.8 476.3,803.1 473.3,805.4 470.3,807.8 467.4,810.3 464.4,812.8 461.4,815.4 458.4,818.0 455.4,820.6 452.4,823.3 449.4,826.0 446.4,828.8 443.4,831.5 440.4,834.3 437.5,837.1 434.5,839.8 431.5,842.6 428.5,845.3 425.5,847.9 422.5,850.5 419.5,853.1 416.5,855.6 413.5,858.0 410.5,860.4 407.5,862.7 404.6,864.9 401.6,867.0 398.6,869.1 395.6,871.0 392.6,872.9 389.6,874.7 386.6,876.5 383.6,878.1 380.6,879.7 377.6,881.2 374.7,882.7 371.7,884.0 368.7,885.3 365.7,886.5Z" fill="#02447a" fill-opacity="0.20"/>
<path d="M356.90,680.45 V916.95 H554.20" fill="none" stroke="#000" stroke-width="1.70"/>
<path d="M352.50,906.20 H356.40" stroke="#333" stroke-width="1.70"/>
<text x="348.50" y="912.20" text-anchor="end" class="tk">0.00</text>
<path d="M352.50,852.45 H356.40" stroke="#333" stroke-width="1.70"/>
<text x="348.50" y="858.45" text-anchor="end" class="tk">0.25</text>
<path d="M352.50,798.70 H356.40" stroke="#333" stroke-width="1.70"/>
<text x="348.50" y="804.70" text-anchor="end" class="tk">0.50</text>
<path d="M352.50,744.95 H356.40" stroke="#333" stroke-width="1.70"/>
<text x="348.50" y="750.95" text-anchor="end" class="tk">0.75</text>
<path d="M352.50,691.20 H356.40" stroke="#333" stroke-width="1.70"/>
<text x="348.50" y="697.20" text-anchor="end" class="tk">1.00</text>
<path d="M396.60,917.45 V921.35" stroke="#333" stroke-width="1.70"/>
<text x="396.60" y="937.25" text-anchor="middle" class="tk">-2</text>
<path d="M455.20,917.45 V921.35" stroke="#333" stroke-width="1.70"/>
<text x="455.20" y="937.25" text-anchor="middle" class="tk">0</text>
<path d="M513.80,917.45 V921.35" stroke="#333" stroke-width="1.70"/>
<text x="513.80" y="937.25" text-anchor="middle" class="tk">2</text>
<text x="455.55" y="957.25" text-anchor="middle" class="ti">Δuncertainty (right-left)</text>
<text transform="translate(308.00,798.70) rotate(-90)" text-anchor="middle" class="ti yt">P(choose right)</text>
<text x="287.60" y="667.95" class="pl">f</text>
</g>
<g>
<text x="574.30" y="55.40" class="lt">Age (years)</text>
<path d="M582.90,76.40 H651.20" stroke="#ff9999" stroke-width="3.00"/>
<text x="666.60" y="81.20" class="ll">4</text>
<path d="M582.90,100.95 H651.20" stroke="#f08785" stroke-width="3.00" stroke-dasharray="12.12 6.06"/>
<text x="666.60" y="105.75" class="ll">5</text>
<path d="M582.90,125.50 H651.20" stroke="#e07671" stroke-width="3.00" stroke-dasharray="6.06 6.06"/>
<text x="666.60" y="130.30" class="ll">6</text>
<path d="M582.90,150.05 H651.20" stroke="#d1655d" stroke-width="3.00" stroke-dasharray="3.03 9.09 12.12 9.09"/>
<text x="666.60" y="154.85" class="ll">7</text>
<path d="M582.90,174.60 H651.20" stroke="#c1544a" stroke-width="3.00" stroke-dasharray="3.03 9.09"/>
<text x="666.60" y="179.40" class="ll">8</text>
<path d="M582.90,199.15 H651.20" stroke="#b14338" stroke-width="3.00" stroke-dasharray="6.06 6.06 18.18 6.06"/>
<text x="666.60" y="203.95" class="ll">9</text>
<path d="M582.90,223.70 H651.20" stroke="#a13126" stroke-width="3.00" stroke-dasharray="3.03 6.06 6.06 6.06 9.09 6.06 12.12 6.06"/>
<text x="666.60" y="228.50" class="ll">10</text>
<path d="M582.90,248.25 H651.20" stroke="#901d15" stroke-width="3.00" stroke-dasharray="45.45 6.06 24.24 6.06"/>
<text x="666.60" y="253.05" class="ll">11</text>
<path d="M582.90,272.80 H651.20" stroke="#800000" stroke-width="3.00" stroke-dasharray="45.45 12.12 12.12 12.12 24.24 12.12 12.12 12.12"/>
<text x="666.60" y="277.60" class="ll">12</text>
</g>
<g>
<text x="575.40" y="372.60" class="lt">Age (years)</text>
<path d="M584.00,393.60 H652.30" stroke="#33ff33" stroke-width="3.00"/>
<text x="667.70" y="398.40" class="ll">4</text>
<path d="M584.00,418.15 H652.30" stroke="#2ce72c" stroke-width="3.00" stroke-dasharray="12.12 6.06"/>
<text x="667.70" y="422.95" class="ll">5</text>
<path d="M584.00,442.70 H652.30" stroke="#25cf24" stroke-width="3.00" stroke-dasharray="6.06 6.06"/>
<text x="667.70" y="447.50" class="ll">6</text>
<path d="M584.00,467.25 H652.30" stroke="#1eb81d" stroke-width="3.00" stroke-dasharray="3.03 9.09 12.12 9.09"/>
<text x="667.70" y="472.05" class="ll">7</text>
<path d="M584.00,491.80 H652.30" stroke="#17a116" stroke-width="3.00" stroke-dasharray="3.03 9.09"/>
<text x="667.70" y="496.60" class="ll">8</text>
<path d="M584.00,516.35 H652.30" stroke="#108b0f" stroke-width="3.00" stroke-dasharray="6.06 6.06 18.18 6.06"/>
<text x="667.70" y="521.15" class="ll">9</text>
<path d="M584.00,540.90 H652.30" stroke="#097608" stroke-width="3.00" stroke-dasharray="3.03 6.06 6.06 6.06 9.09 6.06 12.12 6.06"/>
<text x="667.70" y="545.70" class="ll">10</text>
<path d="M584.00,565.45 H652.30" stroke="#036103" stroke-width="3.00" stroke-dasharray="45.45 6.06 24.24 6.06"/>
<text x="667.70" y="570.25" class="ll">11</text>
<path d="M584.00,590.00 H652.30" stroke="#004d00" stroke-width="3.00" stroke-dasharray="45.45 12.12 12.12 12.12 24.24 12.12 12.12 12.12"/>
<text x="667.70" y="594.80" class="ll">12</text>
</g>
<g>
<text x="574.30" y="689.80" class="lt">Age (years)</text>
<path d="M582.90,710.80 H651.20" stroke="#99ccff" stroke-width="3.00"/>
<text x="666.60" y="715.60" class="ll">4</text>
<path d="M582.90,735.35 H651.20" stroke="#88baee" stroke-width="3.00" stroke-dasharray="12.12 6.06"/>
<text x="666.60" y="740.15" class="ll">5</text>
<path d="M582.90,759.90 H651.20" stroke="#78a8dc" stroke-width="3.00" stroke-dasharray="6.06 6.06"/>
<text x="666.60" y="764.70" class="ll">6</text>
<path d="M582.90,784.45 H651.20" stroke="#6796cb" stroke-width="3.00" stroke-dasharray="3.03 9.09 12.12 9.09"/>
<text x="666.60" y="789.25" class="ll">7</text>
<path d="M582.90,809.00 H651.20" stroke="#5685ba" stroke-width="3.00" stroke-dasharray="3.03 9.09"/>
<text x="666.60" y="813.80" class="ll">8</text>
<path d="M582.90,833.55 H651.20" stroke="#4574aa" stroke-width="3.00" stroke-dasharray="6.06 6.06 18.18 6.06"/>
<text x="666.60" y="838.35" class="ll">9</text>
<path d="M582.90,858.10 H651.20" stroke="#34639a" stroke-width="3.00" stroke-dasharray="3.03 6.06 6.06 6.06 9.09 6.06 12.12 6.06"/>
<text x="666.60" y="862.90" class="ll">10</text>
<path d="M582.90,882.65 H651.20" stroke="#20538a" stroke-width="3.00" stroke-dasharray="45.45 6.06 24.24 6.06"/>
<text x="666.60" y="887.45" class="ll">11</text>
<path d="M582.90,907.20 H651.20" stroke="#02447a" stroke-width="3.00" stroke-dasharray="45.45 12.12 12.12 12.12 24.24 12.12 12.12 12.12"/>
<text x="666.60" y="912.00" class="ll">12</text>
</g>
<text x="0.3" y="13.7" class="hd">Experiment 1</text>
<text x="287.2" y="13.7" class="hd">Experiment 2</text>
</svg>
</body>
</html>
